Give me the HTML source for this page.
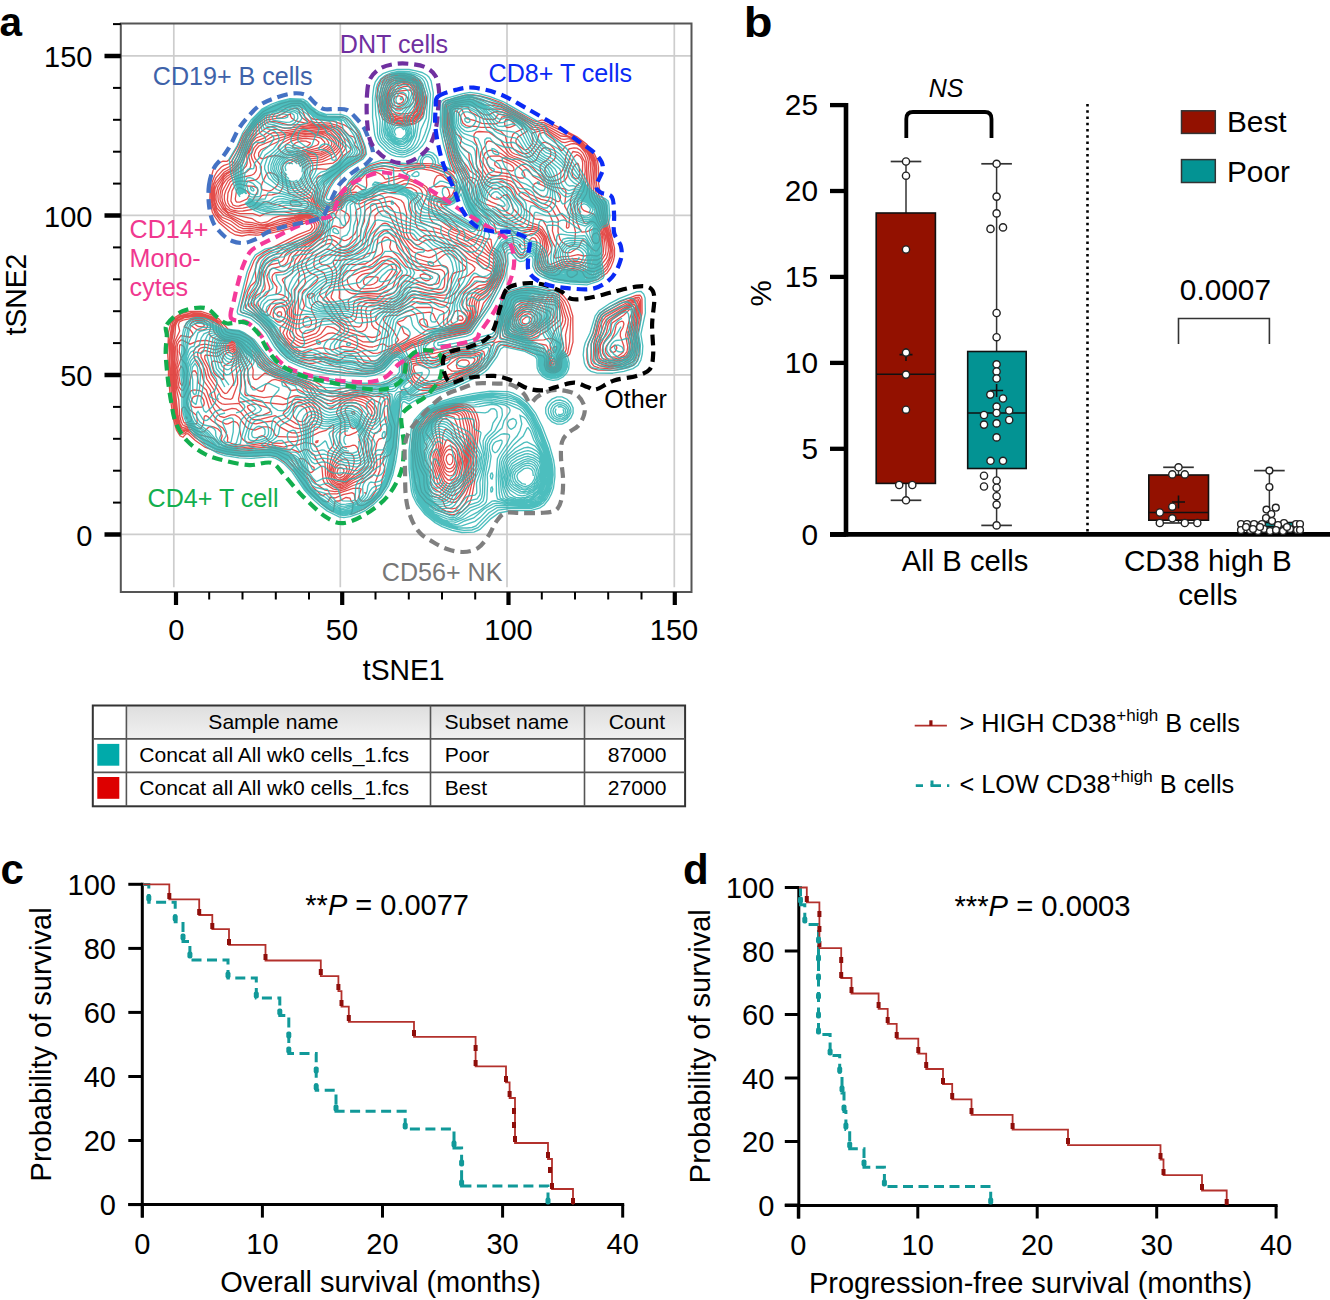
<!DOCTYPE html>
<html><head><meta charset="utf-8"><style>
html,body{margin:0;padding:0;background:#fff;}
body{width:1330px;height:1300px;overflow:hidden;}
svg{display:block;font-family:"Liberation Sans", sans-serif;}
</style></head><body>
<svg width="1330" height="1300" viewBox="0 0 1330 1300">
<rect width="1330" height="1300" fill="#fff"/>
<line x1="173.8" y1="23.5" x2="173.8" y2="587.3" stroke="#cdcdcd" stroke-width="1.7"/>
<line x1="340.3" y1="23.5" x2="340.3" y2="587.3" stroke="#cdcdcd" stroke-width="1.7"/>
<line x1="507" y1="23.5" x2="507" y2="587.3" stroke="#cdcdcd" stroke-width="1.7"/>
<line x1="674.3" y1="23.5" x2="674.3" y2="587.3" stroke="#cdcdcd" stroke-width="1.7"/>
<line x1="120.8" y1="55.8" x2="691.5" y2="55.8" stroke="#cdcdcd" stroke-width="1.7"/>
<line x1="120.8" y1="215.3" x2="691.5" y2="215.3" stroke="#cdcdcd" stroke-width="1.7"/>
<line x1="120.8" y1="374.8" x2="691.5" y2="374.8" stroke="#cdcdcd" stroke-width="1.7"/>
<line x1="120.8" y1="534.4" x2="691.5" y2="534.4" stroke="#cdcdcd" stroke-width="1.7"/>
<defs><clipPath id="clipA"><rect x="121.5" y="24.5" width="569" height="566.5"/></clipPath></defs>
<g clip-path="url(#clipA)">
<path d="M405.0,126.0 398.0,125.7 393.0,124.7 388.0,122.7 383.1,119.0 379.6,112.0 376.7,98.0 377.9,87.0 381.0,79.5 387.0,75.4 392.0,74.1 400.0,73.7 406.0,73.9 413.0,75.6 417.0,77.9 419.0,79.9 421.9,84.0 424.5,90.0 426.4,97.0 426.4,103.0 423.3,116.0 420.0,120.2 415.0,123.7 405.0,126.0 M365.0,374.0 345.5,373.0 322.6,370.0 307.0,366.2 293.0,361.0 287.0,357.2 282.0,352.2 277.0,345.9 269.0,333.0 260.4,323.0 252.0,316.1 246.0,313.5 242.0,312.6 240.3,311.0 240.9,306.0 249.0,273.6 254.0,261.0 257.0,256.5 264.0,251.9 298.0,234.7 309.9,230.0 312.3,227.0 311.0,223.8 309.0,222.6 307.0,222.5 290.0,228.7 272.0,232.9 258.0,235.2 249.0,234.7 242.0,236.0 235.4,235.0 230.1,232.0 219.0,222.6 214.3,216.0 212.3,212.0 209.8,201.0 210.3,181.0 213.0,170.5 216.8,165.0 219.2,163.0 223.0,161.2 227.0,161.3 230.0,159.0 237.2,147.0 243.4,134.0 254.4,120.0 263.0,111.8 272.1,107.0 280.0,103.9 290.0,101.2 300.0,101.0 304.0,102.4 310.0,108.6 318.0,114.6 325.0,116.8 343.0,117.0 345.6,118.0 349.0,120.8 355.6,128.0 359.6,134.0 363.6,144.0 365.3,150.0 365.2,154.0 361.0,158.8 347.6,167.0 340.4,173.0 333.6,180.0 328.5,188.0 323.7,199.0 323.9,202.0 327.0,204.2 329.0,203.8 332.0,201.4 344.0,187.7 348.0,184.5 362.0,170.3 370.0,165.7 381.0,162.6 391.0,162.4 399.0,164.4 406.0,165.1 417.0,163.3 433.0,163.8 446.0,167.6 455.0,173.0 455.1,174.0 450.5,163.0 448.4,156.0 444.2,137.0 442.9,128.0 443.0,104.0 443.9,102.0 446.0,100.5 465.0,95.2 473.0,95.0 481.0,96.2 490.0,98.5 501.0,102.5 534.0,121.0 537.0,121.5 542.0,120.0 549.0,122.4 577.0,136.8 586.5,144.0 594.5,154.0 597.5,161.0 598.5,167.0 598.5,183.0 599.5,189.0 601.4,196.0 605.7,202.0 607.9,220.0 614.5,248.0 614.5,256.0 613.4,261.0 610.6,268.0 607.0,273.0 598.0,279.3 589.0,282.0 580.0,282.1 576.0,281.2 568.0,281.0 549.0,277.8 540.0,273.3 537.0,270.5 535.5,268.0 534.9,264.0 536.9,243.0 536.7,241.0 535.0,238.4 533.0,237.6 532.0,237.8 529.6,240.0 528.9,248.0 528.0,251.0 525.2,256.0 522.0,258.0 520.0,257.8 517.6,256.0 508.0,243.3 506.0,242.4 505.0,242.7 503.3,244.0 502.4,246.0 504.7,253.0 506.0,261.0 503.9,274.0 502.6,278.0 488.2,306.0 470.3,332.0 467.0,333.7 436.0,340.2 411.4,348.0 397.8,355.0 392.6,359.0 385.0,367.3 382.0,369.6 375.0,372.6 365.0,374.0 M481.6,230.0 483.3,228.0 483.3,226.0 477.0,218.9 469.0,206.8 461.5,188.0 460.0,186.0 460.0,184.5 460.0,186.1 460.9,187.0 459.4,192.0 454.0,200.4 449.0,204.0 446.0,204.5 441.0,203.8 440.9,205.0 443.0,207.6 448.0,211.4 463.0,221.5 478.0,230.4 480.0,230.7 481.6,230.0 M500.5,238.0 500.1,236.0 498.8,236.0 498.1,237.0 498.4,238.0 499.0,238.5 500.5,238.0 M573.1,277.0 577.0,274.3 577.4,272.0 577.0,271.0 572.0,269.9 567.0,271.0 567.1,274.0 568.2,276.0 571.0,277.5 573.1,277.0 M352.0,514.0 350.9,514.0 352.2,511.0 353.3,503.0 351.2,501.0 349.9,498.0 346.0,497.5 338.8,501.0 335.0,501.2 333.4,511.0 333.0,511.7 331.0,510.7 321.0,503.4 307.7,490.0 294.0,471.6 286.0,463.3 276.0,456.5 269.0,455.1 251.0,456.3 241.0,456.0 226.0,453.8 216.0,451.5 205.0,447.2 195.0,440.3 188.0,433.7 186.0,433.9 183.0,437.3 180.0,435.7 176.4,430.0 173.2,418.0 170.3,398.0 168.5,376.0 168.4,363.0 167.6,353.0 168.6,332.0 170.5,324.0 174.0,318.0 181.0,313.6 190.0,311.3 201.0,311.5 213.0,315.4 219.0,319.1 228.0,329.2 232.0,330.4 239.0,331.1 249.0,336.5 252.0,339.2 266.0,357.4 270.0,361.4 281.0,368.0 294.6,373.0 319.0,378.8 347.0,383.8 358.0,384.9 381.0,384.9 387.0,383.5 395.5,378.0 399.0,377.6 401.6,376.0 402.8,373.0 403.2,361.0 405.0,358.4 408.0,356.6 429.0,351.2 465.0,344.6 493.0,337.1 495.4,334.0 497.5,321.0 503.0,299.1 505.0,295.3 509.0,292.4 520.0,288.8 526.0,287.8 533.0,287.8 548.0,290.6 554.0,290.2 559.0,292.4 563.6,296.0 566.9,300.0 569.5,305.0 572.8,316.0 573.0,342.0 569.8,354.0 568.0,356.0 564.0,357.0 562.0,359.0 561.4,367.0 560.0,370.0 558.0,371.7 555.0,372.8 551.0,372.8 548.0,371.7 546.0,370.0 544.3,365.0 545.0,358.6 543.0,355.8 534.5,354.0 524.0,349.7 501.0,344.5 497.7,347.0 493.9,356.0 485.1,368.0 477.0,373.6 469.0,377.6 453.0,384.4 423.0,394.0 417.2,395.0 411.0,395.1 409.0,394.2 405.0,389.5 403.0,389.5 401.2,391.0 400.1,393.0 400.0,407.0 399.2,410.0 395.9,448.0 392.0,469.0 388.0,480.9 385.8,486.0 380.9,494.0 373.0,502.4 364.0,508.9 352.0,514.0 M614.0,370.3 598.0,370.2 592.0,368.5 589.9,367.0 588.0,363.5 586.9,359.0 587.0,349.0 588.5,343.0 593.0,333.3 596.2,321.0 598.2,316.0 600.2,313.0 610.0,306.5 620.0,301.7 636.0,295.4 640.0,295.1 641.5,297.0 642.0,299.0 642.1,313.0 637.7,334.0 639.5,346.0 639.1,354.0 637.9,359.0 636.0,362.9 633.0,365.3 624.0,368.4 614.0,370.3 M456.0,514.1 452.0,514.8 446.0,513.7 436.0,509.5 425.6,502.0 419.8,495.0 417.0,489.0 415.1,482.0 413.0,467.3 412.9,458.0 411.9,450.0 412.0,442.0 413.2,431.0 415.5,425.0 418.6,420.0 425.0,413.7 434.0,408.2 446.0,404.5 455.0,403.3 466.0,404.2 470.0,405.6 473.0,407.8 476.9,414.0 478.8,421.0 479.1,425.0 476.3,452.0 476.2,466.0 475.2,478.0 472.0,496.0 470.0,502.3 467.8,506.0 462.0,511.6 456.0,514.1 M407.0,124.1 400.0,124.5 390.3,122.0 385.0,118.5 382.0,113.0 379.8,105.0 379.1,96.0 382.6,82.0 385.0,79.0 388.4,77.0 394.0,75.5 401.0,75.3 405.0,75.4 412.0,77.1 415.0,78.5 417.8,81.0 420.6,85.0 422.3,89.0 424.4,97.0 424.7,102.0 422.4,114.0 419.7,118.0 416.0,121.1 412.0,123.1 407.0,124.1 M592.0,278.0 588.0,278.1 586.0,277.4 584.5,276.0 582.3,272.0 578.0,269.7 573.0,268.3 561.7,270.0 559.0,274.1 555.0,275.7 549.0,274.9 542.0,272.0 538.5,269.0 537.1,266.0 538.6,254.0 540.1,249.0 540.5,245.0 540.0,240.0 537.0,235.7 534.0,233.9 531.0,233.7 525.0,237.0 524.0,240.0 525.1,249.0 523.1,254.0 521.0,254.9 518.5,253.0 514.2,246.0 512.5,237.0 510.7,233.0 507.0,231.2 504.0,230.6 496.0,232.4 494.6,225.0 493.0,221.9 482.5,216.0 474.0,208.2 469.4,201.0 462.5,182.0 452.7,163.0 449.7,154.0 444.7,128.0 444.6,107.0 446.0,103.0 452.0,100.6 466.0,97.2 471.0,97.0 500.0,104.6 514.0,111.6 534.0,123.1 537.0,123.7 541.0,122.3 544.0,122.7 570.0,134.7 581.0,141.2 589.3,149.0 593.3,155.0 595.8,161.0 596.7,168.0 596.4,183.0 597.4,190.0 599.4,197.0 603.9,204.0 606.0,220.0 610.3,236.0 612.9,250.0 612.8,255.0 611.6,260.0 607.3,269.0 605.0,271.5 601.0,274.3 596.0,277.0 592.0,278.0 M367.0,371.1 362.0,371.0 356.0,369.3 348.0,369.1 342.0,367.2 335.0,366.5 324.0,361.6 320.0,361.7 313.0,363.4 308.0,363.3 301.0,361.4 295.9,359.0 293.0,357.0 277.0,341.1 270.1,331.0 262.0,321.5 254.0,314.0 245.3,308.0 245.2,302.0 247.7,292.0 250.7,286.0 255.0,282.0 256.0,280.1 255.2,269.0 256.7,264.0 259.6,259.0 264.6,255.0 281.3,246.0 296.0,238.7 311.5,232.0 314.7,228.0 314.7,225.0 313.6,223.0 311.0,220.9 307.0,220.3 289.0,226.7 271.0,231.2 257.0,233.1 250.0,232.4 241.0,233.2 235.0,231.5 220.4,221.0 215.2,214.0 212.6,207.0 211.3,201.0 211.3,191.0 212.2,182.0 214.5,176.0 217.0,171.6 221.4,167.0 224.0,165.4 229.0,163.8 231.9,161.0 236.0,153.8 243.7,137.0 247.8,131.0 255.8,121.0 264.0,113.9 276.0,110.2 283.0,106.3 291.0,103.5 299.0,103.1 302.0,104.0 304.6,107.0 310.0,117.0 312.9,119.0 333.0,121.2 344.0,124.8 352.0,129.6 356.0,133.3 358.2,137.0 361.1,145.0 363.0,152.0 361.0,156.0 346.6,164.0 324.1,182.0 323.6,183.0 324.2,187.0 323.9,191.0 321.3,200.0 322.0,202.8 324.0,205.1 327.0,206.4 331.0,204.8 345.0,189.6 349.0,186.8 353.0,182.4 357.6,179.0 364.0,172.0 372.0,167.8 383.0,165.9 391.0,166.7 398.0,168.3 404.0,168.1 416.0,165.3 420.0,165.2 432.0,166.0 443.0,169.0 449.6,172.0 453.6,176.0 456.3,182.0 457.3,189.0 453.4,197.0 449.0,201.6 445.0,202.5 437.4,201.0 436.9,204.0 438.0,207.0 441.0,210.5 450.3,218.0 456.8,226.0 475.0,234.5 482.0,236.7 486.0,239.0 490.0,239.0 491.0,239.6 492.0,247.0 500.0,252.3 503.2,260.0 503.5,263.0 502.1,273.0 500.2,279.0 496.0,287.2 492.0,293.1 483.5,303.0 479.1,316.0 469.0,330.8 465.0,332.4 434.0,338.6 412.0,345.9 402.0,350.6 393.0,356.3 381.0,367.9 374.0,370.7 367.0,371.1 M429.0,390.1 423.0,390.6 417.0,389.2 407.7,380.0 406.3,377.0 404.9,364.0 405.5,361.0 407.0,359.4 421.0,355.5 434.0,353.4 458.0,348.0 471.0,346.1 482.0,345.3 494.0,341.1 497.4,336.0 499.4,321.0 505.9,299.0 508.0,295.9 513.0,293.0 519.0,291.2 527.0,290.1 533.0,290.5 548.0,293.3 554.0,292.9 560.0,295.8 564.6,301.0 567.4,307.0 570.8,318.0 569.6,342.0 567.6,353.0 566.8,354.0 563.0,355.5 561.0,357.7 560.3,360.0 560.0,367.0 559.0,369.0 557.0,370.7 554.0,371.6 551.0,371.4 547.2,369.0 546.0,365.0 546.9,357.0 545.0,353.7 543.0,352.2 503.0,341.5 499.0,341.3 495.0,342.6 491.6,346.0 490.0,349.0 488.8,356.0 487.0,361.0 483.0,366.8 478.0,370.6 470.0,374.9 453.0,382.0 439.0,387.3 429.0,390.1 M615.0,368.1 610.0,368.8 599.0,367.9 593.8,366.0 591.4,363.0 590.8,359.0 591.2,344.0 595.0,333.4 597.8,322.0 601.0,315.4 605.0,312.2 621.9,303.0 636.0,297.3 639.0,297.2 640.5,300.0 640.6,313.0 636.0,334.0 637.6,345.0 636.6,355.0 634.5,360.0 632.0,362.4 623.0,366.4 615.0,368.1 M364.0,505.0 361.0,505.7 358.0,504.9 356.4,501.0 355.1,500.0 354.2,494.0 352.0,492.7 343.0,494.6 334.8,498.0 330.0,497.3 328.5,501.0 327.0,502.1 323.0,501.0 310.5,489.0 305.3,481.0 287.9,460.0 277.0,453.5 270.0,452.1 241.0,453.3 227.0,451.7 216.2,449.0 202.0,442.1 195.0,437.6 189.0,432.0 187.0,431.6 183.0,434.2 181.0,434.0 177.6,429.0 174.7,418.0 171.9,398.0 169.9,376.0 169.3,342.0 171.6,326.0 173.0,322.0 175.1,319.0 181.0,315.3 191.0,313.0 201.0,313.1 213.0,317.0 219.8,322.0 226.0,331.6 231.0,333.5 240.0,335.2 246.0,337.9 250.0,340.7 266.0,361.0 273.5,367.0 287.0,372.8 315.0,381.4 320.0,384.4 326.2,390.0 330.0,391.1 333.0,391.1 342.0,388.7 352.0,387.2 363.0,388.1 372.0,389.7 384.0,389.0 387.0,390.2 389.7,396.0 389.9,409.0 395.0,426.0 392.8,447.0 390.4,454.0 388.0,456.0 384.0,456.9 383.0,459.9 382.8,463.0 384.7,467.0 384.8,471.0 382.3,478.0 381.4,485.0 379.3,491.0 376.9,495.0 372.0,500.4 364.0,505.0 M453.0,512.2 446.0,511.1 442.0,509.1 435.0,503.4 427.0,498.5 421.6,492.0 420.1,486.0 419.2,478.0 415.9,466.0 414.0,452.0 413.8,442.0 415.0,432.0 416.4,428.0 419.8,422.0 426.7,415.0 435.0,409.7 443.0,406.9 454.0,405.0 462.0,405.2 468.0,407.0 471.7,410.0 474.5,415.0 476.7,423.0 476.8,428.0 473.8,455.0 473.3,477.0 469.4,494.0 465.4,503.0 460.0,509.5 453.0,512.2 M405.0,123.1 401.0,123.3 395.0,122.2 389.0,119.8 385.1,116.0 382.3,109.0 381.1,104.0 380.7,97.0 384.1,84.0 387.0,79.9 393.0,77.3 404.0,76.7 413.0,78.9 416.0,81.0 418.5,84.0 421.6,91.0 423.0,97.0 423.3,102.0 420.9,114.0 418.0,117.9 414.0,120.7 405.0,123.1 M596.0,274.0 592.0,274.9 589.0,274.2 586.3,272.0 578.8,268.0 574.0,266.4 568.0,266.8 559.0,268.9 555.0,272.1 553.0,272.8 549.0,272.6 543.0,270.4 540.0,268.0 538.8,265.0 540.5,255.0 542.5,249.0 542.8,245.0 541.9,239.0 538.4,234.0 535.0,231.8 530.0,231.2 522.0,233.3 518.0,236.5 510.9,229.0 507.0,226.9 500.0,225.3 492.2,218.0 480.0,208.7 474.2,203.0 471.7,199.0 465.6,182.0 454.1,162.0 451.4,154.0 446.2,127.0 446.1,108.0 446.8,105.0 447.8,104.0 454.0,102.0 470.0,99.1 473.0,99.6 484.0,104.9 493.0,105.4 501.0,107.1 513.0,112.9 534.0,125.2 537.0,125.7 542.0,124.3 545.0,124.9 561.0,133.3 575.0,138.5 581.0,142.5 587.0,148.0 591.9,155.0 594.4,161.0 595.3,168.0 594.7,183.0 595.6,191.0 597.7,198.0 602.0,204.5 604.5,220.0 608.9,236.0 611.5,250.0 610.8,257.0 607.0,266.1 603.0,270.5 596.0,274.0 M376.0,368.1 372.0,368.9 364.0,368.3 360.0,366.6 356.2,363.0 352.0,361.9 344.0,361.8 337.0,363.1 323.5,359.0 319.0,358.9 309.0,360.5 301.0,358.5 295.0,355.0 279.0,339.5 266.4,323.0 248.6,306.0 248.3,302.0 249.3,297.0 251.1,293.0 256.0,287.3 258.0,283.9 259.0,280.0 259.4,270.0 264.1,261.0 268.0,257.6 276.0,254.0 283.0,248.1 312.0,234.1 315.5,231.0 317.1,227.0 316.7,224.0 314.5,221.0 311.1,219.0 308.0,218.6 305.0,219.1 294.0,223.3 270.0,229.7 257.0,231.2 250.0,230.5 242.0,231.1 238.0,229.9 231.5,225.0 222.2,220.0 218.4,216.0 215.3,211.0 212.6,202.0 212.4,193.0 213.4,184.0 216.0,177.9 223.0,170.1 230.0,166.2 233.3,163.0 236.8,157.0 243.4,141.0 246.7,135.0 257.0,122.1 265.0,115.8 278.0,113.1 286.2,108.0 292.0,105.7 299.0,105.5 301.8,108.0 305.0,117.0 309.0,120.8 315.0,122.3 329.0,123.1 338.0,125.6 342.2,128.0 349.0,135.4 353.8,137.0 355.0,138.2 355.6,141.0 354.3,145.0 358.0,148.3 360.0,151.0 360.0,153.0 359.0,154.4 356.0,156.1 348.0,157.2 345.0,159.7 340.0,165.8 336.0,168.8 322.0,175.6 319.0,176.0 317.0,178.0 316.6,181.0 317.7,186.0 320.3,191.0 319.4,199.0 319.7,202.0 321.0,204.5 324.0,207.3 328.0,208.1 332.0,206.2 339.7,197.0 346.0,191.0 351.0,188.1 353.4,185.0 360.0,180.2 366.5,173.0 372.0,170.0 382.0,168.2 395.0,170.8 404.0,170.5 416.0,167.0 419.0,166.8 431.0,167.9 436.0,169.3 445.0,172.2 449.8,175.0 453.0,179.4 454.8,187.0 454.4,190.0 452.2,195.0 448.0,200.0 444.0,200.6 435.0,198.2 433.8,201.0 434.0,205.0 438.0,213.0 445.8,220.0 451.0,226.0 455.3,229.0 463.0,231.8 472.4,237.0 487.5,242.0 491.0,249.0 498.0,255.0 500.6,260.0 501.3,263.0 501.1,268.0 500.4,274.0 499.1,278.0 494.8,286.0 492.0,289.6 487.0,294.8 481.1,299.0 479.4,301.0 477.3,315.0 474.3,321.0 468.0,329.7 464.0,331.3 434.0,336.5 411.0,344.8 402.0,349.0 391.9,355.0 385.2,361.0 382.0,365.0 376.0,368.1 M520.0,247.4 519.1,245.0 520.0,244.4 520.5,247.0 520.0,247.4 M556.0,370.1 551.0,370.4 547.9,368.0 547.1,364.0 548.5,359.0 548.4,356.0 546.0,350.6 544.0,348.5 520.0,343.6 503.0,339.0 501.0,338.1 500.3,337.0 500.2,327.0 501.8,318.0 508.6,299.0 512.0,295.6 519.0,293.2 526.0,292.6 547.0,295.5 554.0,295.3 559.0,297.7 562.7,302.0 568.3,319.0 567.8,325.0 565.5,335.0 566.3,349.0 565.2,352.0 562.0,354.1 559.8,357.0 559.2,359.0 559.3,366.0 558.0,368.7 556.0,370.1 M612.0,367.2 607.0,367.2 599.7,366.0 595.9,364.0 593.9,361.0 593.6,344.0 599.3,323.0 602.2,317.0 606.0,313.9 629.0,301.5 636.0,298.9 638.0,298.9 639.3,302.0 639.3,312.0 634.5,334.0 636.1,345.0 635.0,354.0 632.5,359.0 629.0,361.8 622.0,365.0 612.0,367.2 M279.9,317.0 281.1,316.0 281.7,314.0 281.0,312.1 279.0,311.7 277.3,313.0 276.9,315.0 278.0,316.7 279.9,317.0 M365.0,501.1 361.9,501.0 358.3,498.0 361.2,489.0 359.0,488.1 353.0,488.4 337.0,493.9 326.0,493.9 323.0,495.6 321.0,494.7 312.8,487.0 308.0,479.0 296.3,467.0 289.0,456.0 278.0,451.4 271.0,449.9 263.0,449.6 242.0,451.1 227.0,449.5 218.0,447.0 209.0,441.7 198.0,437.0 189.0,430.3 186.0,430.5 183.0,432.3 181.0,432.1 178.4,428.0 175.5,417.0 170.9,375.0 171.2,362.0 170.5,343.0 172.9,326.0 176.0,319.8 179.0,317.6 183.0,316.0 195.0,314.1 202.0,314.5 213.0,318.3 218.7,323.0 220.5,326.0 222.0,331.2 224.0,333.8 230.1,336.0 239.0,337.7 247.1,342.0 251.0,345.4 265.1,363.0 271.3,368.0 286.0,374.5 310.0,382.0 315.0,385.0 318.7,389.0 327.0,392.5 332.0,393.5 338.0,393.2 350.0,390.2 353.0,390.0 361.0,390.8 374.0,393.8 381.0,393.4 387.0,396.2 388.2,400.0 387.5,409.0 388.3,419.0 391.5,427.0 390.8,437.0 389.0,440.6 386.0,442.1 383.0,451.8 380.5,456.0 380.0,470.0 375.0,483.0 375.0,484.5 376.3,487.0 375.6,491.0 371.0,498.2 369.0,499.7 365.0,501.1 M429.0,388.0 423.0,387.3 415.0,383.4 412.4,381.0 409.5,376.0 407.6,370.0 406.8,364.0 408.2,361.0 411.0,359.8 421.0,357.9 435.0,357.1 448.0,352.5 464.0,349.2 473.0,348.9 482.0,350.8 483.9,352.0 484.7,356.0 483.8,361.0 481.0,365.8 475.9,370.0 469.0,373.6 441.0,385.0 429.0,388.0 M456.0,508.1 452.0,508.9 446.5,508.0 444.6,506.0 443.1,501.0 436.6,497.0 430.0,496.0 425.9,492.0 424.9,490.0 424.0,485.0 423.9,476.0 419.6,468.0 418.0,462.3 415.9,452.0 415.5,444.0 416.6,433.0 417.5,430.0 421.0,423.6 426.0,417.9 432.4,413.0 438.0,409.9 447.0,407.0 455.0,406.1 463.0,406.9 468.8,410.0 471.7,415.0 474.2,423.0 474.6,427.0 473.5,447.0 472.0,456.0 471.6,476.0 470.3,483.0 466.3,494.0 459.7,505.0 456.0,508.1 M402.0,122.0 393.0,120.2 388.0,117.4 385.0,112.8 382.4,104.0 382.3,97.0 386.3,84.0 389.0,80.8 395.0,78.5 405.0,78.2 411.0,79.3 414.0,80.8 417.0,83.8 418.9,87.0 422.0,97.9 422.1,103.0 421.2,109.0 420.1,113.0 418.1,116.0 412.0,120.3 402.0,122.0 M595.0,271.3 592.0,271.5 587.0,270.2 579.0,265.8 574.0,264.6 563.1,266.0 552.0,270.6 549.0,270.5 544.0,268.9 541.6,267.0 540.7,264.0 542.4,255.0 544.5,249.0 544.6,244.0 543.4,238.0 540.0,233.0 537.0,230.6 533.0,229.3 528.0,229.3 521.0,230.8 519.0,230.0 513.0,225.9 504.0,221.6 493.0,211.4 485.0,209.2 477.0,201.3 474.9,198.0 471.0,185.1 465.1,177.0 456.0,162.0 453.1,154.0 447.6,127.0 447.5,111.0 448.0,107.0 449.0,105.4 455.0,103.5 469.0,101.4 472.0,102.1 477.4,106.0 484.0,109.0 488.0,109.4 497.0,108.8 502.0,109.7 513.0,114.7 524.0,120.9 533.0,127.1 537.0,127.7 542.0,126.3 544.0,126.5 561.0,136.0 567.0,136.7 575.0,139.6 580.0,142.9 585.8,148.0 591.3,156.0 593.2,161.0 594.0,168.0 593.0,184.0 593.8,193.0 595.8,199.0 600.0,205.0 603.3,221.0 607.8,236.0 610.2,250.0 609.0,258.2 606.0,263.7 602.0,268.1 595.0,271.3 M376.0,366.0 372.0,366.6 364.0,365.0 358.2,361.0 355.0,356.5 351.0,354.9 346.0,355.6 340.6,360.0 338.0,360.5 325.0,357.0 308.0,357.8 301.0,355.7 296.0,352.9 289.3,347.0 279.8,337.0 274.0,327.2 269.5,322.0 260.0,314.4 251.5,305.0 251.2,302.0 252.7,297.0 260.7,285.0 261.2,273.0 266.0,264.2 270.0,261.1 279.0,257.4 285.0,250.7 313.9,235.0 317.8,231.0 319.2,227.0 318.7,223.0 317.0,220.7 313.0,217.9 309.0,217.2 305.0,217.6 295.0,221.4 270.0,228.1 257.0,229.3 250.0,228.5 243.0,228.7 239.0,227.0 230.9,221.0 222.0,217.3 219.0,214.3 216.4,210.0 213.5,200.0 213.8,190.0 215.3,183.0 224.0,172.3 231.0,168.3 235.2,164.0 238.8,158.0 245.0,141.0 247.0,137.2 258.0,123.5 266.0,117.7 279.0,115.6 291.0,109.0 296.0,108.2 298.0,108.9 298.8,110.0 299.9,114.0 302.4,118.0 307.9,122.0 315.0,124.1 329.0,125.1 338.0,127.7 341.0,129.5 346.2,136.0 349.0,142.0 351.0,148.0 351.0,150.0 344.0,155.2 338.2,163.0 335.0,165.6 327.0,169.3 318.0,168.6 314.0,169.0 311.0,170.8 309.8,173.0 310.0,176.9 311.6,182.0 315.4,187.0 317.1,191.0 318.3,203.0 320.0,206.1 323.0,208.9 327.0,210.1 332.0,208.3 341.6,197.0 348.0,191.5 353.0,189.6 356.0,185.9 357.2,186.0 362.0,189.8 365.0,189.5 366.2,188.0 366.8,185.0 366.3,177.0 368.9,174.0 373.0,171.8 375.0,171.7 380.0,173.8 382.9,176.0 385.1,179.0 386.0,179.2 400.0,175.7 406.0,175.5 407.6,172.0 417.0,168.8 422.0,168.9 432.0,170.6 446.0,175.7 449.0,178.3 450.7,181.0 450.0,181.9 449.0,181.6 443.0,176.4 440.0,175.0 437.0,176.0 435.0,178.9 433.9,183.0 434.1,186.0 436.0,187.0 442.0,185.8 446.0,186.7 448.5,190.0 449.9,195.0 448.0,197.4 445.0,198.8 440.1,198.0 434.0,194.9 433.0,195.5 431.2,200.0 431.0,204.0 432.3,211.0 435.0,216.0 437.0,218.2 453.0,229.7 462.0,233.5 472.0,239.2 483.1,243.0 486.0,245.6 488.9,250.0 495.6,256.0 498.6,261.0 499.4,266.0 499.3,272.0 497.7,278.0 492.0,287.0 486.0,292.7 480.0,296.8 477.6,300.0 476.2,304.0 475.3,315.0 473.4,320.0 468.0,328.0 465.0,329.8 454.0,331.9 434.0,334.1 411.0,343.2 405.0,345.8 390.3,354.0 385.0,358.5 380.2,364.0 376.0,366.0 M556.0,369.2 554.0,369.8 551.0,369.4 548.4,367.0 548.1,364.0 550.1,356.0 547.5,347.0 546.0,345.2 535.0,342.8 528.0,342.8 523.0,342.0 505.0,337.0 503.0,335.5 501.8,328.0 503.0,318.9 505.0,313.9 509.8,306.0 511.5,300.0 514.7,297.0 521.0,295.4 546.0,297.7 553.0,297.5 557.1,299.0 561.0,303.0 565.7,319.0 565.0,323.5 562.0,330.0 560.8,335.0 563.9,348.0 563.3,350.0 558.5,356.0 558.0,359.0 558.4,366.0 556.0,369.2 M617.0,365.0 610.0,366.0 604.0,365.1 599.0,363.3 596.0,360.0 595.3,355.0 595.4,345.0 600.0,327.0 603.1,320.0 606.0,316.6 629.2,303.0 634.0,301.0 637.0,300.8 638.1,304.0 637.9,313.0 633.0,334.0 634.5,345.0 633.8,352.0 631.5,357.0 629.7,359.0 622.8,363.0 617.0,365.0 M280.5,322.0 284.1,319.0 285.3,316.0 285.6,313.0 284.0,308.5 282.0,307.0 280.0,306.7 277.0,307.8 275.0,309.6 273.5,312.0 273.0,315.0 273.8,318.0 276.0,320.8 278.0,322.0 280.5,322.0 M339.0,491.2 335.0,491.6 325.0,490.1 316.3,484.0 310.6,477.0 299.7,467.0 292.8,455.0 289.0,452.1 273.0,448.2 264.0,447.4 242.0,449.1 228.0,447.6 219.2,444.0 215.7,440.0 213.0,438.1 198.0,434.4 191.0,429.3 188.0,428.8 183.0,430.8 181.0,430.3 178.7,426.0 176.5,417.0 171.8,375.0 172.2,361.0 171.6,343.0 174.2,326.0 175.7,322.0 177.4,320.0 184.0,316.9 197.0,315.1 203.0,315.8 212.0,318.9 216.0,321.8 217.8,324.0 218.7,326.0 219.0,331.2 221.5,335.0 225.2,337.0 237.0,339.3 242.4,342.0 255.0,353.8 263.0,363.6 268.2,368.0 274.0,371.4 285.1,376.0 300.0,380.2 309.0,383.8 312.5,386.0 320.0,392.9 327.0,396.2 333.0,396.9 341.0,394.4 353.0,392.2 361.0,393.2 374.0,396.3 382.0,396.7 383.9,398.0 385.1,402.0 383.9,410.0 384.9,419.0 387.1,427.0 386.6,434.0 385.0,437.5 379.2,439.0 377.1,442.0 375.4,451.0 377.0,464.0 375.9,471.0 372.0,476.4 363.0,482.1 353.0,485.5 345.0,489.4 339.0,491.2 M435.0,385.2 430.0,386.0 426.0,385.6 415.0,381.0 413.4,379.0 410.1,371.0 409.0,366.0 409.4,363.0 412.0,361.6 420.0,360.3 435.0,360.6 454.0,353.4 463.0,351.4 473.0,351.3 480.0,352.7 481.4,354.0 482.0,358.0 480.4,363.0 474.4,369.0 468.0,372.4 451.0,378.4 441.5,383.0 435.0,385.2 M455.0,502.4 452.0,502.4 447.5,501.0 438.0,495.1 432.0,492.8 428.6,489.0 426.9,483.0 426.7,475.0 422.0,466.4 420.2,461.0 417.9,451.0 417.5,444.0 419.0,431.0 422.2,425.0 427.3,419.0 435.0,413.0 439.0,410.8 447.0,408.2 455.0,407.3 462.0,408.2 467.0,411.3 468.6,414.0 472.2,427.0 472.0,446.0 470.4,456.0 470.0,475.0 468.7,482.0 466.6,488.0 464.0,492.6 458.4,500.0 455.0,502.4 M366.0,494.2 365.0,493.0 366.1,493.0 366.0,494.2 M406.0,120.1 401.0,120.6 395.0,119.5 391.1,118.0 387.7,115.0 385.1,109.0 383.7,103.0 384.1,96.0 388.0,84.9 390.0,82.6 394.0,80.5 404.0,79.5 412.0,80.9 416.0,84.1 419.1,90.0 420.9,101.0 420.0,108.6 418.7,113.0 416.4,116.0 413.7,118.0 410.0,119.5 406.0,120.1 M595.0,268.1 591.0,268.6 579.0,263.7 574.0,262.9 563.0,264.1 551.0,268.7 545.0,267.3 543.3,266.0 542.7,264.0 544.2,255.0 546.4,249.0 546.4,245.0 544.6,237.0 540.3,231.0 537.5,229.0 534.0,227.9 524.0,227.3 515.0,223.2 505.0,217.0 496.0,207.6 484.0,203.5 480.0,201.0 477.9,198.0 476.8,195.0 475.0,184.6 466.7,176.0 463.0,169.1 457.3,161.0 455.1,155.0 449.0,127.0 448.7,114.0 450.1,107.0 455.0,105.1 468.0,103.9 472.0,105.5 475.6,108.0 480.0,112.6 484.0,114.7 489.0,115.0 493.0,112.4 497.0,111.6 502.0,112.0 511.0,115.3 522.0,121.5 532.0,129.3 536.0,129.8 542.0,128.3 545.0,128.7 561.0,138.9 564.0,139.4 569.0,138.7 575.0,140.7 585.0,148.5 590.1,156.0 591.9,161.0 592.3,169.0 591.0,186.0 592.0,196.0 593.7,200.0 598.0,206.0 601.2,220.0 606.0,233.2 608.0,243.0 608.4,251.0 606.6,258.0 601.0,265.2 595.0,268.1 M374.0,364.0 364.0,361.9 358.5,354.0 356.0,352.2 353.0,351.1 345.0,351.4 339.0,354.6 336.0,355.3 323.0,353.1 313.0,355.2 308.0,355.3 304.0,354.6 299.0,352.5 293.0,348.2 285.8,341.0 281.7,336.0 280.3,333.0 280.0,327.8 285.0,322.9 287.0,319.3 287.9,316.0 287.5,310.0 285.0,305.1 281.0,303.1 276.0,304.5 271.9,309.0 269.8,315.0 267.0,315.7 261.5,313.0 254.0,304.0 254.0,301.0 256.0,295.8 263.0,291.5 264.9,289.0 265.1,286.0 263.4,275.0 264.3,272.0 268.0,266.7 271.0,264.5 278.0,263.1 282.3,261.0 284.0,259.0 285.0,255.0 287.0,253.0 299.0,245.2 313.0,237.4 317.0,234.3 320.0,230.7 321.4,226.0 321.0,222.9 319.0,219.9 314.0,216.6 310.0,215.8 305.0,216.3 295.0,219.8 265.0,227.4 257.0,227.6 251.0,226.5 244.0,226.4 240.0,224.7 231.9,219.0 224.0,215.5 217.0,208.3 214.8,202.0 214.5,197.0 215.0,189.1 217.1,184.0 224.5,174.0 232.0,169.9 237.0,164.9 240.6,159.0 246.5,142.0 248.7,138.0 259.4,125.0 267.0,119.8 282.0,117.7 290.4,114.0 290.6,116.0 291.6,118.0 295.8,121.0 315.0,125.4 327.0,126.3 333.0,127.7 338.4,130.0 342.0,134.3 344.7,140.0 346.0,147.0 345.2,149.0 337.0,160.4 333.0,163.1 311.0,165.8 307.0,168.4 304.5,172.0 304.5,175.0 307.3,183.0 310.0,187.0 314.4,191.0 317.4,205.0 320.0,208.6 323.0,211.0 328.0,212.0 333.0,209.7 342.0,198.5 350.0,192.4 356.0,192.1 361.0,194.3 364.0,194.3 369.0,192.1 375.0,186.7 381.0,183.7 401.0,177.9 404.0,177.7 409.0,178.6 423.0,184.5 426.5,187.0 428.7,190.0 430.5,195.0 428.8,202.0 428.8,214.0 430.4,219.0 433.0,222.6 441.0,226.0 454.0,233.0 461.0,235.1 476.1,243.0 484.0,248.4 488.0,252.4 493.0,255.8 496.9,262.0 498.0,271.0 496.9,277.0 491.0,286.0 485.0,291.0 478.0,295.6 475.9,298.0 474.5,302.0 474.1,312.0 473.1,317.0 470.2,323.0 467.0,327.3 464.0,328.8 450.0,331.2 437.0,331.0 431.0,332.3 405.0,344.1 390.0,352.2 384.7,356.0 379.0,362.2 374.0,364.0 M536.0,340.2 529.0,340.7 524.0,340.2 507.0,335.3 505.0,333.7 503.6,327.0 504.9,319.0 506.7,315.0 512.0,307.0 514.0,301.6 517.0,299.0 521.0,298.0 531.0,298.1 543.0,299.5 553.0,299.6 557.0,301.3 560.0,305.0 562.7,317.0 562.7,321.0 561.0,325.3 558.0,327.1 554.6,331.0 552.0,338.6 549.0,338.4 544.0,339.8 536.0,340.2 M612.0,364.1 608.0,364.1 602.0,362.5 599.0,360.7 597.3,358.0 596.8,351.0 597.2,345.0 603.3,325.0 606.0,320.0 608.0,318.0 630.0,304.1 634.0,302.5 636.0,302.8 636.8,306.0 636.5,313.0 631.3,334.0 632.9,346.0 632.0,352.0 630.0,356.1 627.0,358.8 619.0,362.7 612.0,364.1 M340.0,489.2 336.0,489.6 333.0,488.9 325.0,484.0 323.1,480.0 321.9,467.0 318.0,463.0 314.0,454.7 308.0,449.9 305.0,449.4 299.0,452.2 292.0,449.3 285.0,449.2 264.0,445.4 245.0,447.3 234.0,446.5 227.4,445.0 222.8,442.0 221.0,440.0 222.2,436.0 220.8,432.0 218.0,429.0 214.0,427.1 211.0,426.5 209.0,426.8 204.0,431.7 201.0,432.1 198.0,431.4 191.0,427.4 188.0,427.4 183.0,429.3 181.0,428.4 179.4,425.0 177.2,416.0 172.6,375.0 173.3,361.0 172.8,344.0 174.8,336.0 175.7,325.0 177.9,321.0 184.0,317.9 197.0,316.0 204.0,316.9 212.0,320.0 216.0,324.0 216.3,331.0 219.6,336.0 225.0,338.8 237.0,341.2 241.0,343.6 247.3,351.0 253.0,355.1 261.0,364.4 265.0,368.0 272.0,372.1 279.0,375.2 288.0,378.7 300.0,381.9 308.0,385.4 313.7,390.0 316.6,395.0 325.0,399.4 328.0,400.3 332.0,400.2 343.0,395.7 353.0,394.0 369.6,397.0 375.0,400.6 380.0,402.9 380.5,405.0 379.7,419.0 381.2,429.0 380.0,431.1 375.0,433.0 371.8,441.0 371.8,452.0 374.4,463.0 373.3,469.0 370.0,473.7 365.0,477.5 353.0,482.9 345.0,487.7 340.0,489.2 M553.0,369.0 550.0,367.8 548.8,365.0 551.8,356.0 550.0,345.0 553.0,339.0 560.0,343.3 560.9,347.0 556.6,356.0 557.6,366.0 556.0,368.2 553.0,369.0 M436.0,383.1 430.0,384.0 426.0,383.3 422.0,381.7 415.0,376.9 411.5,369.0 411.1,366.0 411.9,364.0 419.0,362.5 427.0,363.5 433.0,363.3 461.0,353.7 472.0,353.1 477.0,353.8 479.3,355.0 479.8,358.0 478.8,362.0 476.5,365.0 472.0,368.7 466.0,371.7 449.0,376.9 441.4,381.0 436.0,383.1 M456.0,499.1 453.0,499.7 449.0,498.3 431.9,487.0 430.6,483.0 430.5,474.0 429.0,471.0 426.0,468.4 424.0,465.0 420.7,452.0 420.1,444.0 420.3,434.0 421.0,431.0 424.0,425.5 428.5,420.0 436.0,414.1 440.0,411.8 448.0,409.1 455.0,408.6 462.0,410.2 464.6,412.0 466.1,414.0 469.5,426.0 470.5,445.0 468.9,457.0 468.3,475.0 467.0,482.0 464.0,488.6 459.0,496.0 456.0,499.1 M312.0,472.3 310.0,472.5 309.0,471.8 303.1,466.0 301.0,463.0 299.3,459.0 301.0,458.4 304.0,459.2 310.0,465.0 314.0,467.5 314.2,470.0 312.0,472.3 M404.0,119.1 396.0,118.4 390.6,116.0 387.6,112.0 385.3,105.0 385.3,97.0 389.0,87.0 391.5,84.0 396.0,81.8 404.0,81.0 412.0,82.5 416.4,87.0 419.0,95.0 419.5,103.0 417.2,113.0 415.0,115.4 412.0,117.4 404.0,119.1 M553.0,266.4 548.0,266.5 546.0,265.7 544.8,264.0 545.6,257.0 548.1,250.0 548.3,247.0 546.0,237.0 541.6,230.0 538.0,227.4 528.0,225.0 517.6,220.0 512.0,215.3 506.3,212.0 501.2,206.0 491.0,201.8 484.0,197.7 481.8,195.0 477.4,181.0 475.0,178.9 470.0,177.0 467.6,174.0 464.5,168.0 458.8,160.0 455.0,148.0 450.1,124.0 450.3,113.0 451.0,109.1 452.0,107.8 455.0,106.7 460.0,106.2 468.0,107.0 470.0,111.0 472.0,112.9 484.0,119.0 494.0,119.5 495.9,118.0 497.4,115.0 500.0,114.1 507.0,115.4 512.0,117.4 522.7,124.0 527.4,131.0 518.0,137.0 516.0,140.0 515.9,142.0 516.8,144.0 524.0,149.6 526.0,149.8 528.0,149.0 532.3,144.0 533.1,140.0 531.6,134.0 532.0,133.1 543.0,130.1 547.0,131.6 562.0,142.2 565.0,142.6 571.0,140.8 575.0,141.8 583.0,147.6 587.0,152.5 589.2,157.0 590.4,163.0 590.5,169.0 589.1,186.0 589.6,197.0 591.1,201.0 595.1,206.0 599.4,221.0 602.7,228.0 605.3,236.0 606.3,243.0 605.6,254.0 601.0,261.3 597.0,264.8 574.0,261.0 563.0,262.0 553.0,266.4 M300.5,178.0 302.6,183.0 305.9,188.0 312.7,194.0 315.9,205.0 317.4,208.0 322.0,212.8 326.0,214.7 329.0,214.3 334.0,211.5 342.5,200.0 351.0,194.1 355.0,194.3 360.0,197.4 364.0,197.2 370.6,194.0 379.0,187.4 396.0,183.9 405.0,179.8 407.4,180.0 413.3,182.0 420.0,185.1 424.3,188.0 427.0,192.0 427.0,195.0 421.7,208.0 419.9,219.0 421.0,222.3 431.3,227.0 439.0,229.0 467.5,242.0 473.0,245.5 478.0,250.0 483.0,252.1 492.7,259.0 495.9,265.0 496.6,274.0 493.0,281.6 487.0,287.5 477.0,293.1 473.7,297.0 471.9,303.0 472.6,312.0 472.0,316.0 470.0,321.0 467.0,325.7 464.0,327.7 449.0,330.0 444.0,329.9 436.0,328.4 428.0,329.3 419.8,335.0 404.0,342.6 386.8,352.0 382.6,355.0 377.7,360.0 375.0,361.1 371.0,360.6 366.9,356.0 360.8,351.0 354.0,347.8 343.0,346.1 332.0,350.1 325.0,348.1 320.0,347.9 314.0,349.1 306.0,352.4 303.0,352.0 298.3,350.0 292.0,345.1 285.4,338.0 282.9,333.0 288.7,321.0 289.9,316.0 289.2,308.0 286.1,302.0 284.0,300.3 281.0,299.4 278.0,299.6 274.3,301.0 270.8,304.0 267.0,311.5 266.0,312.1 264.0,311.8 261.7,310.0 258.1,305.0 257.9,302.0 260.0,298.2 266.1,295.0 269.0,291.0 269.6,287.0 267.2,279.0 266.9,276.0 270.0,270.0 272.0,268.5 279.0,267.0 285.0,264.5 287.3,262.0 289.3,256.0 291.6,253.0 299.5,247.0 314.0,238.3 319.0,234.3 321.7,231.0 323.0,228.0 323.5,224.0 322.8,221.0 321.0,218.9 316.0,215.7 310.0,214.5 305.0,215.1 295.0,218.4 281.6,221.0 269.7,225.0 264.0,226.1 257.0,225.9 252.0,224.7 243.0,223.9 226.0,214.2 222.0,210.9 218.8,207.0 216.8,203.0 216.0,200.0 216.0,195.0 217.8,187.0 224.0,176.7 226.9,174.0 234.4,170.0 240.5,163.0 242.5,159.0 247.9,143.0 250.2,139.0 262.0,126.0 266.0,123.1 270.0,121.5 277.0,121.9 288.0,124.8 302.0,124.6 328.0,127.8 334.0,129.7 339.4,135.0 342.4,141.0 343.1,146.0 341.7,149.0 336.0,155.5 333.0,157.5 322.0,161.9 309.0,163.4 302.0,168.4 M530.0,339.0 523.0,338.3 510.0,334.5 507.3,333.0 506.1,331.0 505.3,326.0 506.3,320.0 508.1,316.0 512.3,310.0 515.6,303.0 520.0,300.6 530.0,299.5 542.0,301.1 553.0,301.7 556.0,303.0 558.0,305.0 559.1,308.0 560.3,316.0 559.8,320.0 547.0,330.9 537.0,336.3 530.0,339.0 M615.0,362.0 610.0,362.6 607.0,362.2 602.0,360.4 599.2,358.0 598.2,350.0 600.0,341.1 606.4,324.0 608.9,320.0 630.0,305.6 634.0,304.3 635.4,306.0 635.3,312.0 629.5,335.0 631.2,346.0 630.6,351.0 628.8,355.0 626.9,357.0 621.0,360.2 615.0,362.0 M342.0,487.2 338.0,487.9 334.0,487.2 330.3,485.0 327.5,482.0 325.5,475.0 325.0,462.8 321.0,456.8 315.0,445.0 314.0,444.2 305.0,442.4 297.0,445.0 289.0,445.6 284.0,447.1 263.0,443.1 249.0,445.4 243.0,445.4 234.0,444.4 228.1,442.0 227.4,441.0 227.8,438.0 227.1,435.0 222.7,428.0 212.4,421.0 208.0,416.7 206.0,415.6 205.0,415.8 204.2,417.0 203.4,424.0 201.0,428.4 198.0,428.2 191.0,425.5 188.0,425.8 183.0,427.5 181.8,427.0 180.0,423.5 178.0,415.2 173.5,374.0 174.7,360.0 174.1,345.0 175.0,341.2 179.7,331.0 178.3,325.0 179.4,322.0 183.0,320.1 198.0,317.2 204.6,318.0 209.7,320.0 212.9,323.0 213.1,329.0 214.6,333.0 219.0,337.7 223.7,340.0 235.0,342.1 238.0,343.4 241.2,346.0 246.0,352.9 252.0,357.5 262.9,369.0 272.0,373.8 285.0,379.2 299.0,383.3 305.5,386.0 310.0,389.0 312.2,394.0 314.7,397.0 324.0,402.7 328.0,403.7 332.0,403.4 344.0,397.3 348.0,396.0 353.0,395.6 362.7,397.0 366.0,398.2 370.0,400.8 375.5,406.0 377.2,410.0 377.0,415.0 374.6,424.0 369.6,432.0 367.6,440.0 369.1,453.0 371.6,462.0 371.0,467.0 368.5,471.0 365.0,474.3 353.0,480.5 346.0,485.5 342.0,487.2 M427.9,327.0 427.1,322.0 426.0,319.9 423.0,318.7 420.1,320.0 419.5,322.0 421.0,324.7 426.0,327.1 427.9,327.0 M555.0,352.4 554.0,352.7 553.1,351.0 552.9,348.0 554.0,346.8 556.0,346.5 556.7,347.0 556.6,349.0 555.0,352.4 M435.0,381.1 430.0,381.8 425.0,380.2 422.9,378.0 415.0,372.6 413.3,368.0 413.7,366.0 416.0,364.8 420.0,364.7 423.0,365.5 427.0,367.9 431.0,367.9 436.0,366.6 444.9,361.0 460.0,355.6 473.0,354.8 475.0,355.1 477.6,357.0 477.5,360.0 476.0,362.9 473.0,366.0 469.0,368.8 458.0,372.8 449.0,374.4 435.0,381.1 M554.0,368.2 551.0,367.5 549.8,365.0 551.0,361.3 554.0,358.1 556.0,360.7 557.0,364.0 556.2,367.0 554.0,368.2 M202.3,407.0 203.9,405.0 204.3,403.0 203.6,400.0 202.0,397.3 200.0,395.9 198.0,395.6 195.0,396.1 193.0,397.3 190.9,402.0 190.9,404.0 192.0,406.1 195.0,407.5 202.3,407.0 M454.0,495.4 451.0,495.5 446.0,493.3 436.9,486.0 434.6,483.0 432.7,472.0 425.0,459.9 424.0,451.0 426.3,448.0 426.9,446.0 426.0,444.0 424.8,443.0 422.5,434.0 423.1,431.0 425.0,427.3 430.8,420.0 439.0,413.8 444.0,411.6 449.0,410.3 455.0,410.2 458.9,411.0 462.0,412.5 464.1,415.0 467.2,426.0 469.1,445.0 467.6,458.0 466.7,475.0 465.2,482.0 460.0,491.2 454.0,495.4 M316.1,443.0 317.7,442.0 318.0,440.7 316.2,441.0 315.7,442.0 316.1,443.0 M408.0,117.0 402.0,117.8 394.0,116.3 390.0,113.5 387.8,109.0 386.2,102.0 386.9,96.0 391.0,87.0 396.0,83.7 403.0,82.5 410.0,83.3 414.0,86.1 416.7,91.0 418.4,100.0 416.6,111.0 413.3,115.0 408.0,117.0 M551.0,264.3 548.0,264.0 547.2,261.0 548.0,255.7 551.2,251.0 551.5,248.0 546.9,235.0 542.0,227.3 539.0,225.3 532.0,223.2 520.8,217.0 513.0,208.3 510.0,199.0 507.0,194.8 504.0,195.1 500.5,198.0 498.0,199.1 495.0,199.1 492.0,197.6 483.4,187.0 479.0,177.9 477.0,175.8 470.0,171.1 466.8,166.0 460.6,159.0 457.0,148.8 455.4,140.0 451.8,127.0 451.5,115.0 452.2,111.0 453.4,109.0 457.0,108.2 461.8,109.0 465.0,116.2 467.0,118.7 475.0,120.6 482.0,123.3 494.0,124.0 497.0,123.5 499.1,122.0 501.9,117.0 504.0,116.7 509.0,117.5 515.0,120.9 521.1,125.0 522.3,127.0 522.4,129.0 515.0,132.5 513.0,134.4 510.9,140.0 511.0,144.2 512.0,147.0 514.0,149.4 523.0,153.5 527.0,153.7 531.0,151.1 536.3,144.0 539.1,134.0 543.0,132.4 546.0,133.4 553.2,139.0 561.0,150.7 563.0,149.8 565.4,146.0 571.0,143.8 574.0,143.5 577.0,144.3 580.8,147.0 584.9,152.0 587.6,158.0 588.6,163.0 587.3,190.0 586.4,194.0 581.6,202.0 581.1,206.0 582.0,208.7 584.0,210.7 594.0,214.4 595.9,217.0 597.5,222.0 601.0,228.0 603.6,235.0 604.5,240.0 603.1,254.0 601.0,258.1 597.0,260.0 585.0,260.1 576.0,258.7 565.0,259.3 561.0,260.1 551.0,264.3 M297.1,181.0 300.9,188.0 311.8,197.0 318.0,213.1 306.0,213.8 294.0,217.3 280.0,219.4 267.3,224.0 263.0,224.8 259.0,224.5 252.0,222.6 245.7,222.0 229.0,214.5 222.8,209.0 218.3,201.0 217.9,196.0 218.8,190.0 224.0,179.1 227.0,176.2 235.0,171.6 241.3,166.0 243.6,162.0 245.5,154.0 251.0,140.9 255.0,136.3 267.0,127.5 275.0,125.8 285.0,128.3 302.0,126.5 326.0,128.7 332.0,130.8 336.7,135.0 339.8,140.0 340.8,145.0 339.7,148.0 336.0,152.2 323.0,159.1 319.0,160.2 308.0,161.0 300.0,166.0 M378.0,353.1 373.0,353.4 357.0,345.6 345.0,341.3 335.0,338.8 328.0,339.4 305.0,347.5 301.0,347.1 296.0,344.6 288.2,338.0 286.5,334.0 291.7,317.0 291.5,310.0 290.0,303.6 288.0,298.9 286.0,296.7 283.0,295.2 276.0,293.6 277.0,287.0 272.6,281.0 272.0,277.0 273.0,274.6 275.0,272.9 284.0,271.6 287.0,270.0 290.0,265.4 292.2,258.0 294.0,255.4 304.0,246.1 315.0,239.1 321.3,234.0 324.3,230.0 328.6,222.0 335.7,217.0 335.8,214.0 339.9,206.0 343.0,201.7 346.0,199.0 350.0,196.6 352.0,196.3 358.0,200.3 362.0,200.4 371.8,196.0 380.0,190.0 394.0,188.2 404.0,184.0 409.0,183.7 413.0,184.9 419.1,188.0 421.1,190.0 422.4,193.0 422.4,196.0 421.7,198.0 415.5,204.0 414.7,206.0 416.0,213.0 415.1,222.0 417.4,228.0 421.0,230.0 436.0,232.1 448.0,235.9 456.0,240.2 466.0,244.3 471.0,247.9 476.3,253.0 486.0,258.0 493.0,263.3 495.0,267.0 495.5,274.0 493.0,279.6 489.0,284.3 485.0,286.8 477.0,290.1 474.0,292.2 471.6,295.0 469.3,304.0 471.0,310.8 470.7,316.0 468.3,322.0 465.0,326.0 452.0,328.5 448.0,328.7 443.0,327.8 440.0,326.0 435.5,319.0 433.3,314.0 430.0,312.2 418.0,313.4 409.0,315.8 406.6,317.0 403.0,320.4 397.9,322.0 397.4,323.0 401.8,327.0 404.1,333.0 408.9,336.0 407.5,338.0 391.0,348.2 378.0,353.1 M529.0,337.1 524.0,337.0 516.3,335.0 510.0,332.8 507.6,330.0 506.9,325.0 508.3,319.0 517.0,305.2 521.0,302.7 530.0,301.1 555.0,305.0 556.5,307.0 557.1,310.0 557.1,316.0 555.4,320.0 546.0,327.6 537.0,333.5 529.0,337.1 M617.0,360.1 609.0,360.9 601.9,358.0 600.0,352.0 600.5,345.0 606.5,332.0 608.0,325.0 610.0,321.3 630.0,307.2 633.0,306.3 634.1,308.0 633.9,312.0 627.7,335.0 629.5,346.0 629.0,351.0 626.0,355.8 617.0,360.1 M341.0,486.0 336.0,486.1 332.0,483.9 329.1,480.0 327.4,474.0 327.9,453.0 328.7,451.0 332.9,446.0 334.0,443.0 332.8,434.0 333.9,426.0 333.0,424.8 326.0,430.5 319.0,432.4 309.0,437.4 295.0,441.4 288.0,441.9 281.0,443.3 272.3,443.0 269.0,441.3 265.0,436.9 262.0,435.6 259.0,436.7 256.0,440.1 253.0,442.0 250.0,442.5 247.0,442.1 243.4,440.0 241.1,437.0 239.1,426.0 237.3,423.0 235.0,421.7 233.0,421.5 228.0,423.8 226.0,424.0 217.5,420.0 214.5,417.0 210.0,410.6 206.2,398.0 204.0,393.4 200.0,390.6 194.0,389.9 191.0,390.9 189.4,393.0 187.0,399.0 186.7,403.0 187.5,406.0 190.0,410.0 196.2,415.0 197.2,419.0 197.0,423.1 196.0,423.8 190.0,423.7 184.0,425.4 182.8,425.0 181.3,422.0 179.7,416.0 178.8,400.0 176.0,387.0 174.7,376.0 174.8,370.0 176.3,360.0 175.5,347.0 176.5,342.0 181.0,335.5 190.0,337.2 192.7,335.0 192.6,333.0 190.4,330.0 188.0,328.2 184.2,327.0 187.4,322.0 191.0,319.9 197.0,318.6 201.0,318.7 205.9,320.0 209.1,322.0 210.3,324.0 210.4,329.0 208.9,333.0 209.7,335.0 211.8,337.0 217.6,340.0 233.5,343.0 237.3,345.0 240.7,349.0 245.0,356.5 251.5,364.0 253.2,370.0 252.8,377.0 254.0,379.2 256.0,379.5 258.0,378.8 265.0,373.1 290.0,382.8 299.0,385.0 306.3,389.0 311.3,397.0 324.0,407.2 327.0,408.6 332.0,408.0 342.6,400.0 347.0,398.3 352.0,397.4 357.0,398.0 365.0,400.5 368.0,402.5 372.4,407.0 374.7,411.0 374.4,415.0 365.7,433.0 363.8,439.0 368.5,462.0 368.1,466.0 363.0,472.2 353.0,478.2 345.0,484.5 341.0,486.0 M458.0,371.2 451.7,371.0 447.8,368.0 447.4,366.0 456.4,359.0 460.0,357.5 470.5,357.0 473.0,357.6 474.7,359.0 475.0,360.0 473.3,363.0 469.1,367.0 465.0,369.2 458.0,371.2 M554.0,367.1 552.0,366.8 550.9,365.0 552.0,361.9 554.0,360.9 555.6,363.0 555.9,365.0 554.0,367.1 M452.0,492.2 449.0,491.9 445.0,489.8 439.5,485.0 437.4,482.0 435.0,472.0 430.1,460.0 430.2,455.0 433.2,447.0 433.1,444.0 431.0,439.6 426.0,433.5 425.7,432.0 429.4,424.0 433.0,420.0 440.0,414.8 449.0,411.8 457.0,412.3 460.4,414.0 462.1,416.0 464.0,426.7 466.0,433.0 467.8,446.0 465.1,475.0 463.5,482.0 460.0,487.7 452.0,492.2 M404.0,116.2 397.0,115.6 392.0,113.4 389.0,108.6 387.3,101.0 388.5,95.0 390.0,91.5 392.0,89.0 396.0,85.9 404.0,84.1 410.0,84.9 413.0,87.3 415.9,93.0 417.1,100.0 415.7,109.0 414.0,112.5 410.0,115.1 404.0,116.2 M556.0,258.1 554.8,258.0 554.2,257.0 556.0,252.0 555.6,248.0 551.2,240.0 546.2,226.0 543.0,220.6 541.0,219.6 535.0,219.0 530.0,212.8 524.0,208.9 519.5,202.0 515.0,197.6 511.0,190.0 509.0,187.9 506.0,186.7 503.0,186.5 497.0,188.8 495.0,189.0 491.0,187.7 487.0,185.4 484.7,183.0 480.0,174.7 473.4,168.0 469.4,160.0 468.8,153.0 460.5,146.0 460.2,144.0 461.4,140.0 461.1,138.0 459.4,136.0 456.0,134.0 454.0,128.8 453.0,124.6 452.7,118.0 453.3,114.0 455.0,111.1 456.7,111.0 458.0,112.2 460.0,115.4 462.9,123.0 466.0,125.5 469.0,126.4 474.0,126.2 481.0,127.4 490.0,127.4 501.0,131.5 505.4,136.0 507.2,144.0 509.8,150.0 512.0,152.6 514.8,154.0 525.0,157.1 529.0,157.2 532.0,155.5 542.0,143.0 545.0,142.2 550.0,144.4 554.3,149.0 555.8,155.0 555.6,157.0 554.0,159.7 547.0,165.4 545.1,168.0 544.8,171.0 545.6,174.0 546.8,176.0 548.5,177.0 551.0,177.3 554.0,176.3 559.0,173.8 562.0,171.0 564.5,166.0 565.8,156.0 569.0,148.9 574.0,147.8 577.0,148.1 580.0,149.9 583.0,153.1 585.4,158.0 586.7,163.0 586.4,180.0 583.4,191.0 577.6,201.0 577.4,207.0 584.0,222.6 586.0,223.7 591.0,221.3 593.0,221.6 595.0,222.7 600.0,229.6 602.2,235.0 602.8,239.0 601.6,252.0 600.0,254.6 597.0,256.0 590.0,255.2 584.0,256.0 578.0,254.7 571.0,256.2 561.0,256.8 556.0,258.1 M510.0,127.3 507.0,127.5 504.9,126.0 504.6,122.0 506.0,119.3 510.0,119.9 514.9,124.0 515.1,125.0 510.0,127.3 M293.3,182.0 295.5,187.0 298.0,190.2 311.0,199.2 313.9,208.0 314.0,210.0 313.2,211.0 294.0,215.9 280.0,215.9 273.0,218.1 267.0,222.0 261.0,223.1 257.1,222.0 252.0,218.5 237.0,215.4 228.0,212.2 223.9,208.0 220.1,200.0 220.0,195.0 220.9,190.0 223.0,184.1 225.9,180.0 229.0,177.2 242.5,170.0 246.3,166.0 247.2,163.0 246.7,155.0 252.3,142.0 256.0,138.0 264.0,135.0 270.0,130.4 275.0,129.2 285.0,130.8 303.0,128.2 324.0,129.9 330.5,132.0 336.4,138.0 338.4,142.0 338.6,145.0 337.0,148.2 333.0,151.8 321.0,157.7 307.0,159.1 298.0,164.0 M373.0,347.0 369.0,346.9 363.0,345.3 348.0,338.5 333.0,332.9 328.0,333.5 320.0,338.5 306.0,343.7 301.0,343.5 295.0,340.3 291.0,336.7 289.6,333.0 293.0,320.2 293.5,316.0 293.2,308.0 291.3,297.0 290.0,293.9 286.6,290.0 285.0,285.0 282.3,280.0 283.0,278.7 290.0,275.0 292.4,273.0 295.3,260.0 305.0,248.4 333.0,226.4 335.0,226.0 341.0,228.0 343.0,227.6 345.0,225.8 348.7,221.0 349.5,217.0 347.8,214.0 341.4,210.0 341.1,209.0 341.8,206.0 346.0,201.0 350.0,199.7 356.0,203.6 360.0,203.9 381.0,193.9 388.0,192.7 395.0,192.5 403.0,188.2 407.0,187.6 411.0,187.9 416.0,190.6 417.7,194.0 416.7,197.0 411.0,201.0 409.3,205.0 411.5,213.0 410.5,220.0 410.0,232.0 410.7,235.0 412.8,238.0 415.0,239.8 417.0,240.3 419.0,239.6 424.0,235.9 427.0,235.4 434.0,235.8 447.0,239.2 461.0,244.9 467.4,249.0 475.0,255.6 492.2,266.0 494.1,269.0 494.4,274.0 492.1,279.0 489.0,282.6 486.0,284.3 479.0,285.6 470.7,291.0 467.8,294.0 466.8,297.0 466.3,304.0 466.9,307.0 469.4,312.0 469.7,315.0 467.6,321.0 464.5,325.0 454.0,327.1 446.9,327.0 444.0,325.0 443.4,320.0 444.1,313.0 443.0,311.5 432.0,307.3 417.0,307.5 399.0,315.2 390.0,315.3 384.3,317.0 383.4,319.0 384.4,322.0 392.9,330.0 398.6,340.0 395.1,344.0 389.0,346.6 388.0,346.8 383.0,343.7 373.0,347.0 M529.0,335.1 525.0,335.2 518.0,333.6 511.4,331.0 509.0,328.7 508.5,324.0 509.7,319.0 513.0,313.4 518.0,307.7 523.0,304.4 530.0,302.9 549.0,307.4 552.5,309.0 553.8,311.0 554.2,315.0 553.3,318.0 551.8,320.0 535.0,332.5 529.0,335.1 M614.0,359.1 608.0,358.8 606.1,358.0 604.0,355.5 602.7,353.0 602.3,350.0 603.3,344.0 605.0,340.6 610.5,333.0 611.3,325.0 612.2,323.0 623.9,315.0 630.0,309.1 632.0,308.9 632.3,312.0 629.8,318.0 625.6,335.0 627.7,347.0 627.0,351.6 624.0,355.3 618.3,358.0 614.0,359.1 M203.0,330.1 199.0,330.2 196.0,329.2 190.4,325.0 190.4,324.0 192.0,322.0 196.0,320.4 200.0,320.1 204.0,321.1 207.0,323.6 207.5,327.0 206.0,328.8 203.0,330.1 M296.0,437.2 278.0,436.7 275.3,435.0 272.3,429.0 268.0,426.9 263.0,426.9 255.0,430.0 249.0,429.0 246.0,426.7 239.0,417.4 235.0,414.9 231.0,414.8 224.0,417.5 220.0,416.5 214.8,410.0 211.0,403.3 206.3,390.0 198.4,383.0 197.0,373.9 195.0,370.8 193.0,371.0 191.7,373.0 189.2,385.0 184.0,396.7 183.0,397.4 181.0,396.2 177.3,387.0 175.8,375.0 176.2,369.0 178.1,360.0 177.1,347.0 177.7,344.0 179.0,341.7 181.0,339.9 182.0,340.0 190.0,344.2 198.0,341.0 206.0,340.3 216.0,342.9 230.0,343.9 234.0,344.9 236.9,347.0 239.3,350.0 243.9,361.0 247.0,366.0 248.0,370.0 248.0,380.4 249.0,383.4 251.0,386.1 259.1,391.0 262.0,391.5 264.0,390.1 265.2,386.0 266.5,384.0 272.0,380.0 275.0,379.4 281.0,381.0 284.5,383.0 290.0,390.2 292.0,390.5 298.0,389.5 303.0,392.1 308.8,398.0 316.4,404.0 319.0,407.0 320.8,412.0 322.0,421.0 320.0,426.0 317.0,429.0 307.0,433.8 296.0,437.2 M463.0,368.2 458.0,368.7 457.1,368.0 456.3,365.0 457.3,363.0 459.5,361.0 462.0,360.0 466.0,360.0 468.3,361.0 469.4,363.0 469.2,364.0 466.0,367.0 463.0,368.2 M554.0,365.1 552.8,365.0 553.0,363.5 554.0,363.6 554.0,365.1 M342.0,484.3 337.0,484.7 333.0,482.5 330.1,478.0 328.8,472.0 329.8,464.0 332.6,454.0 338.5,445.0 339.3,442.0 341.0,422.0 340.0,419.0 336.8,414.0 336.5,412.0 339.1,406.0 343.0,402.2 348.4,400.0 354.0,399.9 361.0,401.7 365.0,403.5 369.9,408.0 372.2,412.0 371.6,415.0 368.0,420.3 365.6,427.0 359.2,437.0 359.3,440.0 362.5,449.0 365.0,463.9 364.0,466.3 361.8,469.0 346.0,482.1 342.0,484.3 M186.0,423.0 184.7,423.0 183.6,422.0 181.8,416.0 181.7,409.0 183.0,407.4 184.0,407.2 185.0,407.4 191.6,418.0 191.1,421.0 186.0,423.0 M451.0,489.1 449.0,489.1 446.0,487.9 440.8,483.0 433.6,463.0 432.9,456.0 436.1,448.0 436.3,445.0 432.4,434.0 431.4,427.0 431.5,425.0 432.4,423.0 437.5,418.0 443.0,414.8 449.0,413.4 455.5,414.0 458.8,416.0 461.3,429.0 466.5,447.0 463.6,475.0 462.1,481.0 458.0,485.8 451.0,489.1 M403.0,114.0 396.0,113.0 392.0,110.6 388.8,104.0 388.7,98.0 390.0,94.4 394.0,90.1 404.0,86.4 408.0,86.1 411.4,88.0 414.0,92.0 415.6,98.0 415.5,102.0 414.0,109.0 412.2,112.0 409.0,113.4 403.0,114.0 M289.3,180.0 291.5,187.0 294.0,191.0 299.0,194.8 307.2,199.0 310.3,202.0 311.6,207.0 310.0,210.0 295.0,213.9 284.0,211.8 274.0,211.5 265.0,213.7 260.0,216.1 253.0,213.7 240.0,213.6 231.0,211.5 226.0,208.4 222.7,202.0 221.8,197.0 222.5,191.0 228.0,180.8 231.0,178.4 246.5,172.0 249.9,169.0 250.9,165.0 248.8,157.0 249.0,153.0 253.0,144.4 257.0,140.8 265.0,137.7 270.0,134.0 273.0,132.7 284.0,132.8 304.0,129.8 326.0,131.8 331.0,134.7 335.3,140.0 336.5,143.0 336.0,146.0 334.0,148.5 330.6,151.0 320.0,155.9 310.0,156.6 306.0,157.6 295.0,162.7 M571.0,252.3 567.0,252.9 563.3,252.0 555.0,239.6 552.4,231.0 552.8,222.0 549.6,214.0 547.2,211.0 539.0,207.5 533.0,202.9 524.0,199.3 517.0,193.9 513.2,187.0 510.0,184.1 501.0,181.7 492.0,183.4 489.0,182.4 486.0,179.6 477.2,167.0 476.2,164.0 476.9,145.0 474.5,140.0 473.8,136.0 474.3,134.0 476.0,132.0 479.0,131.5 489.0,132.2 501.0,140.8 507.2,151.0 510.0,154.3 513.0,156.0 530.0,162.0 533.0,162.0 536.0,160.2 539.8,152.0 543.0,148.4 545.0,147.5 548.0,148.2 550.0,150.0 550.9,152.0 550.5,156.0 547.0,160.0 541.3,164.0 540.1,166.0 539.9,168.0 541.0,172.0 543.6,177.0 546.0,179.2 550.0,180.9 553.7,181.0 557.5,180.0 561.0,178.2 563.0,176.2 566.6,168.0 570.2,156.0 573.0,151.5 578.0,152.3 581.0,154.6 584.8,162.0 585.2,171.0 583.6,182.0 574.2,201.0 574.1,206.0 575.9,214.0 576.5,221.0 580.0,229.8 582.0,232.1 587.0,231.6 594.0,228.6 597.0,228.8 600.4,234.0 601.2,237.0 601.2,241.0 600.0,246.6 597.0,250.9 595.0,250.9 593.0,249.6 583.0,239.7 582.0,240.3 578.9,247.0 571.0,252.3 M373.0,342.0 363.0,341.9 354.0,337.0 342.0,333.2 334.0,328.1 328.0,326.4 326.0,327.0 320.8,334.0 317.0,336.5 305.0,340.6 301.0,340.4 297.8,339.0 294.0,335.7 292.6,332.0 295.4,314.0 294.2,290.0 298.1,285.0 298.9,283.0 298.5,279.0 299.4,274.0 297.6,267.0 298.0,263.0 300.7,258.0 306.9,250.0 313.0,245.6 318.0,241.0 328.0,235.6 333.0,235.7 344.0,240.6 346.0,240.4 349.0,239.0 354.7,234.0 356.7,230.0 357.7,222.0 355.7,213.0 356.4,210.0 372.7,201.0 388.0,196.8 391.0,196.8 401.0,200.2 403.6,203.0 406.7,214.0 406.1,221.0 406.6,234.0 409.0,238.6 414.0,243.5 417.0,244.8 419.0,244.7 425.7,240.0 430.0,239.6 435.0,240.3 444.0,243.4 458.0,246.4 462.3,249.0 471.7,257.0 478.0,260.1 485.0,265.2 492.0,268.8 493.2,271.0 493.3,274.0 491.5,278.0 489.0,280.7 487.0,281.8 480.0,281.4 477.0,282.1 466.9,290.0 464.0,293.2 462.2,299.0 461.9,305.0 463.4,308.0 467.6,313.0 468.2,316.0 466.5,321.0 464.0,324.0 453.0,326.0 448.5,325.0 447.4,323.0 447.2,320.0 449.7,311.0 448.4,308.0 445.0,305.5 434.0,302.4 426.0,302.9 417.0,301.7 410.0,306.2 399.0,311.5 395.0,312.1 383.0,311.9 380.0,312.6 377.7,314.0 375.7,318.0 375.9,322.0 377.5,324.0 386.2,330.0 388.2,333.0 388.4,336.0 387.0,337.3 382.0,338.5 373.0,342.0 M529.0,333.2 525.0,333.4 519.0,332.1 514.0,330.1 511.6,328.0 510.1,325.0 510.4,321.0 512.0,317.0 514.0,314.7 521.0,307.8 525.0,305.7 529.0,304.8 532.0,305.1 542.0,308.1 550.0,311.6 551.1,315.0 549.1,319.0 535.0,330.4 529.0,333.2 M615.0,357.2 611.0,357.2 608.6,356.0 606.0,353.0 605.4,349.0 606.4,346.0 611.0,340.0 614.5,333.0 616.2,325.0 619.0,322.2 622.0,321.2 623.4,322.0 623.9,324.0 623.0,327.5 620.5,332.0 620.3,336.0 623.8,346.0 624.0,350.0 623.1,352.0 621.0,354.0 618.2,356.0 615.0,357.2 M202.0,327.0 198.0,326.5 194.6,324.0 198.0,322.1 202.0,322.7 203.7,324.0 204.3,326.0 202.0,327.0 M182.0,357.1 181.0,357.8 179.2,352.0 179.6,346.0 180.0,344.9 181.0,344.7 184.0,346.8 185.3,350.0 184.5,353.0 182.0,357.1 M297.0,433.0 292.0,432.8 288.0,431.4 280.0,426.9 275.0,421.9 273.0,421.0 264.0,422.1 256.0,423.9 251.0,423.2 247.0,420.4 241.0,412.5 236.0,408.8 232.0,408.3 224.0,410.7 220.0,408.8 213.0,401.0 210.3,390.0 203.3,380.0 201.0,369.5 195.7,361.0 194.2,357.0 193.5,352.0 195.4,348.0 199.0,345.1 205.0,344.2 215.0,346.2 230.0,345.4 233.0,346.2 235.7,348.0 239.7,354.0 241.1,362.0 244.3,369.0 244.4,380.0 245.3,387.0 244.9,394.0 246.0,395.5 252.0,395.5 264.0,397.7 277.0,395.9 280.0,396.5 286.0,399.2 294.0,396.0 298.0,395.6 303.0,397.3 311.6,403.0 316.0,407.9 318.0,413.0 318.3,418.0 316.0,424.0 314.0,426.6 308.0,429.7 297.0,433.0 M183.0,390.7 181.0,389.8 179.0,387.0 177.1,375.0 178.0,367.2 181.0,358.5 185.6,364.0 187.4,371.0 186.1,384.0 183.0,390.7 M349.0,435.3 346.0,435.4 345.0,434.0 344.9,421.0 341.2,413.0 340.8,410.0 341.9,407.0 344.8,404.0 348.0,402.5 352.0,402.2 358.8,404.0 363.3,406.0 367.0,409.4 368.5,413.0 364.7,419.0 362.8,425.0 360.9,428.0 356.0,432.4 349.0,435.3 M452.0,486.1 449.0,486.5 447.0,486.0 442.7,482.0 435.6,463.0 434.8,459.0 435.3,455.0 438.0,449.1 438.6,446.0 435.8,433.0 435.0,427.0 435.3,424.0 436.9,421.0 441.0,417.4 444.0,416.0 448.0,415.2 453.9,417.0 457.2,425.0 460.0,437.0 464.4,445.0 465.1,448.0 464.0,459.4 460.7,478.0 457.4,483.0 452.0,486.1 M187.0,419.0 186.0,418.1 186.0,417.0 187.0,417.3 187.0,419.0 M341.0,483.2 338.0,483.3 336.0,482.7 333.8,481.0 331.8,478.0 330.2,471.0 332.0,463.1 336.5,454.0 341.0,448.4 343.0,447.2 349.0,446.5 353.0,445.2 355.0,445.3 357.0,447.2 358.0,449.7 360.8,461.0 360.5,464.0 347.0,479.4 344.0,481.8 341.0,483.2 M401.0,109.0 396.0,109.0 392.0,107.2 389.9,103.0 390.3,97.0 393.0,93.3 396.0,91.5 410.0,89.9 412.0,92.5 413.3,96.0 413.9,100.0 413.0,102.7 409.0,106.7 401.0,109.0 M285.1,173.0 285.3,178.0 288.4,193.0 304.0,200.0 307.0,202.0 308.3,204.0 308.4,206.0 306.0,208.8 301.0,210.3 292.0,210.1 278.0,204.7 272.0,203.8 266.0,201.4 264.0,202.1 257.0,207.6 254.0,209.1 243.0,211.0 238.0,211.1 234.0,210.5 230.0,209.0 226.1,205.0 224.4,200.0 224.4,195.0 225.6,191.0 230.1,182.0 232.9,180.0 239.0,177.9 251.0,175.5 253.8,174.0 255.5,172.0 256.3,170.0 256.3,167.0 252.0,158.8 251.1,155.0 254.0,147.8 258.0,143.3 266.6,140.0 273.0,136.2 305.0,131.4 325.0,133.2 329.0,135.4 333.6,141.0 334.4,144.0 333.6,146.0 331.0,148.6 327.0,151.0 320.0,154.0 310.0,154.9 302.8,157.0 292.0,161.7 288.7,164.0 M572.0,246.1 569.0,246.4 565.0,244.2 562.0,242.0 560.0,239.1 558.0,232.0 558.3,220.0 552.3,209.0 550.0,206.4 540.0,202.5 526.0,195.8 519.2,191.0 515.0,184.1 511.0,181.1 502.0,178.7 492.0,179.3 489.0,178.1 487.0,176.2 480.7,166.0 479.8,161.0 481.0,152.0 485.1,146.0 487.0,141.8 489.0,140.9 493.3,142.0 509.0,156.3 520.5,161.0 533.0,167.7 542.1,179.0 547.0,182.5 551.3,184.0 559.0,183.7 565.0,180.2 567.0,177.0 569.0,168.8 574.0,156.9 577.0,154.6 580.0,156.4 582.1,160.0 582.7,163.0 582.1,178.0 580.4,182.0 575.5,187.0 571.3,197.0 570.4,201.0 570.5,206.0 572.9,214.0 573.2,222.0 575.5,232.0 574.7,243.0 574.0,244.5 572.0,246.1 M375.0,337.2 372.0,337.5 367.0,336.4 362.0,336.5 344.0,330.7 329.0,319.6 326.0,318.3 324.0,318.5 322.0,320.1 318.9,330.0 316.0,333.4 304.0,337.6 301.0,337.2 297.6,335.0 296.2,333.0 295.7,330.0 298.3,308.0 298.4,292.0 299.2,290.0 304.2,285.0 305.4,282.0 304.4,274.0 301.8,268.0 301.4,265.0 303.0,260.3 308.0,252.9 320.0,243.3 325.0,240.8 329.0,239.5 333.0,239.9 336.0,241.6 340.0,245.6 343.0,247.0 346.0,246.8 349.0,245.2 360.1,235.0 361.4,228.0 364.5,221.0 364.5,213.0 366.0,209.6 369.3,207.0 375.0,204.0 390.0,201.1 395.0,203.4 399.0,207.9 400.7,214.0 401.5,222.0 404.3,236.0 407.0,240.3 414.0,247.6 418.0,249.2 424.0,249.8 428.0,251.0 441.0,247.7 451.0,247.5 456.0,248.5 459.8,251.0 468.1,259.0 476.0,262.2 483.0,268.2 490.1,271.0 491.2,272.0 491.5,274.0 490.0,277.0 488.0,278.4 478.0,276.5 474.0,277.4 469.2,284.0 463.0,289.4 452.0,303.2 450.0,303.3 434.0,299.3 426.0,299.1 417.0,297.8 414.0,298.5 408.0,303.8 397.0,309.1 393.0,309.5 380.0,308.3 374.3,309.0 372.0,309.9 370.7,312.0 370.5,314.0 371.9,325.0 374.0,327.7 379.3,331.0 380.4,333.0 379.1,335.0 375.0,337.2 M597.0,243.5 594.0,243.0 592.5,241.0 591.8,238.0 592.2,236.0 593.6,234.0 597.0,232.7 599.0,235.0 599.7,238.0 599.0,241.8 597.0,243.5 M530.0,331.1 524.0,331.5 517.0,329.5 513.7,327.0 512.1,323.0 513.3,318.0 520.0,311.1 524.0,308.2 529.0,306.8 532.0,307.2 542.1,311.0 545.9,313.0 547.2,315.0 546.1,318.0 542.4,322.0 534.1,329.0 530.0,331.1 M457.0,324.1 453.0,324.0 451.2,322.0 450.9,320.0 454.5,312.0 457.0,310.4 461.0,311.2 464.0,312.8 466.0,315.0 466.4,317.0 465.7,320.0 463.3,323.0 457.0,324.1 M614.0,352.3 611.1,352.0 610.0,350.0 611.0,347.9 615.0,345.1 616.3,346.0 616.9,348.0 615.5,351.0 614.0,352.3 M303.0,428.2 298.0,428.7 294.0,427.6 283.0,421.9 278.0,417.1 275.0,415.7 261.0,419.2 256.0,419.8 253.0,419.5 250.0,417.3 239.0,403.4 225.0,404.4 222.0,403.8 219.0,402.1 216.0,398.8 214.0,390.0 206.9,379.0 204.5,369.0 198.3,358.0 197.5,353.0 199.0,349.5 200.7,348.0 203.0,347.4 206.0,347.4 215.0,349.8 223.0,347.4 229.0,346.8 233.0,347.9 236.0,350.4 238.3,355.0 238.8,364.0 241.1,372.0 241.3,386.0 238.5,399.0 239.0,401.6 240.0,402.4 253.0,400.0 264.0,402.4 283.0,404.5 288.0,403.3 295.0,399.5 298.0,399.1 302.0,400.0 308.0,403.2 311.1,406.0 313.8,410.0 315.2,414.0 315.1,417.0 311.7,424.0 309.0,425.8 303.0,428.2 M182.0,386.0 180.1,383.0 178.7,375.0 179.0,371.1 181.0,366.2 183.0,368.1 184.3,373.0 183.5,382.0 182.0,386.0 M355.0,428.3 353.0,428.6 350.8,427.0 348.5,419.0 345.2,412.0 345.1,410.0 345.9,408.0 349.0,405.8 352.0,405.5 356.7,407.0 361.0,409.9 362.3,412.0 359.0,424.0 357.0,426.8 355.0,428.3 M452.0,483.3 448.0,483.6 444.6,481.0 440.5,472.0 436.7,460.0 437.0,456.0 439.9,449.0 440.5,445.0 438.6,425.0 442.0,419.7 446.0,418.0 450.0,421.5 453.6,427.0 456.8,438.0 462.0,446.1 463.5,450.0 462.2,460.0 458.5,477.0 456.0,480.8 452.0,483.3 M342.0,481.2 338.0,481.7 335.0,480.0 332.2,475.0 331.7,470.0 333.2,465.0 336.0,460.2 342.0,453.3 345.0,452.2 351.0,453.6 352.7,455.0 354.0,458.0 354.2,462.0 352.9,468.0 350.4,473.0 346.0,478.4 342.0,481.2 M401.0,106.0 398.0,106.5 395.0,106.0 393.0,104.8 391.8,103.0 391.3,100.0 392.0,97.4 393.9,95.0 396.0,93.7 399.0,93.2 403.0,94.0 406.0,95.7 407.7,98.0 407.9,100.0 406.1,103.0 401.0,106.0 M243.0,208.2 235.0,208.6 229.8,206.0 228.1,203.0 227.4,200.0 228.0,193.0 231.4,185.0 234.0,182.3 240.0,180.8 247.0,181.3 254.7,180.0 257.0,179.1 259.0,177.0 261.1,172.0 261.3,167.0 259.8,164.0 255.0,158.5 254.0,155.0 256.0,149.6 258.9,146.0 275.0,139.3 290.0,135.0 303.0,133.1 322.0,134.2 326.0,135.6 329.0,138.2 331.5,142.0 331.9,144.0 331.0,146.0 327.2,149.0 321.0,151.8 310.0,153.4 299.0,156.7 287.9,161.0 283.8,164.0 282.2,167.0 281.5,173.0 283.0,187.0 280.0,192.2 278.0,193.5 272.0,194.9 264.0,195.1 262.0,195.7 254.5,205.0 251.0,206.5 243.0,208.2 M568.0,228.1 567.0,228.1 566.4,227.0 566.9,222.0 565.7,219.0 560.0,212.8 556.2,206.0 553.0,202.8 549.0,201.0 541.0,199.4 530.0,194.3 524.9,190.0 519.1,183.0 512.0,178.0 505.0,176.1 492.0,175.5 489.2,174.0 483.2,163.0 483.0,158.0 485.0,153.2 488.0,150.9 491.0,150.2 501.0,153.5 508.0,158.1 516.8,162.0 523.3,166.0 528.6,170.0 533.0,176.2 546.0,184.5 552.0,186.7 565.0,189.0 566.1,192.0 564.6,206.0 569.0,213.9 569.5,216.0 569.0,226.8 568.0,228.1 M576.0,179.0 573.0,176.9 571.8,172.0 574.0,166.0 577.0,163.1 578.0,163.6 578.9,166.0 579.8,173.0 579.0,177.0 578.0,178.4 576.0,179.0 M299.0,206.1 292.4,206.0 290.3,204.0 290.2,202.0 291.0,200.9 293.0,199.9 297.0,200.8 301.9,204.0 301.8,205.0 299.0,206.1 M307.0,333.1 304.0,333.5 302.0,332.9 300.0,330.7 299.0,327.0 299.0,323.0 300.4,315.0 304.5,306.0 302.2,298.0 302.3,293.0 304.0,290.3 310.4,287.0 316.0,282.2 317.6,280.0 318.0,278.0 316.0,275.2 310.0,272.9 307.0,269.1 305.7,265.0 307.0,261.3 313.0,253.1 322.0,246.3 327.0,244.0 330.0,243.4 332.0,243.8 337.0,248.6 343.0,250.6 348.0,249.9 354.4,246.0 363.0,239.3 364.9,237.0 366.4,230.0 368.7,224.0 369.9,214.0 372.5,211.0 378.0,207.3 387.0,206.0 390.0,206.9 392.0,209.0 395.2,214.0 396.8,221.0 402.7,238.0 410.1,249.0 413.0,251.8 422.0,255.9 429.0,257.7 432.0,256.9 441.0,251.5 447.0,250.3 452.0,250.6 455.4,252.0 465.0,261.0 472.4,265.0 475.0,267.8 474.5,270.0 468.0,275.7 459.0,279.0 458.3,281.0 459.5,285.0 458.0,289.5 455.0,293.0 448.0,298.1 443.0,298.2 421.0,294.9 414.0,294.6 411.0,295.9 405.4,302.0 396.0,306.8 391.0,307.1 378.0,305.2 372.0,305.2 368.7,306.0 366.4,308.0 365.6,311.0 367.4,321.0 367.0,326.8 365.1,330.0 362.0,331.9 355.0,330.9 345.0,327.8 342.0,326.2 335.3,321.0 325.7,311.0 323.4,305.0 322.0,303.1 319.0,301.4 316.0,301.7 312.2,305.0 311.3,308.0 311.9,311.0 316.4,320.0 315.7,327.0 314.9,329.0 313.0,330.8 307.0,333.1 M530.0,329.3 525.0,329.9 519.0,328.5 515.6,326.0 514.1,322.0 514.8,319.0 517.3,316.0 523.0,310.9 528.0,309.0 531.0,309.3 535.3,311.0 540.2,314.0 541.7,316.0 541.2,319.0 539.4,322.0 534.0,327.0 530.0,329.3 M462.0,320.5 458.0,320.0 457.3,319.0 458.0,316.7 460.0,315.7 462.0,316.3 463.2,319.0 462.0,320.5 M231.0,399.3 225.0,398.7 221.0,396.4 217.2,389.0 209.9,378.0 208.5,375.0 206.9,368.0 201.1,357.0 200.8,353.0 202.4,351.0 206.0,350.6 213.0,352.9 216.0,353.0 224.0,349.2 229.0,348.4 233.0,349.6 236.0,353.0 237.0,357.0 235.9,366.0 237.6,379.0 237.6,384.0 232.5,398.0 231.0,399.3 M302.0,425.1 299.0,424.9 296.0,423.6 286.0,417.3 283.1,414.0 284.0,412.0 290.1,406.0 296.0,402.4 301.0,402.5 306.0,404.9 309.1,408.0 311.5,413.0 311.4,417.0 308.7,422.0 306.0,423.9 302.0,425.1 M263.0,415.1 258.0,415.6 254.0,414.3 248.5,409.0 247.4,407.0 247.7,406.0 252.0,404.1 256.0,404.1 268.0,407.8 270.0,409.0 270.6,411.0 269.8,412.0 263.0,415.1 M355.0,414.1 353.0,414.4 351.8,413.0 351.9,412.0 353.0,411.4 354.5,412.0 355.0,414.1 M452.0,480.0 448.0,480.0 445.0,477.0 441.8,471.0 438.4,460.0 438.8,456.0 442.2,446.0 443.0,434.7 445.0,429.6 446.0,428.9 449.0,430.1 450.9,432.0 453.5,439.0 459.6,447.0 461.5,452.0 460.2,462.0 456.6,475.0 454.8,478.0 452.0,480.0 M340.0,480.1 337.0,479.5 334.6,477.0 333.2,473.0 333.5,469.0 337.0,462.8 340.0,460.6 345.0,458.6 347.0,459.6 348.4,462.0 349.4,466.0 349.4,470.0 348.3,473.0 346.0,476.3 343.0,478.9 340.0,480.1 M401.0,103.1 398.0,103.7 395.0,102.8 393.6,100.0 395.0,97.0 399.0,95.7 402.4,97.0 403.7,100.0 402.7,102.0 401.0,103.1 M265.0,158.1 262.0,158.7 260.0,157.7 258.6,156.0 258.7,153.0 261.0,149.7 281.5,140.0 291.0,136.5 305.0,134.6 319.0,135.4 323.0,136.4 325.6,138.0 328.9,143.0 327.9,146.0 323.0,149.1 311.0,151.6 290.0,157.6 286.0,157.8 276.0,155.5 268.0,156.5 265.0,158.1 M523.0,178.2 520.0,178.0 509.0,173.8 496.3,172.0 492.0,170.7 490.0,168.6 487.0,163.0 486.7,160.0 487.5,158.0 489.0,156.7 491.0,156.2 499.0,156.0 513.5,163.0 521.0,169.0 523.7,172.0 525.0,176.0 524.8,177.0 523.0,178.2 M269.0,191.2 263.0,190.0 261.5,189.0 261.1,187.0 262.2,183.0 266.6,174.0 268.0,172.8 270.0,172.6 274.0,173.7 277.0,175.6 278.2,178.0 278.6,182.0 278.0,184.2 276.0,186.7 272.0,190.0 269.0,191.2 M559.0,201.7 557.0,201.4 551.0,197.8 542.0,196.2 537.8,194.0 534.2,191.0 533.1,189.0 532.9,187.0 534.0,184.2 536.0,183.0 538.0,183.2 558.2,193.0 560.0,195.0 560.5,197.0 560.2,200.0 559.0,201.7 M239.0,206.0 236.0,206.2 233.0,205.0 230.9,201.0 232.0,191.0 235.0,185.4 237.0,184.3 240.0,184.0 247.0,186.0 254.0,186.4 257.0,188.0 257.8,190.0 257.3,192.0 252.3,201.0 248.0,203.5 239.0,206.0 M359.0,327.2 346.0,325.1 340.0,321.7 332.4,313.0 327.0,303.0 319.7,295.0 319.5,294.0 321.7,288.0 326.2,283.0 326.6,280.0 324.0,273.0 314.8,268.0 313.8,265.0 314.2,260.0 315.1,257.0 317.0,254.6 326.0,249.3 329.0,249.1 336.3,252.0 345.0,253.4 352.0,251.4 358.4,248.0 365.9,242.0 368.3,239.0 370.8,232.0 375.2,224.0 374.9,216.0 379.0,211.9 382.0,210.8 385.0,210.9 387.0,211.7 389.0,213.7 400.7,239.0 407.2,251.0 409.0,253.6 412.0,256.0 418.0,259.0 432.0,263.1 435.0,262.0 443.8,255.0 447.0,253.9 450.0,253.9 453.0,255.5 465.9,267.0 465.5,269.0 464.0,270.3 455.0,272.7 453.0,274.0 451.7,278.0 450.7,290.0 448.7,293.0 446.0,294.8 440.0,295.3 420.0,291.7 412.0,291.2 408.0,293.0 405.2,298.0 403.2,300.0 395.0,304.6 391.0,304.8 381.0,303.1 371.0,302.4 368.0,302.7 365.0,303.9 362.5,306.0 361.4,308.0 361.2,313.0 362.6,322.0 361.0,325.8 359.0,327.2 M311.0,298.1 309.0,298.2 308.0,297.5 307.5,296.0 308.0,294.6 311.0,293.4 313.9,294.0 314.3,295.0 313.7,296.0 311.0,298.1 M528.0,328.0 523.0,327.9 519.0,326.5 516.8,324.0 516.2,321.0 517.8,318.0 523.0,313.3 526.0,311.7 529.0,311.3 532.0,312.1 535.1,314.0 537.0,316.0 537.9,319.0 536.6,322.0 534.0,324.8 531.0,327.0 528.0,328.0 M309.0,327.1 305.0,326.9 303.0,324.4 303.3,320.0 304.2,318.0 306.0,316.5 309.0,317.2 311.6,321.0 311.2,325.0 309.0,327.1 M227.0,393.1 225.0,393.5 223.0,392.0 211.5,375.0 209.0,366.9 204.9,359.0 204.7,356.0 205.8,355.0 217.0,356.4 219.0,355.7 224.0,351.5 228.0,350.2 232.0,351.0 234.1,353.0 235.0,355.0 235.2,358.0 232.2,366.0 231.5,370.0 233.9,382.0 232.9,385.0 227.0,393.1 M304.0,421.0 302.0,421.7 299.0,421.4 296.0,419.5 293.7,417.0 293.1,415.0 293.3,410.0 294.1,408.0 296.0,406.3 299.0,405.5 301.8,406.0 305.0,408.0 306.5,410.0 307.6,415.0 306.0,418.8 304.0,421.0 M450.0,476.0 447.0,474.9 444.0,471.6 440.0,460.0 440.8,455.0 446.0,440.7 447.0,439.8 449.0,440.4 455.0,445.1 458.1,449.0 459.5,453.0 458.7,462.0 456.0,470.1 453.0,475.0 450.0,476.0 M340.0,478.1 338.0,477.7 336.0,476.0 334.8,473.0 335.0,470.0 336.0,467.5 338.0,465.3 340.0,464.3 343.0,464.3 346.0,466.3 347.0,468.9 347.0,471.0 344.0,475.9 340.0,478.1 M291.0,155.1 288.0,155.0 284.0,153.5 280.3,151.0 278.0,148.0 278.7,146.0 280.7,144.0 289.6,139.0 304.0,136.3 316.0,136.8 321.0,138.2 324.7,142.0 324.6,145.0 322.0,147.0 291.0,155.1 M512.0,171.1 498.4,168.0 494.8,165.0 494.9,162.0 497.0,160.7 501.0,160.4 510.0,164.0 512.5,166.0 513.8,168.0 514.0,170.0 512.0,171.1 M240.0,202.1 236.7,202.0 235.7,201.0 235.3,199.0 236.6,190.0 238.0,188.1 240.0,187.7 246.9,191.0 249.3,194.0 249.0,196.0 247.0,199.1 240.0,202.1 M351.0,322.0 346.0,321.9 341.3,319.0 332.5,305.0 326.2,297.0 325.7,295.0 326.2,293.0 331.5,284.0 332.6,273.0 331.3,269.0 329.0,266.4 326.0,265.0 322.0,264.6 320.0,263.3 319.4,261.0 319.8,259.0 322.0,256.5 326.0,255.1 330.0,254.7 345.0,256.4 358.0,253.4 370.8,244.0 372.5,241.0 373.5,236.0 375.0,232.7 381.0,225.1 383.0,223.6 385.0,223.1 387.0,223.5 389.0,225.0 395.0,233.4 398.0,238.7 404.3,253.0 410.0,259.0 418.0,263.2 433.0,266.4 442.0,265.1 446.0,266.6 447.5,268.0 448.6,272.0 447.3,287.0 446.4,290.0 444.4,292.0 439.0,292.6 415.0,287.7 408.0,287.2 405.0,288.9 401.6,297.0 395.0,301.7 391.0,302.2 370.0,300.0 365.0,300.7 360.0,302.9 358.0,304.9 356.0,318.5 354.0,320.8 351.0,322.0 M528.0,326.1 522.0,325.7 519.5,324.0 518.7,322.0 519.0,320.0 521.5,317.0 525.0,314.5 528.0,313.7 532.0,315.0 534.1,317.0 534.9,319.0 534.5,321.0 533.1,323.0 528.0,326.1 M223.0,379.9 216.0,375.0 214.0,372.6 211.8,365.0 211.7,362.0 214.0,360.9 221.0,362.9 222.0,362.6 222.9,358.0 224.2,355.0 227.0,352.7 230.0,352.4 232.0,353.6 232.9,355.0 233.0,358.0 230.0,362.5 224.0,365.7 223.6,378.0 223.0,379.9 M450.0,472.1 447.0,471.4 445.0,469.5 441.6,460.0 442.0,456.0 444.0,451.1 446.0,447.7 449.0,445.7 452.0,446.4 455.0,448.9 456.9,452.0 457.6,456.0 457.1,462.0 455.4,467.0 453.0,470.7 450.0,472.1 M341.0,475.1 338.6,475.0 337.0,472.6 338.0,469.0 340.0,467.7 342.2,468.0 344.0,470.0 343.5,473.0 341.0,475.1 M292.0,152.1 289.0,152.0 287.0,151.1 285.1,148.0 285.5,146.0 286.9,144.0 292.0,140.8 298.4,139.0 306.0,138.3 316.0,139.5 318.9,142.0 318.4,144.0 317.4,145.0 307.0,149.2 302.0,150.7 292.0,152.1 M350.0,317.4 347.0,317.8 344.1,316.0 338.7,306.0 331.3,298.0 331.2,296.0 333.7,289.0 336.8,275.0 336.2,270.0 333.3,263.0 333.3,261.0 335.0,260.1 340.0,260.3 349.0,259.2 361.0,259.2 363.0,258.2 366.0,254.1 374.0,252.2 375.6,251.0 376.5,249.0 378.2,237.0 380.2,234.0 384.0,230.9 387.0,230.7 394.0,237.7 395.7,241.0 396.9,247.0 398.2,250.0 404.0,258.2 408.0,262.2 417.0,266.6 425.0,267.1 434.0,269.3 440.0,269.4 442.0,270.1 444.2,272.0 444.9,275.0 444.5,284.0 443.9,287.0 442.0,289.2 439.0,289.5 427.0,287.7 408.0,281.1 405.0,281.0 401.9,284.0 399.1,294.0 397.0,296.4 394.0,298.2 390.0,298.9 379.0,298.9 368.0,297.7 358.0,299.8 355.0,301.0 353.6,304.0 353.5,313.0 352.0,316.0 350.0,317.4 M526.0,324.1 522.7,323.0 522.1,322.0 522.4,320.0 526.0,317.0 528.0,316.7 530.0,317.3 531.5,319.0 531.2,321.0 529.0,323.2 526.0,324.1 M451.0,468.6 448.0,468.5 446.1,467.0 443.4,460.0 443.6,457.0 445.0,453.2 447.0,450.5 449.0,449.5 451.0,449.6 453.0,450.9 454.6,453.0 455.6,456.0 454.6,464.0 453.0,467.0 451.0,468.6 M301.0,148.1 294.6,148.0 292.6,147.0 292.5,146.0 295.3,143.0 301.0,141.0 306.0,141.1 310.3,143.0 310.1,144.0 307.5,146.0 301.0,148.1 M348.0,310.4 345.7,309.0 343.4,302.0 339.1,298.0 339.5,293.0 338.4,284.0 341.4,268.0 343.0,265.6 346.0,264.1 354.0,264.6 365.0,264.0 381.0,254.0 382.4,252.0 382.7,250.0 381.6,244.0 381.8,241.0 383.0,238.6 385.0,236.9 388.0,237.5 390.4,240.0 390.8,242.0 389.7,247.0 390.8,250.0 397.0,255.7 406.0,266.7 417.0,270.3 425.0,270.1 428.0,270.6 437.5,274.0 439.5,276.0 439.5,280.0 438.6,283.0 437.0,283.8 429.0,285.1 421.0,282.8 408.0,275.4 404.0,275.1 402.0,276.1 399.7,279.0 396.6,290.0 394.0,293.0 389.0,295.1 381.0,296.6 368.0,295.6 352.0,297.3 349.4,299.0 348.1,301.0 349.3,308.0 349.0,309.5 348.0,310.4 M451.0,464.5 450.0,464.9 448.0,464.1 446.1,460.0 446.7,456.0 449.0,453.9 451.8,455.0 453.0,457.8 452.6,462.0 451.0,464.5 M379.0,294.0 369.0,293.5 357.0,294.0 352.0,293.5 349.0,292.4 345.0,289.2 342.6,285.0 342.3,280.0 344.0,273.5 347.0,270.8 354.0,270.3 368.0,266.4 372.0,264.2 378.0,259.4 385.0,256.5 389.0,256.4 392.0,257.6 398.9,264.0 400.6,268.0 400.3,271.0 396.8,276.0 393.4,286.0 392.0,288.3 387.0,291.8 379.0,294.0 M429.0,280.3 426.0,280.8 423.0,279.5 420.3,277.0 420.3,275.0 424.0,273.8 428.4,275.0 430.2,277.0 430.1,279.0 429.0,280.3 M378.0,291.0 361.0,291.6 355.0,290.5 351.2,288.0 348.6,285.0 347.3,281.0 347.5,278.0 349.7,276.0 355.0,274.4 361.0,271.5 372.0,268.5 382.0,260.9 386.0,260.1 391.0,261.3 394.0,263.3 396.0,266.0 396.6,269.0 395.9,271.0 386.3,287.0 383.0,289.3 378.0,291.0 M375.0,288.1 364.0,288.8 360.0,288.2 358.5,287.0 356.9,284.0 356.5,280.0 358.8,277.0 362.0,274.7 365.0,273.7 372.0,272.9 375.0,271.7 383.1,264.0 386.0,263.4 390.6,265.0 392.7,268.0 392.0,271.1 382.0,285.0 379.0,287.0 375.0,288.1 M370.0,285.1 366.0,285.2 363.9,284.0 363.4,281.0 365.0,278.0 370.0,276.7 376.0,276.8 378.0,277.5 377.9,280.0 376.6,282.0 373.7,284.0 370.0,285.1" fill="none" stroke="#e03a36" stroke-width="1.3" stroke-opacity="0.9"/>
<path d="M404.0,157.2 396.0,156.3 391.0,154.6 386.0,151.3 378.7,144.0 376.4,140.0 374.8,135.0 372.6,118.0 372.6,97.0 373.8,87.0 375.2,82.0 378.7,77.0 383.0,73.7 389.0,71.3 397.0,69.5 409.0,69.5 416.0,70.8 422.0,72.5 427.0,75.2 428.8,77.0 431.1,81.0 433.3,93.0 431.5,121.0 430.1,128.0 425.5,141.0 422.2,146.0 418.0,150.2 411.0,154.6 404.0,157.2 M240.0,196.9 236.7,192.0 234.3,186.0 230.8,173.0 229.2,159.0 237.0,146.0 242.6,133.0 251.2,120.0 262.0,109.0 271.0,104.4 279.0,101.4 290.0,98.8 303.0,99.2 307.0,101.6 312.0,107.0 319.0,112.0 326.0,114.3 341.0,114.4 347.0,116.3 350.1,119.0 359.4,131.0 365.4,147.0 366.5,154.0 363.0,158.9 348.7,168.0 341.4,174.0 335.0,180.5 330.0,188.2 326.3,197.0 326.6,199.0 329.0,200.1 333.6,198.0 342.0,191.5 345.0,190.5 346.2,186.0 349.0,181.0 358.0,172.0 359.0,171.9 362.0,169.0 363.0,168.9 370.0,164.2 381.0,160.4 386.0,160.1 398.0,163.0 412.0,163.9 413.0,163.1 417.0,162.7 419.2,157.0 423.0,153.2 426.0,151.9 429.0,151.7 433.0,153.2 436.1,156.0 437.8,159.0 438.2,163.0 439.0,164.0 443.0,165.9 445.0,166.1 451.0,170.0 443.6,145.0 440.2,129.0 440.6,103.0 442.0,100.7 446.0,98.3 463.0,93.6 470.0,92.4 479.0,93.7 490.0,96.6 503.0,101.5 545.7,126.0 547.1,128.0 548.0,132.0 549.0,133.4 555.0,139.4 566.0,148.1 570.9,154.0 583.6,175.0 590.7,189.0 598.2,196.0 605.0,198.6 608.0,201.0 608.9,204.0 609.8,217.0 608.5,224.0 607.0,225.7 601.7,228.0 599.9,230.0 599.4,232.0 601.5,248.0 601.7,261.0 604.1,276.0 603.0,278.2 598.0,281.5 587.0,284.8 570.0,283.9 554.0,281.5 543.0,277.5 538.0,274.6 535.4,272.0 532.7,266.0 533.1,259.0 532.0,256.2 530.0,256.0 524.0,260.9 520.0,261.6 517.0,259.8 511.0,252.7 508.6,253.0 507.6,255.0 508.1,264.0 504.5,279.0 499.5,290.0 490.3,307.0 472.6,333.0 471.0,334.4 466.0,336.3 448.0,339.8 441.0,342.3 439.0,342.3 437.8,343.0 437.9,345.0 439.0,345.5 442.0,344.6 449.0,344.4 465.0,341.3 492.0,334.0 494.0,332.1 494.9,330.0 496.4,320.0 501.4,299.0 502.6,296.0 505.0,293.3 510.0,290.3 524.0,286.4 534.0,286.3 546.0,288.4 556.0,291.7 558.0,293.0 559.3,295.0 559.8,318.0 561.6,336.0 563.5,345.0 562.9,350.0 567.8,357.0 569.2,363.0 568.6,369.0 566.7,373.0 563.0,377.0 558.0,379.6 553.0,380.3 547.0,379.2 542.0,376.1 538.7,372.0 537.2,368.0 536.8,359.0 535.0,356.3 523.8,351.0 504.0,346.7 500.7,349.0 496.8,357.0 488.1,369.0 485.0,371.8 478.0,376.5 455.0,387.4 429.0,396.5 417.8,399.0 410.0,403.6 408.0,403.7 404.0,401.5 403.0,401.9 401.8,404.0 397.8,449.0 395.7,462.0 392.8,475.0 388.6,486.0 381.3,497.0 373.0,504.9 365.0,510.7 359.0,513.6 350.0,516.6 344.0,517.6 339.0,516.8 327.0,510.8 320.0,505.6 311.7,498.0 304.4,490.0 292.0,471.8 284.4,464.0 280.3,461.0 275.0,458.1 270.0,456.9 251.0,458.4 239.0,457.8 225.0,455.6 218.0,453.3 207.0,447.2 195.5,437.0 189.4,429.0 184.4,418.0 181.9,407.0 181.8,383.0 180.9,376.0 181.0,356.0 181.9,350.0 182.2,337.0 183.4,330.0 186.3,323.0 191.0,318.9 196.0,317.4 204.0,317.8 211.0,320.7 223.6,328.0 227.0,329.1 239.0,330.5 244.0,332.5 254.0,339.4 269.0,358.3 272.1,361.0 282.1,367.0 303.2,374.0 348.0,382.1 358.0,383.2 376.0,383.2 381.0,383.0 387.5,381.0 397.3,375.0 399.4,372.0 399.3,362.0 398.2,360.0 397.0,359.5 393.7,361.0 384.0,371.4 375.0,375.2 366.0,376.6 345.0,375.7 327.0,373.5 309.0,369.4 300.0,366.4 289.0,361.5 280.3,354.0 274.5,347.0 266.0,333.0 259.0,324.7 250.4,318.0 238.0,313.9 237.2,312.0 237.5,310.0 247.1,272.0 251.6,261.0 255.3,255.0 265.0,249.2 290.0,243.3 302.8,239.0 314.0,232.5 318.0,228.4 320.4,224.0 319.9,221.0 317.7,218.0 310.0,213.7 301.0,213.4 287.0,214.7 267.0,214.2 261.0,213.1 255.0,210.7 250.0,207.7 245.0,203.0 M474.9,223.0 469.5,215.0 464.4,204.0 461.0,193.9 458.1,199.0 454.0,203.1 450.0,205.0 444.6,206.0 456.3,214.0 470.0,222.0 474.0,223.9 474.9,223.0 M613.0,373.2 597.0,373.1 591.0,371.4 587.8,369.0 585.6,366.0 584.4,363.0 583.2,355.0 583.9,348.0 585.2,343.0 590.0,333.0 595.1,316.0 599.0,310.7 610.0,303.3 619.0,298.6 637.0,291.7 641.0,291.4 643.7,294.0 645.1,298.0 645.4,313.0 640.9,334.0 642.8,346.0 642.3,354.0 640.9,360.0 638.0,365.2 633.0,368.6 624.0,371.3 613.0,373.2 M474.0,532.1 462.0,532.5 452.0,530.3 442.0,526.6 435.0,522.6 425.0,514.6 416.7,504.0 412.8,496.0 411.4,491.0 409.1,470.0 409.1,450.0 411.5,427.0 414.4,420.0 423.0,410.4 429.0,406.2 438.0,402.5 455.0,397.2 474.0,393.3 490.0,391.3 508.0,391.6 513.0,393.2 520.0,396.7 528.0,403.3 535.5,413.0 542.5,427.0 549.4,445.0 553.6,460.0 554.8,468.0 554.9,477.0 553.5,488.0 551.4,494.0 548.3,500.0 544.2,505.0 540.0,507.8 531.0,510.6 511.0,510.6 499.0,513.0 491.0,518.6 480.0,529.4 474.0,532.1 M562.0,424.1 557.0,424.1 552.0,421.9 548.1,418.0 545.8,413.0 545.7,408.0 548.0,403.0 552.0,399.1 557.0,396.9 562.0,396.9 567.0,399.2 570.8,403.0 573.1,408.0 573.1,413.0 570.8,418.0 567.0,421.8 562.0,424.1 M406.0,154.1 402.0,154.9 397.0,153.9 392.0,152.1 388.0,149.5 380.5,142.0 378.5,138.0 377.5,134.0 377.1,122.0 375.8,115.0 375.0,99.0 376.3,88.0 377.5,84.0 380.7,79.0 385.0,75.5 391.0,73.0 398.0,71.5 409.0,71.7 416.0,73.2 422.5,76.0 425.0,78.0 427.4,82.0 430.5,94.0 428.9,119.0 427.2,127.0 424.8,134.0 422.2,140.0 417.6,147.0 412.6,151.0 406.0,154.1 M240.4,195.0 238.4,192.0 236.2,186.0 233.4,173.0 232.2,160.0 239.1,148.0 244.2,135.0 249.1,126.0 253.1,120.0 257.6,115.0 262.0,110.6 266.0,108.3 281.0,102.2 291.0,100.1 301.0,100.3 305.0,102.0 316.3,112.0 320.2,114.0 327.0,116.0 342.0,116.4 347.0,118.6 354.9,128.0 357.9,133.0 363.7,150.0 363.6,154.0 361.6,157.0 348.1,166.0 340.5,172.0 334.0,178.1 330.2,183.0 327.0,188.0 323.4,197.0 324.0,199.9 326.0,202.0 329.0,202.9 332.0,202.0 337.4,199.0 343.0,194.2 345.0,193.5 348.0,193.6 347.8,190.0 348.6,187.0 353.7,179.0 359.0,173.7 370.0,167.2 375.0,165.3 384.0,163.2 391.0,164.2 398.0,166.2 420.0,165.7 420.8,165.0 420.2,161.0 422.0,157.3 425.0,155.0 429.0,154.4 432.0,155.8 434.6,159.0 435.5,162.0 435.0,165.6 444.0,169.1 456.0,179.5 459.4,185.0 460.0,189.0 458.5,195.0 456.2,199.0 453.0,201.8 449.0,203.4 445.0,203.5 439.0,202.3 425.6,198.0 431.2,203.0 445.0,209.7 472.0,225.2 475.0,225.5 476.2,224.0 476.1,222.0 470.7,214.0 466.2,204.0 459.6,183.0 451.2,161.0 443.2,134.0 441.8,127.0 441.8,118.0 442.5,105.0 443.2,103.0 445.5,101.0 455.0,97.6 468.0,94.6 478.0,95.9 487.0,98.5 505.0,105.3 542.0,127.2 543.6,129.0 545.0,134.0 547.0,136.5 561.0,147.4 568.0,155.0 581.4,176.0 586.0,185.0 589.4,190.0 597.0,197.0 600.0,198.8 604.0,200.1 606.4,202.0 607.3,205.0 608.0,217.0 607.0,222.0 606.0,224.0 601.8,226.0 599.4,228.0 597.8,232.0 600.0,248.0 600.1,261.0 602.0,275.0 601.0,277.1 597.0,279.7 587.0,282.8 570.0,282.1 554.0,279.6 545.0,276.3 540.0,273.3 537.6,271.0 534.9,265.0 534.8,257.0 532.0,253.5 529.0,253.8 524.0,257.8 521.0,258.7 518.1,257.0 512.0,249.7 510.0,249.1 507.0,250.5 504.9,254.0 505.5,262.0 502.7,275.0 497.4,288.0 488.0,306.0 470.7,331.0 469.0,332.4 466.0,333.4 438.0,339.3 434.6,342.0 433.7,344.0 434.1,346.0 436.0,348.5 439.0,349.6 469.0,343.5 493.0,336.5 495.6,334.0 496.9,331.0 499.8,313.0 503.4,299.0 505.9,295.0 512.0,291.6 525.0,288.3 533.0,288.2 541.0,289.5 553.0,292.7 556.0,294.4 557.1,296.0 557.5,320.0 558.3,330.0 561.5,345.0 560.8,350.0 565.3,356.0 567.4,362.0 567.3,367.0 565.3,372.0 562.0,375.6 557.0,378.1 551.0,378.4 547.0,377.4 543.0,374.8 539.6,370.0 538.6,366.0 538.4,358.0 536.0,354.5 524.0,348.8 506.0,344.2 503.0,344.1 501.0,344.9 498.7,347.0 494.5,356.0 486.0,367.8 477.0,374.2 454.0,385.4 433.0,393.1 426.0,395.3 416.3,397.0 409.0,401.1 405.0,399.1 402.0,399.7 400.2,402.0 399.7,404.0 396.1,448.0 394.2,461.0 391.4,474.0 386.7,486.0 379.7,496.0 372.0,503.3 364.0,509.0 354.0,513.6 349.0,514.9 344.0,515.6 339.0,514.9 327.0,508.6 312.0,496.1 305.5,489.0 293.0,469.8 284.1,461.0 277.0,456.8 270.0,455.2 251.0,456.4 240.0,456.1 226.0,454.0 218.0,451.5 208.0,445.7 196.2,435.0 190.1,427.0 185.7,417.0 183.5,407.0 183.3,382.0 182.4,376.0 182.6,356.0 183.4,351.0 183.8,338.0 185.0,331.2 187.8,324.0 190.0,321.7 194.0,319.8 198.0,319.3 203.0,319.9 209.0,322.1 223.0,329.4 239.0,332.0 243.0,333.6 253.4,341.0 267.0,359.8 270.6,363.0 280.8,369.0 303.0,376.4 347.0,384.0 358.0,385.2 375.0,385.3 381.0,384.9 388.0,383.0 399.0,376.5 401.5,373.0 401.4,361.0 399.3,358.0 397.0,357.0 393.0,358.9 385.0,367.8 382.0,370.0 374.0,373.1 365.0,374.4 346.0,373.3 328.0,371.0 309.0,366.7 300.0,363.9 291.0,360.1 287.0,357.5 282.2,353.0 275.8,345.0 268.0,331.8 260.0,322.5 252.0,316.2 241.0,312.0 240.6,309.0 245.4,293.0 251.7,280.0 255.7,269.0 256.3,263.0 259.0,258.0 264.0,253.4 267.0,251.7 299.1,243.0 310.6,238.0 315.0,235.1 319.1,231.0 322.0,226.7 322.7,224.0 322.0,220.1 319.8,217.0 317.0,214.6 311.0,211.8 300.0,211.0 268.0,212.0 261.0,210.7 255.0,208.6 251.0,206.5 245.8,202.0 M617.0,370.0 611.0,370.4 599.0,369.1 593.4,368.0 591.0,366.8 588.9,364.0 587.9,360.0 587.2,350.0 587.8,345.0 592.9,333.0 595.8,321.0 597.7,316.0 600.0,313.1 605.0,309.3 620.0,300.9 628.0,298.2 632.0,298.3 634.0,299.8 641.1,316.0 641.0,320.0 638.6,334.0 640.4,345.0 639.9,354.0 637.6,361.0 634.3,365.0 628.0,367.9 617.0,370.0 M472.0,530.0 464.0,530.4 458.0,529.5 450.0,527.7 442.0,524.6 435.0,520.7 425.5,513.0 417.5,502.0 414.7,496.0 413.0,490.0 410.8,469.0 410.8,451.0 413.3,428.0 416.0,420.8 423.6,412.0 430.0,407.4 437.0,404.5 456.0,398.6 481.0,394.2 492.0,393.3 509.0,394.2 519.0,398.5 526.9,405.0 534.3,415.0 540.2,427.0 548.2,448.0 551.6,460.0 552.9,468.0 553.2,475.0 551.8,487.0 549.3,494.0 546.6,499.0 543.0,503.2 539.0,505.9 531.0,508.5 511.0,508.5 498.0,510.1 490.0,515.8 478.0,527.7 472.0,530.0 M563.0,421.3 558.0,421.9 554.0,420.3 550.3,417.0 548.5,413.0 548.3,409.0 550.0,405.2 552.0,402.8 556.0,400.5 560.0,400.0 565.0,401.5 568.2,404.0 570.6,408.0 571.0,412.0 569.4,416.0 567.0,418.9 563.0,421.3 M406.0,152.2 402.0,152.9 398.0,152.0 389.7,148.0 382.0,140.4 380.4,137.0 379.6,133.0 380.1,121.0 378.4,112.0 377.0,99.0 378.9,87.0 381.8,81.0 386.0,77.2 392.0,74.3 399.0,72.7 409.0,73.1 415.0,74.6 420.1,77.0 422.4,79.0 424.4,82.0 428.0,94.0 426.2,118.0 421.1,129.0 418.9,139.0 416.6,144.0 414.4,147.0 411.0,149.7 406.0,152.2 M241.0,194.2 238.6,190.0 237.1,185.0 235.2,173.0 234.8,161.0 241.0,149.0 246.0,135.0 253.6,121.0 262.9,111.0 272.0,106.3 280.0,103.4 290.0,101.2 301.0,101.3 305.0,103.3 310.0,108.1 319.0,114.6 326.0,116.9 341.0,117.7 345.8,120.0 355.9,134.0 361.7,151.0 361.4,154.0 359.0,157.0 339.7,171.0 331.9,178.0 327.0,184.0 324.1,189.0 321.3,197.0 322.0,200.3 325.0,203.6 329.0,204.8 332.9,204.0 338.0,201.6 344.0,196.3 351.5,195.0 351.7,194.0 350.2,191.0 350.4,189.0 354.7,181.0 358.0,176.7 366.0,171.4 373.0,168.2 379.0,166.5 384.0,165.8 393.5,168.0 394.0,183.2 394.7,184.0 405.0,186.7 407.5,184.0 409.9,176.0 404.0,172.6 400.6,169.0 413.0,169.0 424.2,168.0 425.2,167.0 422.5,164.0 422.2,161.0 424.0,157.9 426.0,156.7 428.0,156.5 431.0,157.9 433.0,161.0 432.8,164.0 430.3,167.0 438.0,169.5 443.0,171.9 444.4,173.0 445.7,176.0 447.6,178.0 452.0,179.5 456.0,183.1 458.3,188.0 457.5,194.0 455.2,198.0 453.2,200.0 450.0,201.6 447.0,202.1 433.0,198.8 421.0,193.5 415.8,193.0 420.5,197.0 424.3,203.0 426.7,205.0 450.0,215.0 472.0,227.0 475.0,227.2 477.2,225.0 477.4,222.0 471.9,214.0 466.6,202.0 461.0,180.7 445.0,134.0 443.4,125.0 443.9,108.0 444.3,105.0 445.6,103.0 448.9,101.0 456.0,98.5 468.0,96.1 472.0,96.3 482.0,99.1 495.0,104.7 505.0,107.6 526.0,119.7 533.7,125.0 539.2,130.0 541.2,137.0 544.0,140.8 558.5,149.0 565.3,156.0 588.9,191.0 596.8,198.0 604.0,201.3 605.7,203.0 606.8,217.0 606.0,221.0 605.0,223.0 598.9,227.0 596.8,231.0 596.9,236.0 599.2,249.0 599.2,261.0 600.3,274.0 599.0,276.4 596.0,278.4 586.0,281.7 571.0,281.2 555.0,278.7 547.0,275.8 540.0,270.6 537.0,265.0 536.0,256.0 533.0,252.2 531.0,251.4 529.0,251.6 523.0,255.7 521.0,256.0 519.0,254.5 513.0,247.2 509.0,246.6 506.0,248.2 504.0,250.4 502.8,253.0 503.2,262.0 500.3,275.0 491.1,296.0 478.7,316.0 469.7,329.0 468.0,330.5 466.0,331.2 457.0,332.4 436.0,337.5 426.0,345.7 425.3,348.0 426.0,351.2 431.0,357.7 433.0,358.6 436.0,358.5 437.4,358.0 439.2,355.0 441.0,353.6 448.0,350.5 458.0,348.2 469.0,346.9 486.0,340.8 494.0,338.9 496.3,337.0 498.3,333.0 500.0,317.0 504.4,300.0 506.0,296.8 511.0,293.3 519.0,290.7 526.0,289.6 534.0,289.7 550.0,293.4 553.7,295.0 555.4,297.0 555.7,306.0 554.8,320.0 555.5,328.0 560.0,344.0 559.9,351.0 564.0,356.0 566.1,361.0 566.0,367.0 564.3,371.0 561.0,374.7 557.0,376.8 551.0,377.3 547.0,376.2 543.0,373.4 540.3,369.0 539.6,366.0 539.3,357.0 537.0,353.6 524.0,347.3 507.0,342.2 502.0,341.9 499.0,343.1 496.4,346.0 492.3,356.0 485.0,366.3 476.0,372.5 459.0,381.4 448.0,386.1 433.0,391.0 417.0,394.5 409.0,399.1 405.0,397.4 402.0,397.9 399.8,400.0 398.5,403.0 395.2,447.0 392.4,465.0 390.3,474.0 386.0,485.0 379.0,494.8 371.4,502.0 364.0,507.5 352.0,512.8 345.0,514.2 340.0,513.9 328.0,507.8 313.0,495.7 306.7,489.0 293.0,467.2 285.2,460.0 277.6,456.0 271.0,454.4 251.0,455.1 240.0,454.8 227.0,453.2 219.0,450.8 209.2,445.0 197.1,434.0 191.4,427.0 186.8,417.0 184.4,406.0 184.2,382.0 183.4,375.0 183.9,356.0 185.8,339.0 187.8,329.0 190.2,324.0 195.0,321.6 202.0,321.5 214.0,325.9 223.0,330.4 238.0,332.6 243.0,334.6 252.9,342.0 258.6,350.0 264.6,360.0 268.4,364.0 278.0,369.8 303.0,378.4 325.0,383.3 340.0,385.3 357.0,386.7 375.0,386.9 382.0,386.2 389.4,384.0 399.6,378.0 402.9,374.0 403.4,369.0 403.0,361.0 401.4,358.0 398.0,355.6 396.0,355.6 393.0,357.1 384.0,366.8 381.0,368.8 374.0,371.5 364.0,372.8 360.0,372.8 347.0,371.2 341.0,369.7 323.0,367.7 302.0,362.6 294.0,359.9 288.0,356.4 282.4,351.0 275.7,342.0 269.0,330.1 262.0,322.1 254.0,315.3 243.2,310.0 243.5,307.0 248.0,296.0 256.0,283.0 260.7,263.0 262.0,260.6 266.0,256.2 271.0,253.0 302.0,244.1 312.0,240.3 316.8,237.0 321.0,232.2 324.0,227.0 324.5,224.0 323.8,220.0 321.0,216.0 318.0,213.5 311.0,210.3 288.0,208.1 268.0,210.2 262.0,209.3 254.0,206.7 247.0,201.9 M418.1,176.0 418.9,175.0 418.9,173.0 417.0,171.4 414.9,172.0 411.8,175.0 412.3,176.0 415.0,176.6 418.1,176.0 M618.0,368.1 610.0,367.8 600.0,365.6 594.0,363.1 592.6,361.0 591.9,358.0 591.1,344.0 592.4,340.0 596.2,333.0 597.8,322.0 600.9,315.0 604.0,312.5 619.0,304.1 623.0,302.4 627.0,301.8 630.0,303.1 633.6,307.0 637.7,319.0 636.9,334.0 638.9,344.0 638.4,352.0 635.8,360.0 633.0,363.6 627.0,366.5 618.0,368.1 M467.0,528.0 459.0,528.0 452.0,527.0 444.0,524.3 437.0,520.7 425.9,512.0 418.3,501.0 414.5,490.0 412.0,468.0 411.8,451.0 412.9,439.0 414.9,428.0 418.0,421.0 425.0,412.3 431.0,408.1 439.0,404.9 456.0,399.8 481.0,395.5 492.0,394.7 506.0,395.6 511.0,396.7 518.0,399.6 526.0,406.0 533.0,415.5 539.6,429.0 546.9,448.0 550.7,461.0 551.9,469.0 551.9,478.0 549.8,489.0 547.8,494.0 544.8,499.0 541.0,502.9 537.0,505.4 529.0,507.4 497.0,507.7 489.0,512.8 476.0,525.9 472.0,527.5 467.0,528.0 M561.0,420.1 558.0,420.0 553.9,418.0 552.0,415.9 550.7,412.0 551.0,409.0 553.0,405.5 556.0,403.4 559.0,402.6 563.0,403.2 566.0,404.8 568.0,407.0 569.3,410.0 569.1,413.0 567.0,416.7 565.0,418.4 561.0,420.1 M403.0,151.1 398.0,150.0 392.1,147.0 385.2,141.0 383.0,138.0 381.6,132.0 382.7,120.0 380.4,110.0 378.9,98.0 381.4,86.0 385.0,80.4 392.0,75.8 398.0,74.1 404.0,73.7 408.0,74.1 414.0,75.9 420.0,79.5 422.9,84.0 425.6,95.0 425.3,104.0 423.5,116.0 422.7,118.0 418.8,122.0 416.5,136.0 415.1,140.0 413.0,144.7 411.0,147.2 407.0,149.9 403.0,151.1 M241.8,194.0 239.5,190.0 237.9,184.0 236.8,173.0 237.0,162.0 243.3,148.0 248.7,133.0 254.7,121.0 263.0,111.8 273.0,106.7 281.0,103.9 290.0,102.0 300.0,102.2 304.0,103.8 318.0,115.1 325.0,117.6 339.8,119.0 344.0,120.8 354.0,135.4 359.6,151.0 359.6,153.0 357.7,156.0 337.8,171.0 331.0,177.0 324.1,185.0 321.9,189.0 319.5,197.0 320.5,201.0 324.0,204.9 329.0,206.6 337.0,204.9 340.0,203.2 345.0,198.0 352.0,196.5 358.0,192.5 365.5,189.0 366.0,187.8 356.4,183.0 358.9,178.0 364.0,174.2 371.0,171.1 382.0,170.4 386.0,172.0 388.0,174.4 389.1,179.0 388.6,184.0 405.0,188.2 412.0,191.8 418.4,198.0 422.0,205.0 424.0,206.9 450.0,217.1 472.0,228.9 475.0,229.0 478.0,226.0 478.8,224.0 478.5,222.0 472.9,214.0 467.6,202.0 465.3,194.0 462.5,178.0 452.0,147.6 446.6,134.0 444.8,125.0 445.2,109.0 445.6,106.0 446.7,104.0 449.0,102.4 456.0,99.6 467.0,97.4 471.0,97.4 483.0,101.4 494.0,107.1 504.0,109.6 514.0,114.5 527.4,123.0 531.7,127.0 534.8,131.0 538.0,138.9 541.5,143.0 547.0,147.9 555.0,150.7 560.0,154.3 568.0,163.8 573.7,174.0 579.0,179.4 587.8,191.0 597.0,199.0 604.5,203.0 605.6,207.0 605.8,217.0 605.2,220.0 604.0,222.4 600.0,224.7 597.6,227.0 595.9,231.0 596.0,236.4 598.4,249.0 598.7,274.0 597.4,276.0 595.0,277.5 585.0,280.8 571.0,280.3 555.0,277.6 547.9,275.0 541.7,270.0 538.8,265.0 537.0,255.0 533.0,250.4 529.0,249.7 523.0,252.7 521.0,252.7 516.0,245.9 512.0,244.0 508.0,244.6 504.2,247.0 500.9,252.0 501.1,262.0 498.6,274.0 488.0,295.1 483.0,299.5 481.0,299.5 478.0,300.7 474.0,297.6 472.0,297.0 469.0,298.3 467.1,301.0 466.7,303.0 467.3,305.0 469.0,305.9 474.0,306.0 476.5,312.0 474.7,318.0 468.7,327.0 466.0,329.1 457.0,330.1 435.0,335.6 425.0,342.7 423.4,347.0 423.8,353.0 426.0,358.0 430.0,361.4 434.0,362.4 437.0,361.3 444.0,355.8 449.0,353.3 459.0,350.6 469.0,350.0 486.0,343.2 490.0,342.2 493.0,342.4 494.1,343.0 494.0,345.0 491.8,353.0 489.1,358.0 483.7,365.0 481.4,367.0 452.1,383.0 435.0,388.1 423.0,389.0 419.0,390.7 410.0,396.8 408.0,396.9 404.0,395.8 400.0,397.6 398.0,400.3 397.3,403.0 395.7,421.0 395.2,438.0 392.3,460.0 389.4,474.0 385.0,484.8 378.0,493.9 370.6,501.0 362.7,507.0 352.0,511.6 345.0,513.1 340.0,512.8 328.0,506.5 313.0,494.5 307.0,488.0 293.2,465.0 287.0,459.7 277.5,455.0 271.0,453.6 258.0,454.1 240.0,453.8 227.0,452.3 219.0,449.9 209.8,444.0 195.0,430.2 191.2,425.0 187.7,417.0 185.3,405.0 185.0,382.0 184.2,375.0 184.8,358.0 189.0,331.0 191.0,326.0 195.0,323.6 200.0,323.2 204.0,324.0 214.0,327.1 223.0,331.2 238.0,333.4 241.0,334.4 245.4,337.0 251.6,342.0 257.7,351.0 263.4,362.0 272.0,368.8 277.0,371.3 288.0,374.6 318.0,386.1 325.0,387.4 340.0,388.1 352.0,387.6 374.0,388.4 380.0,387.8 389.0,385.7 394.0,383.5 401.0,378.7 404.6,374.0 405.1,368.0 404.3,360.0 401.5,356.0 398.0,354.0 395.0,354.3 392.3,356.0 383.0,365.8 380.0,367.7 373.0,370.1 361.0,371.1 341.0,367.1 324.0,365.2 313.0,361.0 304.0,360.7 296.3,359.0 289.0,355.5 284.1,351.0 277.4,342.0 270.0,328.8 263.0,321.1 256.0,314.8 246.9,309.0 246.2,308.0 246.5,306.0 249.6,299.0 254.0,292.5 257.3,285.0 262.4,266.0 265.0,261.4 269.0,257.5 273.1,255.0 282.0,253.0 296.0,247.5 309.0,246.3 312.0,245.2 319.0,239.8 323.0,233.9 325.9,227.0 325.9,221.0 323.9,217.0 320.0,213.0 311.0,208.8 300.0,206.7 286.0,205.2 271.0,208.4 264.0,208.0 253.0,205.1 247.1,201.0 M450.0,200.2 446.0,200.6 430.6,196.0 428.0,194.0 428.2,189.0 434.0,185.9 440.0,181.1 443.0,181.3 450.0,183.8 454.0,184.1 455.9,186.0 456.8,188.0 456.8,192.0 454.0,197.6 450.0,200.2 M373.5,185.0 379.6,183.0 375.0,182.0 372.9,184.0 372.6,185.0 373.5,185.0 M555.0,376.2 551.0,376.4 548.0,375.6 542.9,372.0 540.5,367.0 540.1,356.0 537.0,352.0 527.0,346.9 507.0,340.0 500.7,339.0 499.6,338.0 500.3,332.0 500.3,322.0 501.7,314.0 506.0,299.0 507.3,297.0 511.0,294.5 520.0,291.6 532.0,290.7 545.0,293.4 553.2,297.0 554.0,299.1 554.1,306.0 551.9,321.0 552.2,327.0 558.8,344.0 558.9,351.0 563.5,357.0 565.3,363.0 564.6,368.0 562.3,372.0 559.0,374.7 555.0,376.2 M623.0,366.0 617.0,366.5 611.0,365.8 602.0,363.6 598.0,361.8 595.4,359.0 593.9,345.0 595.5,340.0 599.7,335.0 601.1,332.0 601.7,328.0 601.0,323.0 602.7,317.0 605.1,315.0 620.0,307.3 626.0,305.7 631.0,307.3 632.8,310.0 633.4,317.0 634.8,323.0 635.4,334.0 637.5,346.0 636.5,353.0 633.2,361.0 629.2,364.0 623.0,366.0 M461.0,526.1 455.0,526.2 451.0,525.6 444.0,523.3 437.0,519.6 426.3,511.0 421.8,505.0 418.6,499.0 416.3,493.0 414.3,482.0 412.9,468.0 412.6,455.0 413.9,439.0 415.7,430.0 417.6,425.0 424.4,415.0 430.0,410.0 438.0,406.3 456.0,400.8 482.0,396.6 491.0,396.0 509.0,397.8 516.0,400.2 524.3,406.0 531.8,416.0 538.0,428.5 546.0,449.0 549.7,461.0 551.0,470.0 550.6,480.0 549.5,486.0 547.5,492.0 543.0,499.2 540.0,502.1 536.0,504.5 530.0,506.2 524.0,506.5 496.0,505.5 487.0,510.2 480.0,517.6 475.0,521.4 461.0,526.1 M562.0,418.1 559.0,418.4 557.0,417.7 554.7,416.0 553.5,414.0 553.0,411.0 553.5,409.0 555.0,406.8 558.0,404.9 561.0,404.7 564.0,405.8 566.0,407.4 567.6,410.0 567.6,412.0 566.4,415.0 564.3,417.0 562.0,418.1 M406.0,148.0 402.0,148.9 395.0,146.3 389.3,142.0 384.9,137.0 383.5,131.0 384.9,120.0 382.1,109.0 380.8,100.0 382.5,89.0 385.2,83.0 392.0,77.6 401.0,74.9 408.0,75.3 414.0,77.5 418.0,80.1 421.4,85.0 423.5,94.0 422.8,105.0 420.5,114.0 416.0,122.0 415.4,131.0 414.3,136.0 410.0,144.3 406.0,148.0 M242.6,194.0 240.3,190.0 238.9,184.0 238.4,172.0 239.0,162.0 245.5,147.0 252.4,128.0 255.8,121.0 263.0,112.6 273.0,107.3 281.0,104.5 290.0,102.8 300.0,103.0 304.0,104.8 315.0,114.2 318.0,116.0 325.0,118.6 336.0,119.7 341.3,121.0 343.1,129.0 345.0,132.0 352.0,139.0 357.3,151.0 357.2,153.0 355.1,156.0 330.1,176.0 324.2,182.0 321.3,186.0 318.4,193.0 317.7,197.0 319.3,202.0 323.0,206.1 326.0,207.8 329.0,208.4 339.0,207.0 341.0,205.9 346.0,199.7 352.0,198.1 360.0,193.0 375.0,186.1 380.0,184.7 385.0,184.7 397.0,187.2 408.0,190.9 413.5,195.0 417.3,200.0 420.0,205.5 423.0,208.4 456.0,221.8 466.9,228.0 471.0,231.5 474.0,231.6 478.0,228.1 479.6,225.0 479.8,223.0 473.2,213.0 468.5,202.0 465.7,190.0 465.1,178.0 448.1,133.0 446.0,123.0 446.4,110.0 448.0,104.8 450.4,103.0 456.0,100.6 469.0,98.4 481.0,102.3 495.0,110.0 512.0,115.3 525.8,124.0 533.9,134.0 536.7,140.0 543.0,146.7 547.0,150.0 556.0,154.5 562.0,160.0 567.3,167.0 572.0,177.0 581.0,184.2 586.7,191.0 594.6,198.0 604.0,203.8 604.8,207.0 605.0,217.0 603.8,221.0 598.0,225.4 595.2,230.0 595.1,236.0 597.8,250.0 597.7,273.0 595.4,276.0 587.0,279.5 582.0,280.0 571.0,279.5 556.0,277.0 549.0,274.4 545.8,272.0 541.8,266.0 537.3,253.0 535.0,250.1 532.0,248.2 528.0,247.8 522.0,249.4 517.0,243.0 513.0,241.6 506.8,243.0 502.0,246.8 499.0,252.5 499.3,262.0 496.8,274.0 487.0,290.4 484.5,293.0 481.0,295.2 476.0,292.8 473.0,292.7 470.0,293.7 466.6,296.0 464.0,300.0 462.5,305.0 463.4,308.0 467.0,310.9 471.0,310.8 472.0,315.0 471.5,318.0 467.5,325.0 465.0,327.0 456.0,328.0 434.0,334.2 426.0,339.1 422.0,343.3 420.9,346.0 421.6,354.0 423.4,359.0 427.6,363.0 433.0,365.1 438.0,364.0 441.1,362.0 444.0,358.9 454.0,354.3 460.0,352.8 470.0,352.4 486.0,345.3 489.0,344.7 490.4,345.0 491.2,347.0 490.3,352.0 488.3,356.0 480.8,365.0 474.0,368.8 459.6,375.0 451.3,381.0 444.0,383.1 432.0,383.4 425.0,385.0 419.0,387.7 410.0,394.7 403.0,394.3 399.0,396.3 397.1,399.0 396.2,402.0 393.5,448.0 388.8,473.0 384.4,484.0 380.0,489.8 370.9,499.0 362.2,506.0 352.0,510.5 343.0,512.1 339.0,511.5 332.0,507.8 322.0,501.0 313.0,493.4 308.0,488.1 302.1,479.0 294.8,464.0 290.2,460.0 279.0,454.7 272.0,452.9 240.0,452.9 227.0,451.5 220.0,449.4 211.6,444.0 203.9,436.0 195.0,428.8 191.6,424.0 188.5,417.0 186.1,405.0 185.7,381.0 185.0,374.0 186.0,356.0 188.0,344.2 191.3,337.0 196.7,330.0 203.0,327.1 212.0,327.7 223.0,332.0 238.0,334.0 242.0,335.7 251.3,343.0 256.3,351.0 260.7,362.0 264.5,366.0 275.0,372.6 288.0,376.2 304.0,383.1 312.1,388.0 316.0,389.1 324.0,390.5 343.0,391.8 352.0,389.7 364.0,389.1 373.0,390.0 377.0,389.7 394.0,386.0 403.0,378.8 406.4,374.0 407.1,367.0 405.6,359.0 402.0,354.2 398.0,351.9 396.0,352.0 393.0,353.5 382.0,364.8 380.0,366.1 374.0,368.2 362.0,369.2 343.0,365.3 325.0,362.7 317.6,359.0 313.0,357.7 303.0,357.7 296.0,357.0 290.0,354.5 285.8,351.0 278.5,341.0 271.4,328.0 250.1,307.0 249.9,304.0 256.6,293.0 260.2,285.0 263.8,267.0 266.0,263.3 272.0,258.7 275.0,257.2 284.0,256.9 290.0,252.8 296.0,250.4 300.0,250.2 305.0,251.0 308.0,250.5 312.0,249.1 317.0,246.0 321.1,243.0 324.0,238.9 327.7,227.0 327.7,220.0 325.0,215.5 320.0,211.1 312.0,207.5 304.0,205.4 283.0,202.9 271.0,206.5 268.0,206.8 254.0,204.4 248.0,200.8 M449.0,199.2 446.0,199.0 444.2,198.0 442.3,193.0 442.6,189.0 444.0,187.7 446.0,187.2 455.0,188.1 455.6,191.0 454.4,195.0 452.0,197.9 449.0,199.2 M556.0,375.1 552.0,375.6 549.0,375.1 546.0,373.8 543.1,371.0 541.1,366.0 541.0,355.8 539.0,352.1 537.0,350.4 529.0,346.3 505.0,337.3 503.0,336.0 501.4,327.0 501.8,318.0 506.6,300.0 508.0,297.7 511.0,295.6 520.0,292.6 532.0,291.8 544.7,295.0 549.2,297.0 551.5,299.0 552.2,306.0 549.6,321.0 550.0,329.0 556.5,341.0 557.8,345.0 557.9,351.0 563.1,358.0 564.4,363.0 564.0,367.0 562.0,371.0 559.0,373.7 556.0,375.1 M624.0,364.2 618.0,364.8 611.0,363.9 599.0,360.0 597.9,359.0 597.0,356.0 596.7,345.0 598.0,341.2 603.2,334.0 605.4,328.0 606.4,321.0 607.4,319.0 611.0,316.3 624.0,309.4 629.0,308.9 630.9,310.0 631.4,312.0 631.8,323.0 635.7,341.0 636.1,346.0 634.8,353.0 632.6,359.0 629.5,362.0 624.0,364.2 M458.0,524.3 453.0,524.8 446.0,523.0 438.0,519.1 433.0,515.8 426.6,510.0 422.2,504.0 418.7,497.0 417.3,493.0 415.3,482.0 413.7,467.0 413.3,454.0 414.7,439.0 418.0,427.0 424.2,417.0 431.0,410.7 439.0,406.9 456.0,401.7 482.0,397.7 491.0,397.2 508.0,399.6 517.0,402.4 524.0,407.6 531.0,417.2 536.8,429.0 547.6,457.0 550.0,468.0 550.1,475.0 548.6,486.0 546.4,492.0 543.5,497.0 539.6,501.0 536.0,503.2 530.0,505.1 519.0,505.6 506.0,504.7 497.0,503.2 493.0,503.9 484.2,509.0 473.8,518.0 464.6,521.0 458.0,524.3 M557.8,407.0 561.0,406.5 565.1,409.0 565.9,412.0 564.0,415.3 560.0,416.7 557.0,415.5 555.1,412.0 556.0,408.6 M404.0,146.4 400.0,146.4 394.0,143.7 388.6,139.0 386.0,135.1 385.1,131.0 386.3,119.0 383.5,108.0 382.5,99.0 384.4,89.0 387.0,83.8 394.0,78.5 399.0,76.5 404.0,76.0 408.0,76.6 413.0,78.8 418.0,82.4 420.5,87.0 421.7,95.0 420.8,104.0 418.0,112.9 414.0,116.6 412.3,120.0 413.8,130.0 413.3,135.0 410.0,140.8 406.3,145.0 404.0,146.4 M243.0,193.4 240.7,189.0 239.7,184.0 240.7,163.0 248.7,143.0 253.2,134.0 254.0,127.7 256.8,121.0 264.0,112.6 274.0,107.5 282.0,104.9 290.0,103.4 300.0,103.8 303.0,105.1 315.0,115.1 318.0,116.9 325.0,119.5 335.8,121.0 336.8,123.0 336.8,127.0 340.0,128.9 348.7,139.0 354.0,147.8 355.2,151.0 354.3,154.0 349.5,159.0 328.3,176.0 323.0,181.0 319.2,186.0 316.4,193.0 315.9,197.0 317.6,202.0 322.0,208.1 324.0,209.3 330.0,210.3 338.0,210.1 341.0,209.3 343.0,207.5 345.4,203.0 347.0,201.4 353.0,199.2 361.0,194.0 378.0,186.7 384.0,186.0 396.0,188.5 405.0,190.9 411.0,194.6 415.7,201.0 419.1,209.0 422.0,211.6 425.0,212.6 430.0,212.9 442.0,217.4 457.3,225.0 462.5,229.0 463.9,231.0 465.4,236.0 463.9,238.0 464.6,240.0 466.0,240.9 468.0,240.9 470.0,238.8 474.8,237.0 477.0,234.8 478.9,231.0 480.7,223.0 479.9,221.0 474.1,213.0 469.1,201.0 467.2,192.0 467.6,178.0 456.7,151.0 449.9,132.0 448.5,126.0 447.9,112.0 448.5,107.0 451.4,104.0 458.0,101.1 469.0,99.6 482.0,104.4 499.0,114.2 512.0,117.0 524.0,124.6 531.0,133.0 534.2,141.0 543.0,150.3 546.0,152.7 553.2,155.0 561.8,163.0 566.2,169.0 569.2,178.0 570.8,180.0 574.0,182.9 582.0,187.2 595.0,199.1 603.2,204.0 604.1,207.0 604.2,217.0 603.0,220.5 596.4,226.0 594.3,230.0 594.4,237.0 597.2,250.0 597.3,266.0 596.6,272.0 595.4,274.0 593.0,275.9 586.0,278.8 571.0,278.7 557.0,276.3 550.6,274.0 547.2,271.0 543.5,265.0 538.6,252.0 536.0,248.7 533.0,246.7 529.0,245.9 523.0,245.7 517.6,241.0 513.0,239.6 507.0,241.0 502.0,244.4 499.0,248.4 497.5,252.0 497.6,262.0 495.5,273.0 486.0,287.5 484.0,289.6 478.0,288.4 472.0,289.8 465.0,293.9 462.0,298.3 459.9,303.0 459.4,306.0 462.0,312.3 467.1,317.0 466.7,321.0 465.0,323.9 463.0,325.0 455.0,326.0 434.0,332.7 424.0,338.4 420.0,339.7 418.6,341.0 417.8,343.0 420.8,360.0 425.0,364.1 433.0,367.7 436.0,367.5 447.0,363.5 448.9,362.0 451.5,358.0 455.9,356.0 461.0,354.6 470.0,354.5 487.0,347.1 488.0,347.2 489.0,349.0 487.0,354.3 480.0,362.7 478.0,364.3 465.0,370.1 455.0,372.6 449.0,378.2 445.0,379.3 432.0,380.6 419.0,385.6 410.0,392.8 408.0,393.3 402.0,392.9 397.7,395.0 395.8,398.0 395.0,401.0 394.2,428.0 392.9,447.0 388.0,473.0 384.0,482.7 380.0,488.0 374.0,491.6 368.4,499.0 360.1,506.0 351.0,509.6 342.0,511.1 338.0,510.0 331.0,506.0 318.0,496.7 310.6,490.0 302.4,478.0 297.0,464.0 295.0,461.4 292.0,459.2 279.0,453.9 272.0,452.2 241.0,452.1 227.0,450.8 221.0,449.0 215.7,446.0 205.0,434.7 196.0,428.4 192.5,424.0 189.3,417.0 186.7,404.0 186.4,381.0 185.6,374.0 186.8,356.0 189.0,349.2 191.0,347.2 194.0,346.2 198.0,332.8 201.0,331.0 207.0,329.6 213.0,329.2 222.0,332.4 238.0,334.6 242.0,336.5 247.0,340.0 251.0,344.0 254.4,350.0 258.7,363.0 261.0,366.0 274.0,374.4 287.0,377.5 299.0,383.0 307.0,388.1 315.0,390.8 345.0,394.5 348.0,394.1 353.0,392.0 361.0,390.9 366.0,390.8 374.0,391.9 386.0,389.6 392.0,389.3 395.0,388.0 404.8,379.0 407.3,376.0 408.6,373.0 409.1,366.0 407.6,359.0 400.5,349.0 399.7,347.0 398.0,345.5 395.0,347.0 388.3,356.0 380.0,364.2 374.0,366.5 363.0,367.3 352.0,364.7 329.0,361.5 313.0,355.6 296.0,355.1 291.0,353.3 286.9,350.0 280.0,339.9 273.3,328.0 259.6,314.0 253.5,306.0 252.8,303.0 254.0,300.3 260.0,295.0 263.7,285.0 264.5,277.0 266.8,268.0 268.8,265.0 273.0,261.0 278.3,260.0 280.0,265.2 282.0,266.5 284.0,266.5 292.7,261.0 294.0,258.0 292.3,257.0 294.2,256.0 302.0,254.1 306.0,254.3 311.0,253.1 322.5,247.0 324.9,245.0 326.2,242.0 329.6,226.0 329.8,219.0 327.2,215.0 322.0,209.4 306.0,203.6 282.0,201.3 277.0,202.1 270.0,204.9 266.0,204.9 254.0,203.4 248.0,199.9 M556.0,374.3 552.0,374.8 549.0,374.4 546.0,372.9 544.0,371.0 541.8,366.0 541.7,355.0 540.7,352.0 539.0,349.9 530.0,345.2 507.0,336.0 505.0,334.2 502.5,324.0 502.6,318.0 507.0,301.4 509.0,298.1 512.0,296.1 521.0,293.5 532.0,293.3 544.1,297.0 548.0,299.0 549.7,301.0 550.1,308.0 548.0,321.0 548.4,330.0 555.4,342.0 556.4,345.0 557.1,351.0 562.0,357.5 563.6,362.0 563.5,366.0 562.0,369.6 560.0,372.0 556.0,374.3 M622.0,363.1 616.0,363.1 603.7,360.0 601.0,356.0 598.9,345.0 600.8,341.0 605.6,336.0 608.2,332.0 609.8,328.0 611.3,321.0 612.5,319.0 622.0,313.0 626.0,311.6 627.2,312.0 628.4,314.0 630.3,327.0 634.1,340.0 634.6,346.0 633.3,353.0 631.0,358.7 628.0,361.1 622.0,363.1 M402.2,344.0 405.0,342.6 407.0,340.7 409.4,337.0 410.2,334.0 409.9,332.0 408.0,329.3 403.0,326.3 401.0,326.9 400.3,328.0 395.4,340.0 395.8,343.0 397.0,344.4 402.2,344.0 M454.0,523.1 450.0,523.0 445.0,521.6 433.0,514.8 428.0,510.5 423.7,505.0 418.7,495.0 416.0,481.0 414.4,467.0 414.0,453.0 415.5,439.0 418.4,430.0 425.9,417.0 431.0,411.9 439.0,407.8 456.0,402.6 483.0,399.0 491.0,398.9 507.0,401.6 516.9,405.0 523.0,409.0 530.0,418.5 535.3,429.0 538.3,438.0 544.0,450.0 548.0,460.9 549.4,469.0 549.2,478.0 547.9,485.0 545.0,492.5 542.0,496.8 538.0,500.5 535.0,502.2 529.0,504.1 517.0,504.5 505.0,503.2 495.0,500.8 492.0,501.2 478.0,511.9 464.4,519.0 454.0,523.1 M563.0,409.3 563.9,412.0 562.7,414.0 560.0,414.9 558.1,414.0 M496.8,452.0 499.2,449.0 502.0,443.0 502.1,441.0 501.0,440.1 496.0,441.6 494.0,443.3 492.5,446.0 492.2,449.0 493.0,451.2 495.0,452.8 496.8,452.0 M492.5,478.0 492.9,475.0 492.0,472.9 491.0,473.5 490.3,476.0 491.0,478.5 492.0,479.0 492.5,478.0 M492.1,492.0 492.8,489.0 492.0,486.9 491.0,487.9 490.7,490.0 491.0,491.9 492.1,492.0 M404.0,144.3 400.0,144.6 396.0,143.4 391.4,140.0 387.5,135.0 386.6,130.0 388.4,119.0 385.2,109.0 384.1,100.0 385.9,90.0 388.0,85.5 396.0,79.3 400.0,77.8 404.0,77.3 409.0,78.5 416.5,83.0 419.1,87.0 420.2,94.0 419.0,103.1 416.2,108.0 410.8,115.0 409.1,119.0 409.4,122.0 411.9,130.0 411.3,136.0 409.0,140.1 404.0,144.3 M373.0,365.1 362.0,365.4 353.1,363.0 337.0,361.4 326.0,359.0 319.0,354.8 314.0,352.8 310.0,352.4 304.0,353.6 297.0,353.4 292.0,351.9 289.1,350.0 274.5,327.0 261.4,314.0 256.1,305.0 257.2,302.0 262.3,297.0 266.0,292.1 271.0,289.8 272.9,288.0 272.8,285.0 269.0,277.4 269.0,274.0 270.0,270.3 272.0,268.5 274.0,268.2 281.0,271.1 285.0,270.9 304.0,259.7 318.0,253.5 327.0,248.5 330.3,245.0 332.1,241.0 332.0,239.0 329.8,235.0 330.2,231.0 333.2,220.0 331.0,213.9 334.0,213.3 336.0,217.0 339.2,219.0 342.0,224.8 344.0,225.7 345.0,225.3 345.8,223.0 344.4,217.0 346.4,210.0 346.4,206.0 348.0,203.3 361.0,195.4 376.0,188.8 381.0,187.5 384.0,187.5 396.0,190.0 404.0,192.0 407.0,193.4 410.3,196.0 413.1,200.0 414.8,204.0 415.5,210.0 418.0,213.2 423.0,215.5 432.0,216.4 440.0,218.3 454.0,225.5 457.0,228.0 459.7,232.0 459.8,233.0 457.6,235.0 456.7,237.0 457.1,239.0 459.3,242.0 463.0,245.0 466.0,246.2 470.0,246.3 474.0,245.2 476.0,243.2 477.5,239.0 481.1,234.0 482.1,230.0 482.2,226.0 481.3,222.0 474.9,213.0 469.8,201.0 468.9,195.0 470.1,183.0 469.0,174.0 458.0,150.5 451.6,132.0 450.2,125.0 449.6,108.0 452.0,105.1 457.0,102.6 465.0,101.0 470.0,101.0 479.0,104.4 485.0,107.6 491.3,112.0 497.0,117.9 499.0,119.1 502.0,119.1 505.0,117.8 509.0,117.8 516.0,120.6 524.3,127.0 527.2,131.0 531.9,142.0 542.0,153.0 545.0,155.3 552.0,158.5 563.0,167.6 564.9,172.0 564.1,180.0 567.0,184.5 569.5,186.0 573.0,185.6 581.0,188.4 595.0,199.8 602.9,205.0 603.5,209.0 603.0,218.6 601.3,221.0 595.4,226.0 593.5,230.0 593.6,237.0 596.6,251.0 596.5,266.0 594.9,272.0 593.4,274.0 591.0,275.6 583.0,278.1 571.4,278.0 556.0,274.9 551.8,273.0 548.6,270.0 544.7,263.0 541.5,253.0 536.0,246.4 533.0,245.0 523.4,243.0 520.0,239.7 516.0,237.8 513.0,237.5 507.0,239.3 501.3,243.0 496.7,250.0 495.7,254.0 496.0,262.0 494.7,270.0 493.8,273.0 491.0,277.0 485.0,282.1 483.0,282.4 477.0,280.9 475.0,281.1 469.8,287.0 463.1,292.0 461.0,294.5 456.9,305.0 458.3,319.0 457.4,321.0 448.0,326.5 425.0,334.6 420.0,332.9 414.5,328.0 412.5,325.0 411.0,318.0 409.6,316.0 407.0,315.9 400.0,318.6 397.9,320.0 396.1,323.0 394.8,331.0 391.8,338.0 392.1,346.0 389.0,352.0 386.1,356.0 380.0,362.1 377.0,364.0 373.0,365.1 M243.5,193.0 241.5,189.0 240.7,185.0 241.5,170.0 242.8,162.0 250.7,143.0 256.2,135.0 256.1,125.0 257.2,122.0 264.0,113.3 273.0,108.4 282.0,105.4 291.0,103.9 299.0,104.3 302.0,105.3 316.0,116.7 324.0,120.4 328.5,121.0 330.1,122.0 331.6,124.0 332.4,127.0 336.0,129.0 349.0,142.9 352.2,148.0 352.9,152.0 348.3,158.0 322.8,179.0 318.0,184.8 314.1,195.0 314.2,198.0 316.4,204.0 316.0,204.9 307.0,201.5 292.6,201.0 283.0,198.7 278.0,199.2 271.0,202.7 267.0,203.3 254.0,202.3 248.0,199.0 M553.0,374.1 547.5,373.0 545.0,371.2 543.5,369.0 542.3,365.0 543.0,354.0 542.0,351.0 540.0,348.5 530.9,344.0 510.0,335.8 506.5,333.0 503.7,322.0 504.0,315.5 508.5,301.0 510.0,299.0 512.9,297.0 520.0,294.7 530.0,294.6 543.0,298.7 547.7,302.0 548.4,307.0 546.9,321.0 547.2,331.0 554.0,342.7 555.3,349.0 556.6,352.0 562.1,359.0 563.0,363.0 562.0,367.9 560.0,370.7 557.0,372.9 553.0,374.1 M628.0,324.6 633.2,344.0 632.3,351.0 630.4,357.0 628.0,359.4 622.0,361.5 617.0,361.6 609.2,360.0 607.0,358.0 604.0,353.0 603.1,348.0 603.3,345.0 604.9,342.0 611.0,334.8 615.1,324.0 618.0,320.8 622.0,318.2 M346.0,509.2 341.0,509.6 337.0,508.0 320.0,497.0 312.0,490.4 309.0,487.0 302.8,477.0 298.4,463.0 296.0,460.0 293.1,458.0 285.4,455.0 272.0,451.5 258.0,451.7 233.0,450.7 223.2,449.0 217.3,446.0 206.7,434.0 201.0,429.7 196.0,427.0 194.0,424.8 190.5,418.0 187.6,406.0 187.1,381.0 186.3,374.0 187.0,361.1 189.0,355.0 190.9,352.0 194.0,350.4 196.0,347.4 199.1,346.0 201.2,338.0 204.0,333.8 210.0,331.3 215.0,330.9 223.0,333.3 239.0,335.6 244.7,339.0 250.1,344.0 252.1,348.0 258.0,366.5 270.2,375.0 276.0,377.8 285.0,378.8 296.0,383.5 302.3,388.0 304.0,390.6 306.9,392.0 328.0,395.9 335.0,395.9 342.0,397.0 346.0,396.8 362.0,392.6 366.0,392.5 374.0,393.9 386.0,391.5 394.0,391.4 396.0,390.3 400.0,385.1 407.7,378.0 410.2,374.0 411.5,368.0 411.4,363.0 406.1,352.0 405.9,349.0 409.2,347.0 412.0,344.1 413.0,344.1 415.0,347.3 416.3,351.0 416.4,362.0 419.0,364.6 428.1,369.0 429.4,371.0 428.9,374.0 426.4,378.0 421.0,381.6 410.0,391.0 408.0,391.7 399.0,391.6 396.0,393.2 394.3,397.0 393.6,401.0 393.1,437.0 392.2,447.0 388.1,469.0 385.2,478.0 382.0,483.9 379.0,485.5 374.0,486.9 372.0,488.3 369.9,491.0 367.3,497.0 360.4,504.0 356.0,506.5 346.0,509.2 M464.0,367.0 459.5,366.0 456.7,364.0 456.9,361.0 459.0,358.4 462.0,357.4 471.0,358.0 480.0,355.5 482.0,353.1 482.6,354.0 477.6,361.0 475.2,363.0 469.0,366.0 464.0,367.0 M454.0,521.1 448.0,521.0 444.0,520.0 433.2,514.0 428.5,510.0 424.6,505.0 420.0,496.0 415.2,467.0 414.6,453.0 416.1,440.0 420.2,430.0 432.5,412.0 439.0,408.7 458.0,403.2 474.0,402.6 483.0,400.9 492.0,400.7 506.0,403.4 520.0,409.6 526.0,415.7 529.0,420.0 534.0,429.8 537.1,439.0 542.7,450.0 547.1,461.0 548.6,470.0 548.2,477.0 546.4,486.0 543.8,492.0 540.9,496.0 537.0,499.5 533.0,501.5 527.0,503.2 519.0,503.6 506.0,502.1 497.5,499.0 496.5,495.0 496.2,478.0 497.4,459.0 499.2,455.0 507.2,443.0 509.6,437.0 509.3,435.0 508.0,434.2 504.0,433.8 501.0,434.3 492.4,440.0 489.5,445.0 489.4,449.0 491.1,456.0 489.5,467.0 487.2,475.0 487.6,483.0 486.9,499.0 486.2,502.0 484.6,504.0 481.0,506.5 471.0,510.6 461.9,518.0 454.0,521.1 M512.0,429.0 515.0,426.7 516.6,423.0 515.7,420.0 513.0,418.5 509.3,420.0 507.5,423.0 507.6,425.0 509.0,427.8 511.0,429.2 512.0,429.0 M261.3,437.0 263.4,436.0 265.0,434.1 265.0,430.0 264.0,428.3 262.0,426.9 259.0,426.3 257.0,426.8 254.0,428.9 252.4,431.0 251.7,433.0 252.0,435.8 253.0,437.1 255.0,437.8 261.3,437.0 M403.0,143.2 399.0,143.3 395.7,142.0 391.8,139.0 388.8,135.0 387.8,130.0 390.6,121.0 390.7,118.0 386.2,107.0 385.6,101.0 387.0,92.3 389.9,86.0 398.0,80.1 404.0,78.7 409.0,79.9 413.0,82.0 416.0,84.6 417.6,88.0 418.4,94.0 417.7,98.0 414.6,105.0 408.5,113.0 406.6,117.0 406.6,121.0 410.0,129.0 410.4,133.0 407.9,139.0 405.2,142.0 403.0,143.2 M375.0,363.0 363.0,363.6 353.1,361.0 338.0,359.5 328.0,356.6 318.0,351.3 311.0,348.9 308.0,349.3 301.0,351.8 295.0,351.0 290.8,349.0 276.5,327.0 262.2,313.0 259.6,307.0 261.5,302.0 267.0,296.5 269.0,295.6 277.7,294.0 281.0,291.0 281.4,287.0 277.0,280.0 276.0,275.0 283.0,274.7 286.0,273.7 296.0,266.9 307.0,262.1 312.2,259.0 321.0,255.7 330.4,250.0 339.4,243.0 341.0,241.0 342.0,236.9 347.0,234.9 349.6,230.0 350.9,220.0 350.2,205.0 361.0,196.7 377.0,190.0 381.0,189.0 384.0,189.1 401.0,192.7 406.8,195.0 410.6,199.0 411.8,202.0 412.2,210.0 415.5,215.0 418.8,217.0 423.0,218.4 440.0,220.4 444.0,222.0 452.2,228.0 449.0,230.8 448.3,233.0 449.3,237.0 452.0,241.1 462.0,249.0 466.0,251.2 471.0,252.5 476.0,251.2 479.8,247.0 483.4,239.0 485.1,231.0 485.0,227.0 482.9,222.0 475.6,213.0 471.1,202.0 470.7,196.0 472.2,189.0 471.8,182.0 473.0,177.0 473.0,173.5 468.4,161.0 460.0,150.5 456.4,142.0 451.9,127.0 450.7,109.0 452.0,106.8 457.0,103.8 464.0,102.2 470.0,102.1 479.0,105.6 485.0,109.0 496.0,120.7 499.0,122.7 503.0,122.6 509.0,120.0 515.5,122.0 523.0,128.0 529.8,143.0 538.4,153.0 542.0,156.2 550.3,161.0 559.8,169.0 561.0,172.0 560.5,178.0 560.9,182.0 562.1,185.0 564.4,188.0 567.0,190.0 569.0,190.6 575.0,188.8 580.0,189.8 585.0,192.4 597.0,201.9 602.0,205.0 602.9,210.0 602.0,218.0 594.2,226.0 591.8,231.0 592.3,236.0 594.0,241.0 596.1,252.0 595.7,266.0 593.3,272.0 589.0,275.3 582.0,277.1 572.0,277.1 556.0,273.5 552.0,271.2 550.0,269.0 546.4,263.0 544.0,252.6 538.0,245.6 535.0,244.0 527.0,241.9 521.0,237.6 517.0,235.7 513.0,235.0 508.7,236.0 501.5,240.0 495.5,249.0 494.2,253.0 493.0,269.3 491.1,273.0 487.0,275.8 483.0,276.8 480.1,276.0 476.0,273.5 474.0,273.3 471.0,276.6 466.0,285.1 459.0,292.6 455.0,303.0 454.0,313.0 451.2,319.0 448.5,322.0 443.4,326.0 439.0,328.2 430.0,331.0 426.0,330.8 422.9,329.0 419.4,325.0 418.0,322.0 416.7,316.0 414.7,313.0 412.2,311.0 410.0,310.3 406.0,311.4 397.0,316.7 394.0,319.9 391.7,330.0 389.3,337.0 388.9,347.0 387.4,351.0 383.9,356.0 378.0,361.6 375.0,363.0 M244.3,193.0 241.9,187.0 243.1,170.0 244.0,166.4 246.9,161.0 249.0,155.3 252.0,152.0 252.1,147.0 253.0,144.2 256.0,141.9 262.0,142.8 264.0,142.5 265.8,140.0 265.0,136.9 259.6,133.0 258.2,122.0 264.0,114.0 274.0,108.6 282.0,106.0 291.0,104.5 299.0,105.0 301.7,106.0 315.0,117.0 320.1,120.0 327.4,127.0 331.3,129.0 350.5,149.0 350.3,152.0 345.2,159.0 340.9,163.0 322.0,177.6 318.7,181.0 315.0,186.6 311.0,196.9 310.0,197.9 298.0,199.5 291.0,198.7 283.0,196.4 279.0,196.2 274.0,197.3 269.5,201.0 266.0,201.6 258.0,200.6 253.0,200.9 249.0,198.9 M338.0,233.8 335.0,233.2 333.0,231.8 332.8,230.0 334.0,228.1 336.3,229.0 338.1,231.0 338.8,233.0 338.0,233.8 M552.0,373.0 547.0,371.8 543.8,368.0 542.9,363.0 544.3,353.0 543.5,350.0 542.0,348.0 532.2,343.0 511.2,335.0 508.0,332.5 505.2,322.0 505.5,315.0 509.5,302.0 511.0,299.8 513.5,298.0 520.0,295.9 529.0,295.9 542.0,300.3 546.1,303.0 546.9,309.0 545.0,328.0 545.2,332.0 552.0,342.5 554.7,351.0 560.0,357.1 561.8,362.0 561.5,366.0 559.1,370.0 556.0,372.1 552.0,373.0 M626.9,331.0 630.8,340.0 631.6,344.0 631.0,350.3 629.3,356.0 627.0,358.3 622.0,359.9 618.0,359.9 613.5,359.0 611.0,356.8 607.5,352.0 606.7,350.0 606.8,347.0 608.5,343.0 616.7,334.0 621.0,326.7 M343.0,508.1 340.0,507.8 336.0,505.8 325.0,497.0 317.0,493.6 311.0,488.4 304.5,478.0 300.2,463.0 298.0,459.9 294.6,457.0 289.0,454.8 272.0,450.7 258.0,450.5 244.0,448.9 232.0,449.5 225.0,448.7 219.5,446.0 207.9,433.0 194.0,422.8 191.0,417.0 188.0,402.2 187.6,380.0 186.9,374.0 187.5,366.0 189.1,360.0 192.0,355.5 196.0,352.1 201.0,353.5 203.0,352.0 204.5,348.0 204.9,341.0 207.5,335.0 212.0,333.1 216.0,332.6 237.0,335.5 243.0,338.4 248.4,343.0 249.7,345.0 254.2,362.0 253.0,364.6 249.0,369.0 247.8,372.0 247.8,375.0 251.0,387.2 253.0,389.8 255.0,389.8 265.7,384.0 269.0,383.4 279.0,387.8 278.8,390.0 271.8,398.0 270.5,402.0 271.0,404.2 272.9,407.0 278.0,410.3 283.0,410.8 286.1,409.0 287.4,406.0 287.8,399.0 290.6,392.0 290.6,390.0 289.0,387.6 283.1,386.0 282.3,385.0 281.7,382.0 283.0,381.5 295.6,386.0 297.5,391.0 300.2,393.0 305.0,394.5 319.0,396.4 331.0,401.4 349.0,399.7 355.0,396.4 363.0,394.6 367.0,394.8 373.0,396.6 386.0,393.5 390.0,393.6 392.0,394.4 392.6,407.0 392.2,438.0 391.4,447.0 385.6,474.0 383.0,478.5 380.0,481.1 374.0,482.6 371.0,482.0 369.3,483.0 367.8,486.0 367.1,491.0 365.1,496.0 359.0,503.2 354.0,505.7 343.0,508.1 M408.0,390.2 401.0,389.5 400.0,388.0 401.1,386.0 410.7,377.0 413.0,373.6 422.0,372.5 422.2,374.0 414.5,385.0 410.0,389.3 408.0,390.2 M373.4,416.0 375.1,413.0 374.4,408.0 374.8,403.0 374.0,400.2 372.0,399.0 367.1,403.0 366.4,406.0 367.3,410.0 368.9,413.0 371.0,415.6 373.4,416.0 M455.0,519.1 452.0,519.5 447.0,518.9 434.6,514.0 428.5,509.0 422.8,500.0 419.9,491.0 415.8,464.0 415.4,452.0 418.0,437.8 422.0,429.8 434.0,414.2 437.0,411.5 440.0,410.1 457.0,405.2 475.0,404.8 484.0,403.0 492.0,402.5 504.8,405.0 509.2,408.0 510.1,410.0 509.7,412.0 504.0,420.9 502.0,428.1 490.0,438.7 487.4,444.0 487.2,448.0 488.7,456.0 485.1,476.0 484.5,495.0 483.2,501.0 479.0,504.7 470.0,507.8 459.7,517.0 455.0,519.1 M526.0,502.1 518.0,502.5 504.0,500.3 500.2,498.0 499.2,493.0 498.2,476.0 499.9,460.0 502.2,455.0 512.0,441.6 517.0,436.0 520.0,430.5 521.8,424.0 520.0,415.5 524.0,417.2 526.0,419.1 532.0,429.2 535.9,440.0 545.3,459.0 547.5,469.0 547.1,477.0 545.7,484.0 542.3,492.0 539.0,496.0 535.2,499.0 530.0,501.3 526.0,502.1 M260.0,440.0 264.0,438.7 267.0,436.6 268.4,434.0 268.6,430.0 267.8,426.0 266.0,423.2 262.0,420.8 258.0,420.0 255.0,420.9 252.9,423.0 249.0,431.0 248.2,437.0 249.0,439.3 251.0,440.5 255.0,440.8 260.0,440.0 M403.0,141.4 400.0,142.0 396.0,140.9 392.3,138.0 389.8,134.0 389.6,129.0 393.0,121.0 393.5,118.0 388.4,107.0 387.5,100.0 390.5,90.0 394.6,84.0 400.0,81.0 405.0,80.2 408.2,81.0 413.3,84.0 415.5,88.0 416.2,93.0 415.5,97.0 412.5,104.0 406.0,112.0 404.0,116.0 404.1,121.0 408.4,129.0 409.0,133.0 407.0,137.9 403.0,141.4 M577.0,276.0 572.0,276.0 563.0,274.2 558.0,272.7 554.0,270.7 552.0,268.8 548.9,264.0 546.0,251.0 539.0,243.0 537.0,242.1 530.4,241.0 521.0,235.2 514.0,233.0 510.0,233.1 503.0,234.7 500.4,236.0 498.4,238.0 490.3,253.0 489.4,256.0 489.4,264.0 488.0,267.2 486.0,268.6 484.0,268.5 479.8,265.0 476.8,260.0 476.7,258.0 481.8,252.0 485.0,244.0 489.2,237.0 489.5,235.0 487.8,231.0 487.2,226.0 486.1,223.0 483.9,220.0 477.0,213.3 473.1,204.0 472.5,198.0 474.1,185.0 476.5,177.0 476.3,174.0 473.4,166.0 471.0,154.7 469.6,153.0 465.0,150.5 462.0,147.8 457.4,140.0 454.4,132.0 452.9,126.0 451.8,111.0 452.1,109.0 454.0,106.8 457.3,105.0 462.0,103.6 470.0,103.2 482.8,109.0 488.5,115.0 495.0,123.4 498.0,126.1 503.0,126.5 513.0,123.8 516.3,125.0 520.0,128.8 527.7,144.0 534.7,153.0 539.2,157.0 547.6,162.0 555.0,169.0 556.6,172.0 559.0,185.0 560.4,188.0 563.0,191.0 565.7,193.0 568.0,193.7 571.0,193.3 575.2,191.0 580.0,191.5 588.0,195.4 601.0,205.5 601.9,210.0 600.6,218.0 591.1,227.0 589.3,230.0 590.2,236.0 594.0,244.2 595.4,250.0 595.4,259.0 594.4,266.0 592.4,271.0 590.0,273.5 584.0,275.8 577.0,276.0 M245.7,194.0 243.2,188.0 245.0,172.9 248.0,169.3 250.0,168.5 253.0,168.9 253.9,168.0 254.7,163.0 259.0,158.3 262.7,151.0 269.0,146.1 274.0,139.0 273.6,137.0 271.7,135.0 262.0,130.4 259.9,121.0 264.9,114.0 273.0,109.5 282.0,106.5 292.0,105.1 298.0,106.2 302.6,108.0 311.5,115.0 317.0,121.9 325.1,129.0 327.0,132.8 335.0,137.9 343.2,145.0 346.2,149.0 346.9,153.0 343.9,158.0 340.0,162.1 328.0,171.6 318.0,178.2 314.4,183.0 309.0,192.9 306.6,195.0 300.0,197.1 294.0,197.2 283.0,194.0 270.0,192.1 267.9,193.0 265.0,199.1 251.0,199.1 249.0,198.0 M374.0,361.2 371.0,361.3 358.0,359.0 338.0,356.8 330.0,354.0 325.7,351.0 323.6,347.0 325.2,343.0 326.9,341.0 337.9,333.0 340.0,330.0 339.9,328.0 338.8,326.0 335.0,323.7 321.0,325.1 312.0,329.5 306.0,330.6 303.2,333.0 302.3,335.0 304.6,342.0 304.0,345.1 301.0,347.2 293.0,347.2 291.0,345.2 291.0,344.3 293.9,340.0 294.5,337.0 292.0,332.0 288.0,329.1 278.0,324.9 270.0,319.0 264.2,313.0 262.3,309.0 264.1,304.0 268.0,300.4 271.0,299.6 280.0,299.2 284.0,297.6 285.1,295.0 284.7,280.0 286.0,278.0 294.2,271.0 299.0,268.3 309.0,265.0 314.0,261.7 321.7,259.0 337.0,248.9 346.0,245.8 349.0,243.8 352.6,238.0 353.8,226.0 356.0,219.4 356.8,212.0 354.6,204.0 358.3,200.0 362.0,197.5 378.0,191.5 382.0,190.8 391.0,193.4 400.0,194.0 405.0,195.7 407.0,197.3 408.6,200.0 408.7,209.0 410.7,214.0 413.0,216.6 419.0,219.9 436.6,224.0 440.8,226.0 441.2,228.0 440.7,232.0 442.0,235.0 450.0,243.9 458.0,249.9 465.7,258.0 466.6,261.0 467.1,273.0 463.4,282.0 455.1,294.0 451.9,310.0 450.2,314.0 448.0,316.9 438.0,325.9 432.0,327.4 429.0,327.1 426.5,326.0 424.2,322.0 423.2,314.0 412.0,306.5 410.0,306.3 407.0,307.4 393.9,316.0 391.6,319.0 390.5,322.0 386.9,337.0 385.2,351.0 381.6,356.0 377.0,359.9 374.0,361.2 M393.5,204.0 393.4,202.0 392.0,200.8 391.2,203.0 392.0,204.3 393.5,204.0 M555.0,371.3 552.0,371.9 549.0,371.5 546.4,370.0 544.8,368.0 543.9,363.0 545.8,352.0 544.6,348.0 543.0,346.0 535.0,342.3 524.0,339.1 514.2,335.0 510.5,333.0 509.0,331.4 506.7,322.0 506.9,315.0 510.9,302.0 514.0,299.1 520.0,297.1 528.0,297.1 542.0,302.0 544.1,304.0 545.0,306.2 545.4,310.0 542.8,330.0 543.1,334.0 545.0,337.5 549.3,342.0 552.5,350.0 559.3,358.0 560.7,362.0 560.6,365.0 559.3,368.0 555.0,371.3 M345.0,506.2 341.0,506.3 338.0,505.2 332.5,501.0 325.0,493.3 315.0,490.3 312.0,488.2 310.0,486.0 305.6,477.0 301.2,462.0 298.0,457.4 295.0,455.3 272.0,449.6 256.0,448.6 250.8,447.0 248.0,445.2 234.0,448.0 228.0,448.0 225.0,447.3 219.5,444.0 209.0,431.4 198.6,424.0 195.5,421.0 193.1,416.0 189.0,398.0 188.1,374.0 188.7,367.0 191.0,360.5 195.0,356.4 197.0,356.7 199.0,358.3 202.7,364.0 204.0,373.0 203.9,381.0 200.8,401.0 204.0,410.9 206.0,412.4 212.0,407.0 215.4,402.0 215.7,400.0 210.5,397.0 209.6,395.0 210.0,394.0 214.6,391.0 217.2,383.0 216.4,379.0 211.3,372.0 207.1,356.0 207.1,352.0 209.3,340.0 210.0,337.0 211.0,336.2 215.0,334.6 220.0,334.1 237.0,336.1 242.9,339.0 247.2,343.0 248.9,347.0 252.0,359.0 251.0,362.0 245.5,369.0 243.8,374.0 243.9,377.0 245.3,382.0 246.0,392.0 247.3,394.0 250.0,396.0 256.0,399.1 262.0,400.8 271.6,412.0 271.7,414.0 271.0,414.7 264.0,415.1 256.0,416.6 252.5,418.0 250.3,420.0 244.8,437.0 244.9,441.0 247.0,443.3 252.0,443.4 261.0,441.8 266.0,440.0 268.9,438.0 271.1,434.0 271.8,424.0 273.5,419.0 275.0,417.7 283.0,415.2 287.9,412.0 289.9,409.0 293.0,399.8 296.0,397.1 311.0,397.3 316.0,398.1 321.2,400.0 328.0,405.3 331.0,406.2 341.0,403.2 356.0,402.8 359.4,405.0 369.0,418.1 372.0,420.0 375.0,419.0 377.6,415.0 378.2,405.0 380.5,397.0 387.0,395.3 390.0,396.3 391.3,406.0 391.3,438.0 390.3,447.0 383.3,472.0 381.0,474.6 377.0,476.4 375.0,474.9 372.0,475.4 366.0,480.2 363.5,484.0 362.6,487.0 363.1,495.0 358.1,502.0 354.0,504.3 345.0,506.2 M625.0,357.1 620.0,357.8 618.0,357.1 614.0,354.4 611.2,351.0 610.2,349.0 610.2,347.0 611.6,344.0 614.0,341.5 616.0,340.5 622.0,339.9 626.0,338.5 627.0,338.3 628.0,339.3 629.5,345.0 629.1,351.0 627.7,355.0 625.0,357.1 M320.0,344.3 317.9,344.0 316.9,343.0 316.4,341.0 319.0,341.0 320.4,342.0 320.7,343.0 320.0,344.3 M408.0,388.4 405.0,388.4 403.3,387.0 405.6,384.0 411.0,380.3 412.3,382.0 411.9,384.0 410.1,387.0 408.0,388.4 M220.0,393.5 218.6,394.0 217.4,396.0 217.1,398.0 217.8,399.0 219.0,399.2 M456.0,517.1 453.0,517.7 449.0,517.3 434.0,511.9 429.0,508.1 424.5,501.0 421.2,492.0 416.8,465.0 416.2,452.0 418.3,440.0 421.6,433.0 425.5,427.0 435.0,416.1 439.0,413.3 448.0,411.1 457.0,407.7 479.0,406.6 492.0,404.3 496.7,405.0 500.3,407.0 501.9,409.0 502.4,415.0 501.1,419.0 494.7,431.0 488.0,437.3 485.6,442.0 485.3,447.0 486.8,456.0 482.9,478.0 482.5,493.0 481.5,498.0 480.0,500.5 478.0,502.1 469.0,505.0 456.0,517.1 M525.0,501.1 515.0,501.1 506.0,499.5 503.1,498.0 501.4,492.0 499.8,476.0 501.6,462.0 503.6,457.0 514.0,444.4 523.2,436.0 527.0,428.2 528.0,427.7 530.5,431.0 533.7,440.0 540.0,450.1 544.3,459.0 545.6,463.0 546.5,472.0 544.3,485.0 540.8,492.0 534.0,498.2 529.0,500.3 525.0,501.1 M399.0,115.4 396.0,114.5 391.6,109.0 389.8,104.0 389.8,98.0 393.0,90.0 397.0,84.8 401.0,82.4 406.0,81.9 410.5,84.0 412.0,86.0 413.8,90.0 413.7,95.0 409.6,105.0 402.0,113.4 399.0,115.4 M576.0,275.0 572.0,274.9 559.0,271.5 555.0,269.3 552.1,266.0 550.7,259.0 552.1,245.0 548.9,237.0 546.9,228.0 547.0,226.0 548.0,225.2 556.0,225.3 558.0,225.9 563.9,231.0 567.0,232.3 577.0,232.6 579.9,232.0 581.0,231.0 580.7,230.0 576.0,227.4 570.0,222.8 564.0,220.0 561.0,220.3 557.0,222.3 552.0,221.3 547.0,222.3 543.0,220.6 541.0,220.5 540.0,221.0 539.0,222.9 538.4,230.0 534.0,234.2 531.0,235.8 513.0,231.0 503.0,231.5 495.0,233.8 490.0,228.0 488.0,222.3 486.0,219.1 478.2,212.0 475.0,205.0 474.2,201.0 475.2,191.0 479.7,176.0 476.5,165.0 475.1,151.0 474.0,148.6 472.0,146.6 465.0,144.0 462.0,141.8 459.0,137.7 456.0,131.8 453.8,125.0 453.0,112.0 453.2,110.0 455.0,107.7 460.0,105.2 466.0,104.0 470.0,104.3 476.0,106.7 480.2,109.0 483.5,112.0 494.0,126.3 497.0,129.2 500.0,130.2 514.0,132.1 517.0,133.6 521.0,137.7 526.0,146.4 533.3,155.0 537.0,158.2 545.5,163.0 551.3,169.0 553.8,174.0 558.0,189.0 560.0,192.2 563.0,195.2 565.0,196.5 568.0,196.8 576.0,192.8 580.0,193.1 589.0,197.0 600.0,206.0 600.9,210.0 599.8,217.0 594.0,222.6 587.0,227.5 585.6,230.0 586.1,233.0 592.0,243.6 594.9,251.0 594.8,258.0 592.6,267.0 590.9,271.0 588.0,273.3 584.0,274.7 576.0,275.0 M297.0,195.1 290.0,194.4 277.0,189.6 264.8,182.0 262.7,179.0 260.2,167.0 260.8,164.0 265.0,155.2 273.3,149.0 278.0,142.9 279.2,139.0 278.2,135.0 275.0,131.4 272.1,130.0 263.7,128.0 262.5,124.0 261.9,119.0 265.0,114.6 272.0,110.5 280.0,107.5 288.0,106.0 293.0,106.4 298.6,108.0 307.1,114.0 309.8,117.0 312.5,122.0 319.3,128.0 317.4,134.0 317.7,135.0 334.0,142.0 340.0,148.0 342.6,155.0 340.8,159.0 338.1,162.0 326.0,170.8 321.0,172.2 318.0,174.2 314.2,179.0 309.0,188.4 306.0,192.2 302.0,194.1 297.0,195.1 M402.0,140.1 399.0,140.3 395.5,139.0 392.5,136.0 391.1,133.0 391.1,130.0 392.7,126.0 395.0,123.0 398.0,120.8 400.0,121.1 402.0,122.7 406.0,127.7 407.5,131.0 407.4,134.0 406.6,136.0 405.0,138.1 402.0,140.1 M310.2,147.0 312.1,145.0 315.7,135.0 311.5,132.0 307.0,129.9 304.0,129.2 301.0,129.9 299.1,132.0 298.4,134.0 297.7,139.0 298.1,141.0 306.3,147.0 308.0,147.5 310.2,147.0 M246.8,194.0 246.0,192.7 244.7,186.0 245.3,181.0 247.0,177.9 250.0,177.7 253.0,178.5 260.3,184.0 261.6,187.0 261.8,190.0 260.0,196.5 252.0,197.1 248.0,195.6 M376.0,356.1 350.0,356.2 338.0,354.2 331.5,351.0 329.9,348.0 331.1,344.0 337.0,337.7 343.3,333.0 344.6,331.0 344.5,328.0 343.1,325.0 339.0,321.7 333.0,320.4 321.0,321.5 313.0,324.3 306.0,325.4 300.0,328.3 297.0,328.9 294.0,327.9 283.0,321.3 272.0,317.9 267.6,314.0 266.1,310.0 267.0,306.8 270.0,304.2 284.0,302.2 287.7,300.0 288.9,297.0 288.0,290.0 290.0,283.6 292.9,278.0 298.0,272.3 302.0,270.3 311.0,268.0 317.0,264.3 326.7,260.0 338.0,251.4 348.0,248.7 353.2,245.0 355.7,242.0 357.1,239.0 357.1,228.0 359.4,222.0 360.9,213.0 360.6,209.0 358.8,204.0 359.0,202.0 361.0,200.0 365.0,198.0 379.0,195.0 382.0,195.8 383.4,197.0 384.6,199.0 386.8,207.0 389.9,210.0 396.0,212.3 403.0,213.4 408.1,218.0 417.0,222.0 429.5,226.0 432.9,228.0 435.2,234.0 437.2,237.0 444.0,241.7 455.0,251.0 460.6,257.0 462.2,261.0 462.9,272.0 460.8,279.0 452.8,293.0 450.0,305.9 448.4,310.0 446.0,312.7 439.7,315.0 436.3,321.0 435.0,322.0 432.0,321.8 430.6,320.0 430.5,316.0 432.3,311.0 432.3,308.0 430.3,305.0 427.0,303.6 420.0,303.7 414.0,301.6 411.0,301.9 391.6,315.0 389.3,318.0 387.4,323.0 382.7,345.0 381.9,352.0 380.0,354.3 376.0,356.1 M534.0,339.2 528.0,338.8 520.0,336.3 512.2,332.0 509.8,329.0 508.0,322.0 508.4,314.0 511.9,303.0 515.0,299.9 521.0,298.2 528.0,298.5 539.0,303.1 542.4,306.0 543.3,310.0 543.0,318.0 539.7,335.0 538.0,337.6 534.0,339.2 M224.8,387.0 219.6,377.0 214.0,370.1 210.1,354.0 213.0,338.3 217.0,336.2 223.0,335.1 230.0,335.4 238.0,336.8 243.2,340.0 246.7,345.0 249.8,355.0 250.2,358.0 248.7,361.0 243.5,368.0 240.6,374.0 240.7,383.0 239.8,391.0 241.5,394.0 244.0,396.6 258.0,405.3 261.3,409.0 261.3,410.0 259.4,412.0 250.0,416.0 246.9,419.0 241.7,437.0 240.3,444.0 232.0,446.6 227.0,446.4 223.0,444.9 220.0,442.3 217.5,439.0 215.9,436.0 215.5,431.0 214.3,429.0 210.0,426.1 204.0,425.0 199.9,422.0 196.7,417.0 196.7,413.0 198.0,411.4 203.0,419.5 205.0,420.5 207.0,420.3 210.0,417.9 215.0,411.6 222.0,409.0 M621.0,352.1 618.0,351.5 615.8,350.0 614.6,348.0 615.0,345.6 618.0,345.0 622.0,347.0 623.5,350.0 623.0,351.3 621.0,352.1 M555.0,370.0 552.0,370.7 549.0,370.3 547.0,369.0 545.2,366.0 545.3,361.0 547.7,351.0 549.0,349.5 557.0,357.0 559.4,361.0 559.7,364.0 559.0,366.3 557.0,368.9 555.0,370.0 M196.0,404.6 193.0,402.4 190.7,397.0 190.1,392.0 190.3,380.0 189.6,374.0 191.0,365.0 195.0,359.6 197.2,361.0 199.1,364.0 200.7,373.0 199.5,389.0 196.0,404.6 M346.0,504.2 341.0,504.5 336.4,502.0 330.1,495.0 328.0,490.1 327.0,489.2 324.0,489.2 316.0,487.5 312.0,485.3 306.6,475.0 302.2,460.0 299.0,454.8 297.0,452.9 295.0,452.1 288.0,452.1 267.0,447.7 262.1,446.0 261.5,445.0 271.9,438.0 273.7,435.0 275.0,427.0 276.2,424.0 279.0,421.4 285.5,418.0 289.0,414.7 291.8,411.0 295.0,404.0 298.0,401.4 308.0,399.7 313.2,400.0 318.5,402.0 326.0,408.0 330.0,409.6 334.0,409.0 343.0,405.8 348.0,405.5 353.0,406.3 358.0,408.8 369.0,421.9 372.0,423.0 376.0,421.2 379.0,417.3 380.1,414.0 381.0,405.7 383.0,401.2 386.0,398.7 388.1,399.0 390.0,407.0 390.4,437.0 389.4,446.0 386.0,456.6 380.0,466.2 378.0,466.9 370.0,472.7 361.1,482.0 359.0,488.0 359.5,497.0 357.0,500.9 353.0,503.1 346.0,504.2 M455.0,515.3 453.0,516.0 450.0,515.6 444.0,512.9 434.0,509.8 429.0,505.8 424.3,498.0 422.4,493.0 420.1,482.0 417.5,464.0 417.1,452.0 419.4,440.0 426.7,427.0 434.0,419.0 439.0,415.5 464.0,410.0 471.0,411.8 485.0,412.8 488.0,411.8 491.0,408.9 494.0,408.7 495.8,410.0 496.9,412.0 497.2,417.0 493.0,423.0 491.2,430.0 485.4,436.0 483.1,441.0 483.2,446.0 485.2,456.0 483.1,469.0 479.9,482.0 480.3,491.0 479.8,495.0 477.0,498.8 469.0,500.9 467.0,502.1 455.0,515.3 M524.0,500.1 514.0,499.8 508.0,498.4 505.5,497.0 503.1,490.0 501.3,476.0 503.6,462.0 506.1,457.0 515.0,448.5 524.0,442.6 527.0,441.9 535.0,446.1 539.0,450.9 544.3,462.0 545.5,472.0 543.4,484.0 540.0,491.1 537.0,494.3 533.0,497.3 529.0,499.1 524.0,500.1 M399.0,111.1 396.0,110.4 393.0,107.0 391.5,102.0 391.7,98.0 394.2,92.0 398.0,87.2 402.0,84.8 406.0,84.4 409.0,86.6 411.0,89.7 411.7,92.0 411.5,95.0 408.0,104.0 402.0,109.9 399.0,111.1 M529.0,231.1 525.0,231.3 514.0,229.1 497.0,228.6 491.0,224.0 487.0,217.3 479.0,209.7 476.4,204.0 475.9,200.0 478.0,188.0 482.6,177.0 482.6,164.0 479.5,158.0 478.2,149.0 476.8,146.0 472.6,142.0 465.0,138.5 462.0,136.4 456.0,127.4 455.1,124.0 454.4,112.0 455.0,109.9 458.0,107.4 462.0,105.7 467.0,105.1 471.0,106.0 476.0,108.3 482.1,113.0 489.4,125.0 495.0,131.2 498.0,133.0 508.0,136.9 515.0,137.9 518.0,139.5 524.9,150.0 535.0,159.4 544.0,164.5 548.3,169.0 553.2,179.0 555.4,188.0 558.0,195.1 561.9,203.0 563.0,204.0 565.0,203.5 571.3,198.0 576.0,194.9 579.0,194.4 585.0,196.1 589.0,198.1 598.4,206.0 599.7,208.0 599.6,213.0 598.4,217.0 592.0,222.4 585.0,226.0 577.0,223.5 567.9,218.0 562.0,213.5 560.0,213.8 556.2,216.0 554.0,216.2 546.0,215.7 537.0,212.4 535.0,212.4 534.2,214.0 532.2,228.0 530.9,230.0 529.0,231.1 M300.0,192.2 294.0,192.9 290.0,192.3 277.6,186.0 268.7,178.0 264.7,169.0 264.6,166.0 267.3,158.0 279.4,147.0 284.3,139.0 285.4,135.0 283.9,133.0 275.5,128.0 266.0,126.0 264.4,122.0 264.2,117.0 265.5,115.0 269.0,112.6 274.3,110.0 281.0,107.7 287.0,107.1 294.0,108.2 298.6,110.0 302.7,114.0 307.6,122.0 307.0,122.9 301.0,124.7 296.0,129.0 291.1,138.0 290.9,141.0 291.9,143.0 294.2,145.0 300.0,147.2 308.0,151.7 315.0,153.7 317.7,157.0 316.5,169.0 315.0,173.0 306.6,188.0 304.0,190.6 300.0,192.2 M402.0,138.4 400.0,138.8 397.0,138.2 395.0,136.8 393.0,134.0 392.6,132.0 393.1,129.0 395.0,126.2 397.0,124.9 401.0,125.0 404.0,127.6 405.6,130.0 406.2,133.0 405.6,135.0 402.0,138.4 M335.0,160.4 332.2,160.0 331.0,155.0 328.0,151.8 324.2,150.0 319.0,149.3 318.9,148.0 321.0,145.3 323.0,144.1 325.0,144.0 328.0,144.4 330.0,145.5 336.0,157.2 336.3,159.0 335.0,160.4 M255.0,195.1 251.0,194.0 248.2,191.0 246.5,185.0 246.8,183.0 248.0,181.4 253.0,183.4 257.5,188.0 258.1,191.0 257.5,194.0 255.0,195.1 M356.0,353.1 350.0,353.7 340.0,352.1 336.0,350.2 334.3,348.0 334.7,345.0 337.5,341.0 340.7,338.0 346.0,334.8 348.3,332.0 348.7,330.0 348.1,327.0 346.0,323.0 344.0,321.0 335.0,318.4 322.0,318.9 309.0,320.9 299.0,323.9 296.0,323.8 291.0,321.9 284.0,317.6 277.0,315.2 274.6,313.0 273.7,310.0 275.0,308.0 276.8,307.0 286.0,305.5 290.0,302.3 292.0,298.0 291.3,290.0 298.0,278.7 301.0,275.3 321.0,266.4 331.0,263.3 333.0,261.6 335.7,257.0 338.0,254.6 341.0,253.1 351.0,250.4 357.6,245.0 360.3,240.0 361.2,229.0 365.0,214.0 364.5,203.0 366.4,201.0 368.8,200.0 376.0,199.4 379.0,200.3 380.7,202.0 383.7,210.0 386.3,213.0 392.0,215.0 399.0,219.1 422.0,226.6 426.1,229.0 436.0,240.4 444.0,244.9 456.1,256.0 458.8,261.0 459.7,272.0 458.2,277.0 450.3,293.0 448.0,303.0 445.0,306.7 442.0,307.4 439.0,306.6 430.0,300.6 421.0,299.1 414.0,297.0 411.0,297.7 400.0,306.8 392.0,311.8 386.9,317.0 384.1,323.0 380.9,340.0 378.6,347.0 377.0,349.7 374.0,350.6 365.0,350.4 356.0,353.1 M586.0,273.0 582.0,273.8 572.0,273.7 561.7,271.0 558.0,269.3 555.2,267.0 553.6,261.0 553.5,255.0 556.5,244.0 556.7,237.0 558.0,234.6 561.0,234.1 576.0,236.1 584.0,235.7 585.0,235.9 586.0,237.2 592.9,249.0 593.8,255.0 593.1,260.0 590.6,269.0 589.0,271.3 586.0,273.0 M529.0,337.1 523.0,336.0 515.3,332.0 512.0,329.1 509.8,325.0 509.4,316.0 510.9,309.0 514.0,302.3 518.3,300.0 522.0,299.4 528.1,300.0 539.0,305.8 541.0,308.8 541.2,320.0 538.6,330.0 537.0,332.8 534.6,335.0 532.0,336.5 529.0,337.1 M229.0,385.2 221.8,375.0 216.5,369.0 213.0,353.0 215.0,339.8 219.9,337.0 229.0,335.8 236.8,337.0 241.6,340.0 245.9,346.0 248.5,355.0 246.9,360.0 236.5,374.0 235.4,381.0 233.4,386.0 M554.0,369.2 551.0,369.5 549.0,369.0 547.0,367.2 546.2,365.0 546.3,362.0 548.0,355.9 549.0,353.6 550.0,353.1 556.0,357.6 558.3,361.0 558.5,364.0 557.9,366.0 556.3,368.0 554.0,369.2 M195.0,394.5 193.7,394.0 192.8,392.0 192.7,380.0 191.6,373.0 192.5,367.0 195.0,363.5 197.3,367.0 198.0,372.0 197.0,389.0 196.0,394.0 195.0,394.5 M240.0,397.4 254.3,407.0 255.6,409.0 254.0,410.8 246.0,414.7 241.8,419.0 240.3,423.0 239.4,432.0 236.4,443.0 233.0,444.6 229.0,445.0 226.0,444.5 220.7,441.0 219.6,438.0 221.2,434.0 221.3,431.0 219.9,428.0 215.0,422.0 215.1,419.0 217.0,416.0 219.0,414.7 225.1,413.0 M352.0,501.1 343.0,500.8 341.2,500.0 338.4,490.0 330.0,483.8 326.0,483.2 320.0,485.4 315.0,483.9 312.0,481.3 306.9,471.0 303.7,459.0 300.0,452.0 295.6,446.0 297.8,441.0 298.1,438.0 297.0,434.2 295.0,430.8 293.0,430.1 290.2,431.0 287.9,433.0 287.2,435.0 288.0,440.0 294.4,446.0 290.4,450.0 285.0,450.3 270.0,446.5 267.3,445.0 268.3,443.0 273.3,440.0 276.6,437.0 278.5,434.0 279.9,427.0 281.0,425.0 289.7,420.0 296.5,408.0 299.0,405.5 308.0,402.5 312.0,402.6 316.0,404.4 325.0,411.0 330.0,412.6 336.0,411.6 345.0,408.2 351.0,408.6 357.8,412.0 364.0,418.7 368.0,424.5 372.0,426.0 376.0,424.1 379.8,420.0 381.5,417.0 383.4,409.0 385.0,406.3 387.0,405.6 388.0,407.0 389.6,427.0 389.5,437.0 388.2,446.0 386.0,452.0 382.5,458.0 377.0,459.9 372.6,467.0 357.5,482.0 355.8,486.0 355.1,499.0 354.6,500.0 352.0,501.1 M453.0,512.4 450.0,512.7 436.0,508.9 432.0,506.8 428.0,502.5 424.9,497.0 423.2,492.0 418.4,465.0 418.0,451.0 419.8,442.0 421.4,438.0 426.0,429.8 433.5,421.0 438.0,417.6 444.0,415.9 458.0,419.4 466.0,418.3 472.0,419.0 474.0,420.0 473.4,426.0 473.9,428.0 476.0,430.1 480.0,431.5 481.0,433.0 479.5,441.0 483.6,455.0 481.4,469.0 476.5,483.0 476.8,493.0 475.0,495.1 468.0,496.2 466.0,497.3 455.0,510.9 453.0,512.4 M523.0,499.1 515.9,499.0 509.1,497.0 508.0,495.9 506.0,492.5 504.2,487.0 503.0,480.0 502.9,475.0 505.2,463.0 508.0,457.9 516.0,451.7 524.0,447.9 528.0,447.3 532.0,448.4 537.0,451.3 540.0,455.1 543.5,463.0 544.4,474.0 542.0,485.0 538.6,491.0 532.0,496.4 523.0,499.1 M399.0,108.0 396.0,106.8 394.2,104.0 393.5,100.0 394.0,97.0 396.0,93.0 399.0,89.9 402.0,88.4 405.0,88.4 407.3,90.0 409.0,92.9 408.2,99.0 407.0,102.1 404.7,105.0 402.0,107.2 399.0,108.0 M526.0,227.5 523.0,228.0 505.0,227.1 498.0,225.2 492.0,221.4 487.0,215.2 481.4,210.0 479.5,207.0 477.8,203.0 477.3,199.0 480.0,187.8 487.0,175.0 489.0,173.2 493.0,171.8 494.3,170.0 493.9,169.0 490.0,167.4 488.1,165.0 486.1,160.0 482.9,155.0 481.1,146.0 478.0,138.8 476.0,137.5 464.0,133.7 461.0,131.2 457.8,127.0 456.6,123.0 456.5,113.0 457.6,110.0 460.2,108.0 464.0,106.6 468.0,106.6 478.0,111.6 482.4,117.0 485.0,126.2 487.0,130.3 492.0,132.9 497.0,137.9 504.0,142.1 507.0,142.8 513.0,142.3 516.0,143.5 522.3,152.0 535.0,162.1 543.6,167.0 549.2,175.0 551.9,181.0 554.7,193.0 555.8,201.0 555.0,205.7 550.8,211.0 548.0,212.3 544.0,211.5 534.0,205.9 531.0,205.9 529.7,209.0 529.6,217.0 528.5,224.0 527.7,226.0 526.0,227.5 M291.0,128.3 282.0,127.7 274.1,125.0 268.0,123.8 266.3,120.0 266.7,116.0 268.2,114.0 273.3,111.0 281.0,108.6 290.0,108.9 297.0,111.3 299.8,114.0 302.0,118.0 300.9,120.0 296.0,125.0 291.0,128.3 M396.0,135.5 394.3,132.0 394.7,130.0 396.2,128.0 400.0,127.0 402.0,127.9 403.9,130.0 M299.0,190.0 295.0,190.8 291.0,190.6 280.4,185.0 273.3,179.0 268.5,171.0 268.2,166.0 271.0,158.0 286.0,144.4 289.0,144.6 303.4,152.0 309.7,158.0 312.7,164.0 312.7,171.0 307.9,182.0 303.4,188.0 299.0,190.0 M254.0,191.0 252.0,190.6 251.0,189.6 250.4,188.0 251.0,186.6 253.7,189.0 254.0,191.0 M587.0,223.4 583.0,223.1 577.0,220.7 570.0,216.4 567.6,213.0 567.4,209.0 569.9,203.0 573.1,199.0 578.0,195.9 583.0,196.6 588.0,198.6 594.0,203.3 598.5,208.0 598.9,211.0 597.5,216.0 593.0,220.1 587.0,223.4 M373.0,342.0 370.0,341.2 365.0,334.8 357.0,331.5 352.0,325.9 348.1,320.0 346.0,318.6 333.0,316.4 309.0,317.4 301.0,319.5 296.0,319.6 292.0,318.6 289.4,317.0 286.5,314.0 286.0,312.0 293.4,302.0 294.8,298.0 295.1,291.0 300.0,282.7 303.0,279.3 316.0,272.0 332.7,267.0 336.0,264.0 340.1,257.0 352.0,252.7 360.7,246.0 362.4,243.0 364.1,233.0 370.6,214.0 371.0,211.0 370.2,206.0 371.0,204.6 373.0,203.7 375.0,204.0 376.2,205.0 378.1,211.0 382.6,216.0 391.0,218.6 397.0,222.3 406.0,225.1 412.0,226.2 416.4,228.0 429.0,236.7 434.9,243.0 444.0,247.9 453.9,258.0 455.6,262.0 457.1,270.0 456.0,274.4 445.3,299.0 444.0,300.8 441.0,301.3 434.0,298.2 423.0,296.7 415.0,294.0 413.0,293.9 410.1,295.0 400.0,303.9 387.2,313.0 383.3,317.0 380.0,323.0 376.5,339.0 375.0,341.2 373.0,342.0 M585.0,272.1 582.0,272.7 572.0,272.5 563.1,270.0 558.3,267.0 556.1,260.0 556.0,254.0 558.4,247.0 563.1,239.0 568.0,238.0 583.0,238.5 585.0,239.0 587.0,241.4 591.7,250.0 592.5,256.0 589.2,269.0 587.4,271.0 585.0,272.1 M531.0,334.1 526.0,334.9 520.0,333.0 514.2,329.0 511.1,324.0 510.5,320.0 511.4,311.0 514.8,304.0 517.6,302.0 523.0,300.9 527.0,301.9 536.7,307.0 539.0,309.8 539.8,318.0 538.2,326.0 536.0,330.3 531.0,334.1 M353.0,350.1 349.0,350.5 342.0,349.4 339.6,348.0 339.0,346.0 340.1,343.0 342.9,340.0 352.0,335.4 355.0,334.8 356.0,335.3 356.8,337.0 357.8,345.0 356.6,348.0 353.0,350.1 M229.0,374.4 226.0,374.7 219.0,368.0 215.5,354.0 215.2,350.0 217.0,340.7 221.5,338.0 229.0,336.6 236.0,337.7 240.9,341.0 245.0,347.0 246.9,354.0 245.7,358.0 242.0,363.2 229.0,374.4 M553.0,368.2 550.0,368.0 548.5,367.0 547.5,365.0 547.5,362.0 548.6,358.0 550.0,355.8 551.0,355.6 555.0,358.3 557.3,362.0 556.5,366.0 553.0,368.2 M240.0,401.2 244.1,405.0 244.9,407.0 243.8,409.0 241.0,411.5 236.0,412.9 M347.0,481.0 345.0,481.9 327.0,478.0 323.0,478.5 317.0,481.3 316.0,481.2 313.0,478.3 310.0,473.8 308.2,470.0 306.4,461.0 300.8,448.0 301.7,435.0 299.3,425.0 296.1,419.0 296.5,417.0 299.3,412.0 302.0,409.4 308.0,406.7 311.0,406.4 315.0,408.0 325.0,414.2 329.0,415.4 336.0,414.4 346.0,410.6 351.0,411.0 357.0,414.2 362.4,420.0 367.0,426.8 372.0,429.3 374.0,429.2 376.0,427.8 386.0,416.9 388.4,426.0 388.4,437.0 386.8,446.0 384.0,452.3 382.0,454.7 378.0,454.6 376.0,455.9 370.2,466.0 360.0,475.6 355.0,478.5 349.5,479.0 347.0,481.0 M231.0,442.2 227.0,442.8 225.0,441.9 223.5,440.0 226.0,436.0 226.5,432.0 222.6,423.0 223.0,421.0 224.0,419.9 230.0,417.9 232.0,418.1 233.0,419.0 233.5,421.0 233.2,432.0 231.0,442.2 M450.0,508.1 442.0,508.6 438.0,508.0 432.0,504.9 428.0,500.6 425.5,496.0 423.8,491.0 421.6,481.0 419.1,464.0 418.9,451.0 422.0,439.0 425.0,433.4 433.0,423.5 437.0,420.1 442.0,418.4 448.0,419.9 458.4,427.0 469.0,431.8 472.4,436.0 481.8,455.0 480.0,468.0 475.0,478.8 472.0,482.9 466.0,488.1 454.8,505.0 452.0,507.5 450.0,508.1 M286.0,448.4 282.0,448.3 276.0,446.8 272.2,445.0 272.3,444.0 272.9,443.0 278.0,440.6 282.0,440.5 284.9,443.0 287.0,446.0 286.8,448.0 286.0,448.4 M526.0,497.2 521.0,497.8 516.0,497.3 514.0,496.7 510.0,493.8 506.0,487.2 504.2,477.0 506.8,464.0 509.9,459.0 517.0,454.2 524.0,451.3 528.0,450.7 531.0,451.4 537.0,454.6 540.0,457.7 542.5,463.0 543.6,472.0 541.5,483.0 539.0,488.6 537.0,491.0 533.0,494.0 526.0,497.2 M402.0,104.4 400.0,104.9 397.6,104.0 396.2,102.0 395.9,99.0 398.0,94.4 400.0,92.9 403.0,92.4 405.7,94.0 406.4,97.0 405.0,101.4 402.0,104.4 M472.0,131.1 468.0,131.6 465.0,130.8 461.2,128.0 459.0,124.8 458.3,121.0 458.6,114.0 460.0,111.4 463.0,109.0 467.0,108.5 471.1,110.0 476.4,113.0 479.5,117.0 480.1,122.0 478.3,127.0 476.0,129.7 472.0,131.1 M291.0,125.1 283.0,124.8 270.5,122.0 269.1,120.0 269.0,117.0 270.2,115.0 273.0,112.6 280.0,110.1 286.7,110.0 294.4,112.0 297.4,114.0 297.9,118.0 295.0,122.7 291.0,125.1 M514.0,225.1 504.0,225.0 496.0,221.6 489.0,214.5 483.0,209.8 479.0,202.2 478.8,199.0 481.5,189.0 487.0,180.3 490.0,177.6 499.0,175.3 501.9,173.0 501.0,168.0 499.0,164.4 496.0,161.8 491.0,159.0 487.4,154.0 484.6,142.0 485.0,139.7 487.0,137.9 490.0,138.2 492.9,142.0 496.0,144.0 504.0,147.0 510.0,147.5 513.0,148.5 519.0,154.0 527.0,158.3 535.0,164.9 542.0,168.8 548.0,176.9 550.3,182.0 552.6,192.0 552.5,199.0 551.0,203.6 547.0,208.0 544.0,208.0 538.0,204.9 531.5,200.0 528.0,194.7 526.0,193.1 522.0,192.2 519.7,193.0 519.0,194.0 519.1,196.0 524.5,201.0 526.0,203.9 526.9,216.0 525.0,221.5 523.0,223.9 514.0,225.1 M298.0,188.2 291.0,188.6 281.0,183.2 274.4,177.0 270.8,170.0 271.1,165.0 273.9,158.0 287.0,147.5 290.0,147.7 298.0,150.8 301.6,153.0 307.2,159.0 310.3,165.0 310.2,171.0 306.7,180.0 302.3,186.0 298.0,188.2 M588.0,221.4 584.0,221.3 579.0,219.6 573.0,216.0 570.5,213.0 570.2,209.0 571.8,204.0 574.7,200.0 578.0,197.7 582.0,197.5 587.0,199.2 593.3,204.0 597.5,209.0 597.4,213.0 596.0,215.9 592.0,219.3 588.0,221.4 M360.0,323.1 356.0,322.7 350.0,317.5 346.5,316.0 334.0,314.7 319.0,315.1 307.0,314.1 297.0,315.2 293.7,314.0 292.9,311.0 297.4,300.0 298.8,293.0 307.0,282.0 316.0,275.6 334.0,270.3 337.6,267.0 342.8,259.0 354.0,254.3 363.0,248.1 365.1,244.0 367.0,234.1 375.0,220.8 378.0,219.9 388.0,221.7 404.0,228.2 413.8,230.0 420.0,236.0 426.5,239.0 433.0,245.0 442.3,250.0 449.7,258.0 452.0,263.0 453.6,271.0 447.7,283.0 446.0,289.1 443.0,292.7 440.0,293.5 427.0,294.5 422.0,293.5 415.0,290.7 412.0,291.0 408.0,293.7 399.0,302.1 383.4,313.0 376.0,320.3 373.0,321.5 360.0,323.1 M584.0,271.1 577.0,271.6 572.0,271.1 564.5,269.0 560.8,266.0 558.3,258.0 558.3,253.0 560.7,247.0 565.0,241.5 570.0,240.4 581.0,240.7 584.0,241.3 586.0,242.6 590.6,251.0 591.2,256.0 588.2,268.0 586.4,270.0 584.0,271.1 M527.0,333.0 522.0,332.3 517.0,329.4 514.1,326.0 512.4,322.0 511.9,315.0 513.1,310.0 516.0,306.2 521.0,303.9 526.0,304.0 531.0,305.9 536.0,309.2 537.8,313.0 537.9,320.0 535.9,327.0 532.0,330.9 527.0,333.0 M229.0,369.3 227.0,369.7 225.0,369.0 221.9,366.0 217.7,355.0 216.9,349.0 217.7,344.0 219.0,341.3 223.0,338.9 230.0,337.6 236.0,339.0 240.3,342.0 244.3,348.0 245.3,353.0 244.0,357.0 240.3,362.0 229.0,369.3 M350.0,345.3 348.0,345.6 346.8,345.0 346.6,344.0 348.0,342.6 350.0,342.8 350.6,344.0 350.0,345.3 M552.0,367.0 549.6,366.0 548.7,364.0 549.0,361.0 551.0,358.0 554.0,359.2 556.1,363.0 555.0,365.8 552.0,367.0 M357.0,474.0 354.0,474.3 343.0,472.7 337.0,473.3 333.0,472.8 329.0,471.1 325.0,467.0 323.0,466.2 320.0,466.7 315.0,469.8 313.0,469.8 312.0,469.0 304.5,453.0 303.1,448.0 304.0,436.0 302.2,420.0 304.0,416.1 306.0,413.8 310.0,411.5 314.0,411.3 318.0,412.8 325.0,417.1 329.0,417.8 337.0,416.4 346.0,412.9 351.0,413.2 355.0,415.1 358.0,417.8 366.0,428.7 374.0,433.7 377.0,432.8 383.0,424.6 386.0,423.8 387.0,427.2 387.2,436.0 385.7,444.0 384.0,448.2 383.0,449.8 378.0,450.0 376.0,451.1 367.9,465.0 361.0,471.6 357.0,474.0 M444.0,506.1 439.0,506.5 434.0,504.6 430.0,501.4 427.0,497.0 425.0,492.0 422.3,481.0 419.7,460.0 419.6,452.0 421.0,445.0 422.2,441.0 425.0,435.5 434.0,424.4 437.0,422.2 441.0,421.0 447.0,422.4 455.0,428.8 467.6,436.0 479.0,453.1 480.1,457.0 478.1,468.0 473.2,477.0 465.0,484.7 457.6,494.0 452.0,503.6 449.0,505.3 444.0,506.1 M526.0,495.2 522.0,495.8 518.0,495.2 510.0,490.1 506.9,485.0 505.7,477.0 508.0,466.0 511.0,461.2 517.0,457.2 525.0,454.0 528.0,453.6 533.0,455.2 539.0,458.8 541.6,464.0 542.6,472.0 540.5,483.0 538.7,487.0 533.0,492.2 526.0,495.2 M401.0,100.0 400.3,99.0 400.5,98.0 402.0,97.6 402.3,99.0 401.0,100.0 M290.0,122.2 286.0,122.3 274.0,120.4 272.8,120.0 272.3,117.0 275.0,113.6 280.0,111.8 284.0,111.5 291.4,113.0 294.0,115.0 294.5,118.0 293.0,120.7 290.0,122.2 M470.0,127.3 467.0,127.7 465.0,127.2 462.0,125.0 460.9,123.0 460.5,119.0 461.0,115.2 462.7,113.0 465.0,111.8 468.0,111.8 471.1,113.0 474.1,115.0 476.1,118.0 475.9,121.0 474.4,124.0 472.6,126.0 470.0,127.3 M498.0,154.8 495.0,154.2 493.3,153.0 492.0,150.6 492.0,148.6 494.0,148.8 497.2,151.0 498.6,153.0 498.7,154.0 498.0,154.8 M294.0,187.1 289.0,186.0 280.0,180.3 275.0,174.6 272.7,169.0 273.5,164.0 275.7,159.0 285.0,151.2 288.0,149.8 295.0,151.4 300.1,154.0 305.5,160.0 308.2,166.0 307.4,173.0 303.8,181.0 300.0,185.2 294.0,187.1 M545.0,203.4 542.0,203.5 538.0,201.0 535.6,198.0 533.2,193.0 530.0,190.0 527.0,189.0 520.0,188.3 517.0,187.0 512.7,180.0 509.5,173.0 505.0,167.0 502.3,161.0 502.2,158.0 506.0,157.6 512.0,159.6 518.0,158.9 525.0,160.3 528.0,161.8 534.0,167.2 542.0,172.6 548.0,180.9 550.5,191.0 550.4,195.0 549.1,199.0 547.0,202.0 545.0,203.4 M512.0,223.1 505.0,223.2 498.0,220.3 490.1,213.0 484.4,209.0 482.0,205.9 480.5,201.0 483.0,190.0 487.0,183.8 491.0,180.2 494.0,179.4 498.0,179.3 501.5,180.0 504.0,181.4 514.0,189.8 516.0,197.0 522.8,204.0 524.6,212.0 523.6,217.0 520.0,220.7 512.0,223.1 M590.0,219.0 586.0,219.7 581.0,218.6 576.2,216.0 573.3,213.0 572.6,210.0 573.6,205.0 575.3,202.0 578.0,199.6 581.0,198.7 586.2,200.0 592.0,204.2 596.0,208.8 596.5,211.0 595.6,214.0 594.0,216.1 590.0,219.0 M374.0,317.1 369.0,317.8 356.0,317.2 349.0,314.1 346.0,313.6 317.0,313.1 301.8,310.0 300.0,308.6 299.5,306.0 302.9,294.0 314.0,281.5 317.3,279.0 321.6,277.0 335.6,273.0 339.0,269.9 345.1,261.0 363.7,252.0 366.8,248.0 368.9,238.0 371.0,234.3 380.0,226.1 383.0,225.4 387.0,225.5 392.0,227.0 403.0,232.3 412.0,233.1 414.0,234.6 418.0,240.0 426.0,243.5 435.7,252.0 437.0,259.2 441.8,266.0 446.0,267.6 447.0,268.6 448.0,272.0 442.0,280.0 439.8,286.0 438.1,288.0 429.0,290.7 426.0,290.3 417.0,286.9 412.0,287.7 398.0,300.5 374.0,317.1 M581.0,270.0 575.0,270.1 570.0,268.8 565.0,266.6 562.6,264.0 560.5,257.0 560.4,253.0 562.3,248.0 566.0,243.8 572.0,242.5 582.0,243.1 586.0,245.6 588.0,249.0 589.9,255.0 587.7,265.0 585.0,268.6 581.0,270.0 M433.7,265.0 433.2,263.0 432.0,262.0 430.0,261.5 428.0,262.2 428.3,264.0 430.0,265.3 432.0,265.9 433.7,265.0 M527.0,331.1 523.0,331.0 518.0,328.2 515.4,325.0 514.0,321.0 513.5,314.0 514.5,311.0 518.0,308.2 523.0,306.5 527.0,306.6 531.0,308.1 534.9,311.0 536.1,314.0 536.1,320.0 534.3,326.0 531.0,329.2 527.0,331.1 M231.0,365.1 227.0,365.4 224.0,363.0 220.0,356.0 218.8,351.0 219.0,346.0 220.7,342.0 224.0,340.0 229.0,338.8 235.0,339.8 238.7,342.0 242.1,346.0 243.9,351.0 243.0,355.0 240.0,359.5 237.0,362.0 231.0,365.1 M553.0,365.0 551.7,365.0 550.8,364.0 550.8,362.0 552.0,360.7 553.0,361.0 554.2,363.0 553.0,365.0 M358.0,470.3 355.0,470.8 349.0,469.2 335.0,467.6 329.0,463.3 326.0,462.1 322.0,462.0 315.0,463.8 312.0,462.2 306.7,454.0 304.9,448.0 305.7,437.0 304.9,422.0 306.0,419.3 308.0,416.9 312.0,414.5 315.0,414.4 324.0,419.4 328.0,419.9 335.0,418.8 345.0,415.2 348.0,414.8 353.0,416.1 357.7,420.0 363.9,429.0 373.4,439.0 375.3,444.0 368.8,460.0 363.8,466.0 358.0,470.3 M442.0,504.1 437.0,504.2 434.0,503.1 430.0,499.7 427.0,495.0 423.1,481.0 420.5,459.0 420.7,451.0 424.0,439.6 429.0,432.1 434.0,426.4 437.0,424.3 440.0,423.5 444.0,424.0 447.0,425.3 453.0,430.5 466.0,439.8 477.0,454.3 478.2,458.0 476.8,466.0 471.0,475.7 456.0,490.9 450.0,501.3 447.0,503.2 442.0,504.1 M384.0,438.8 383.0,438.3 382.0,436.0 382.7,433.0 384.0,431.6 385.0,431.8 385.3,435.0 384.0,438.8 M527.0,493.1 520.0,493.1 512.0,488.8 508.8,485.0 507.2,478.0 509.3,468.0 512.0,463.6 517.0,460.2 524.0,457.1 528.0,456.3 534.0,458.1 539.0,461.8 540.4,465.0 541.6,472.0 540.0,480.5 537.6,486.0 533.0,490.4 527.0,493.1 M285.0,118.1 278.0,118.5 276.6,118.0 276.5,117.0 278.0,115.2 281.0,114.1 285.0,114.1 287.8,115.0 287.6,117.0 285.0,118.1 M469.0,122.3 467.0,122.5 465.0,121.0 464.8,119.0 465.5,118.0 468.0,117.8 469.5,119.0 470.0,121.0 469.0,122.3 M295.0,185.1 290.0,184.6 283.0,180.6 277.4,175.0 274.8,170.0 274.8,166.0 277.5,160.0 284.0,154.2 288.0,151.9 293.0,152.4 299.0,155.3 303.5,160.0 306.1,166.0 305.7,172.0 303.4,178.0 299.7,183.0 295.0,185.1 M544.0,197.2 541.0,196.5 531.0,187.1 526.0,184.1 520.0,181.8 518.0,180.0 516.1,177.0 514.9,173.0 515.2,170.0 516.8,168.0 522.0,164.4 526.0,164.2 529.0,166.0 534.0,170.9 540.0,174.5 543.0,177.1 546.7,183.0 548.2,190.0 547.0,194.8 544.0,197.2 M510.0,221.2 505.0,220.9 499.0,218.4 492.0,212.3 486.0,208.1 483.7,205.0 482.5,200.0 484.6,191.0 487.8,186.0 492.0,182.7 497.0,182.3 503.0,185.4 510.6,192.0 514.5,199.0 520.8,206.0 521.7,212.0 520.3,216.0 516.0,219.1 510.0,221.2 M589.0,217.4 586.0,217.9 582.0,217.2 578.0,215.2 575.9,213.0 574.9,210.0 575.4,206.0 576.9,203.0 579.1,201.0 582.0,200.0 586.0,201.1 590.1,204.0 593.9,208.0 594.9,211.0 594.3,213.0 592.0,215.6 589.0,217.4 M372.0,314.0 368.0,314.4 360.0,313.3 355.0,313.4 346.0,311.2 323.0,311.8 316.8,311.0 308.3,308.0 305.8,306.0 305.8,296.0 308.4,292.0 319.0,281.8 326.0,278.2 337.0,275.4 340.7,272.0 345.3,265.0 348.0,262.3 366.2,254.0 369.6,249.0 372.0,238.9 379.0,232.2 384.0,229.6 390.0,229.5 405.0,238.3 411.0,240.0 416.0,245.2 423.7,249.0 424.4,251.0 423.3,252.0 418.0,252.3 415.7,254.0 415.0,257.0 416.0,260.3 419.2,264.0 427.0,269.5 437.6,274.0 438.4,275.0 438.5,277.0 436.0,282.8 432.0,285.3 429.0,285.3 424.0,282.9 421.0,282.2 417.0,282.6 412.0,284.6 408.0,287.8 397.0,299.0 392.0,301.8 386.0,306.6 372.0,314.0 M580.0,268.0 576.0,267.9 571.0,266.5 567.0,264.8 565.0,262.9 563.4,259.0 562.6,253.0 563.9,249.0 566.8,246.0 572.0,244.5 580.0,245.0 583.0,246.1 587.0,249.9 588.5,255.0 587.0,262.2 584.0,266.7 580.0,268.0 M527.0,329.1 524.0,329.4 520.0,327.9 517.3,325.0 515.9,321.0 515.5,316.0 516.2,313.0 518.2,311.0 523.0,309.1 527.0,309.0 530.0,309.8 533.0,312.0 534.3,315.0 534.2,320.0 533.0,324.4 530.7,327.0 527.0,329.1 M232.0,362.0 229.0,362.3 226.0,360.8 222.8,357.0 220.8,352.0 220.7,347.0 222.0,343.0 228.0,340.1 232.0,340.2 237.0,342.0 240.2,345.0 242.3,349.0 242.0,353.0 240.0,356.6 237.0,359.6 232.0,362.0 M357.0,467.1 340.0,464.4 337.0,463.1 333.0,460.1 330.0,459.1 323.0,458.1 315.0,459.7 311.0,457.1 308.0,452.7 306.6,447.0 307.1,424.0 309.0,420.0 312.0,417.9 315.0,417.4 323.0,421.4 328.0,422.0 348.0,416.7 352.0,417.6 356.0,420.5 369.1,438.0 371.1,442.0 371.6,445.0 369.5,454.0 367.2,459.0 362.0,464.5 357.0,467.1 M441.0,502.0 436.0,501.9 433.0,500.8 430.0,498.1 428.0,494.9 423.9,481.0 421.3,459.0 421.6,451.0 424.8,441.0 432.0,430.6 436.0,427.0 439.0,426.0 442.0,426.3 446.0,427.9 459.3,438.0 464.4,443.0 474.3,455.0 475.9,459.0 474.9,465.0 469.0,474.2 455.0,488.3 448.0,499.1 445.4,501.0 441.0,502.0 M528.0,491.2 524.0,491.7 521.0,491.3 514.0,487.7 510.3,484.0 508.8,478.0 510.5,470.0 513.0,465.8 523.0,460.1 528.0,458.7 533.0,459.8 537.0,462.7 539.4,467.0 540.3,472.0 539.0,479.1 536.5,485.0 532.5,489.0 528.0,491.2 M295.0,183.2 290.0,182.8 284.0,179.4 278.9,174.0 276.5,169.0 277.0,165.0 279.9,160.0 285.0,155.5 289.0,153.5 294.0,154.4 298.5,157.0 302.2,161.0 304.2,166.0 304.1,171.0 302.0,176.9 299.0,181.1 295.0,183.2 M544.0,190.5 541.0,190.5 537.0,188.3 533.0,185.0 529.0,180.2 524.0,176.9 521.8,174.0 522.7,171.0 525.0,169.7 527.0,169.9 533.0,175.4 539.0,177.3 541.5,179.0 543.8,182.0 544.9,185.0 545.2,188.0 544.0,190.5 M512.0,218.0 507.0,218.6 501.0,216.7 488.7,208.0 486.0,205.2 484.6,201.0 485.1,196.0 487.0,190.7 491.0,186.3 493.0,185.2 496.0,185.0 502.0,187.9 509.0,194.7 517.2,206.0 518.4,209.0 517.9,213.0 515.4,216.0 512.0,218.0 M587.0,216.1 584.0,216.0 580.9,215.0 578.4,213.0 577.4,211.0 577.2,208.0 578.1,205.0 579.7,203.0 582.0,201.7 585.0,202.0 588.0,203.7 591.4,207.0 593.0,210.0 590.9,214.0 587.0,216.1 M373.0,310.1 368.0,310.9 360.0,309.8 354.0,310.4 344.0,308.9 324.0,310.2 320.0,309.8 315.1,308.0 310.9,305.0 309.4,302.0 308.8,297.0 310.0,294.4 314.0,290.1 323.0,282.5 328.0,280.0 338.0,277.9 341.5,275.0 348.0,266.5 350.7,264.0 369.0,256.0 371.7,252.0 374.0,242.3 375.4,240.0 384.0,233.9 387.0,232.8 389.8,233.0 399.2,239.0 404.0,245.2 408.4,249.0 412.0,261.0 416.0,267.4 427.0,274.2 431.5,276.0 432.6,277.0 432.6,278.0 430.0,279.3 420.0,277.6 416.0,278.6 407.0,285.6 396.5,297.0 390.8,300.0 385.0,304.6 373.0,310.1 M582.0,265.0 579.0,265.9 576.0,265.6 571.0,264.0 567.9,262.0 566.0,259.0 565.2,255.0 565.5,251.0 567.0,248.6 572.0,246.6 577.0,246.6 581.5,248.0 585.0,250.9 586.8,254.0 586.8,257.0 584.0,262.7 582.0,265.0 M526.0,327.3 523.0,327.3 520.4,326.0 518.8,324.0 517.8,320.0 518.0,316.1 519.0,314.1 522.0,312.3 525.0,311.6 528.0,311.8 530.4,313.0 531.9,315.0 532.3,317.0 532.0,321.0 531.0,323.7 529.0,325.7 526.0,327.3 M235.0,342.2 238.0,344.1 240.3,347.0 240.9,349.0 240.6,352.0 239.0,355.1 236.0,357.8 233.0,359.2 230.0,359.4 227.0,358.1 224.2,355.0 223.1,352.0 222.8,348.0 223.7,344.0 224.6,343.0 228.0,341.4 231.0,341.3 M359.0,463.4 356.0,463.8 344.0,462.5 340.2,461.0 335.0,457.4 324.0,454.2 321.0,454.3 316.0,455.7 312.0,454.4 309.5,451.0 308.4,446.0 308.7,429.0 310.2,423.0 312.0,421.5 315.0,420.8 323.0,423.6 329.0,423.9 347.0,418.6 351.0,419.1 354.0,420.8 357.1,424.0 365.2,436.0 368.8,444.0 368.5,449.0 366.0,457.0 363.0,460.8 359.0,463.4 M440.0,500.0 436.0,499.8 433.0,498.6 430.3,496.0 428.6,493.0 424.7,480.0 422.2,459.0 423.0,450.1 427.2,440.0 433.0,431.7 436.0,429.4 439.0,428.6 446.0,431.1 457.0,439.1 472.3,457.0 473.3,460.0 472.0,464.8 464.6,476.0 461.0,480.1 454.1,486.0 446.0,497.4 443.8,499.0 440.0,500.0 M525.0,490.0 520.0,488.9 513.0,484.3 510.8,480.0 510.7,475.0 512.3,470.0 515.0,467.0 524.0,461.8 527.0,460.9 530.0,461.0 534.0,462.7 536.9,466.0 538.7,471.0 538.6,475.0 536.5,482.0 534.0,485.7 530.0,488.7 525.0,490.0 M297.4,180.0 295.0,181.2 291.0,181.3 287.0,179.6 283.7,177.0 280.3,173.0 278.5,169.0 278.7,166.0 280.0,163.0 283.2,159.0 287.0,156.1 290.0,155.2 293.4,156.0 298.2,159.0 301.4,163.0 302.5,167.0 302.0,172.2 M539.0,184.3 537.2,183.0 537.5,182.0 538.7,182.0 539.6,183.0 539.0,184.3 M486.8,201.0 487.4,196.0 490.0,190.9 494.0,188.2 498.0,188.6 501.5,191.0 509.0,199.0 512.5,205.0 513.5,210.0 513.0,212.0 511.5,214.0 509.0,215.1 506.0,215.2 501.0,213.7 492.1,208.0 M581.0,212.6 579.6,210.0 579.9,207.0 581.1,205.0 584.0,203.7 587.0,204.8 590.1,208.0 590.4,210.0 589.0,212.7 M330.0,308.0 320.5,308.0 317.0,306.5 314.2,304.0 312.3,301.0 311.6,298.0 312.2,296.0 315.4,292.0 327.2,283.0 337.0,281.0 341.0,279.2 352.0,267.5 359.6,263.0 364.0,261.4 370.0,261.2 372.0,260.0 375.5,253.0 377.0,245.0 379.0,242.8 388.0,239.5 393.0,240.9 396.0,242.8 400.3,249.0 406.0,255.0 414.6,273.0 412.6,277.0 404.0,285.0 396.6,294.0 394.0,295.8 388.4,298.0 382.5,303.0 374.0,306.5 368.0,306.9 360.0,305.8 353.0,307.5 344.0,306.8 330.0,308.0 M579.0,263.3 576.0,263.3 573.0,262.4 569.0,259.1 567.7,254.0 568.0,252.0 569.5,250.0 573.0,248.6 577.0,248.9 580.0,250.2 582.8,253.0 583.6,255.0 583.2,258.0 581.1,262.0 579.0,263.3 M525.0,325.0 523.0,324.9 521.6,324.0 520.6,322.0 520.6,319.0 521.6,317.0 522.9,316.0 527.0,315.5 529.2,317.0 529.5,321.0 528.0,323.4 525.0,325.0 M236.0,344.0 238.9,347.0 239.3,350.0 238.8,352.0 236.0,355.3 233.0,356.6 231.0,356.6 227.0,354.3 225.3,350.0 225.3,347.0 226.1,344.0 229.0,342.6 M356.0,461.0 344.0,459.9 337.0,455.5 329.0,453.0 324.0,450.1 322.0,449.9 316.0,451.6 313.0,450.8 311.0,447.9 310.2,443.0 310.7,430.0 312.5,425.0 316.0,423.8 324.0,426.1 329.0,426.2 347.0,420.4 351.0,420.9 354.0,422.8 356.7,426.0 363.6,437.0 365.9,442.0 366.4,445.0 365.1,453.0 363.4,457.0 360.0,460.1 356.0,461.0 M442.0,497.2 439.0,497.9 435.0,497.3 432.0,495.3 430.0,492.4 425.8,480.0 423.4,461.0 424.0,451.7 428.0,442.5 433.0,434.3 435.0,432.4 438.0,431.3 441.0,431.8 446.0,434.0 455.6,441.0 459.0,445.0 463.0,452.0 468.7,459.0 469.4,461.0 466.3,469.0 462.1,476.0 459.4,479.0 453.0,484.0 445.9,494.0 442.0,497.2 M527.0,488.1 522.0,487.8 516.0,484.4 513.3,481.0 512.4,476.0 513.4,472.0 515.8,469.0 523.0,464.3 528.0,463.0 532.0,464.0 534.5,466.0 536.4,469.0 537.2,473.0 536.4,478.0 534.1,483.0 531.0,486.2 527.0,488.1 M289.0,178.7 284.0,174.8 280.6,169.0 281.0,165.0 284.5,160.0 289.0,157.2 293.0,157.9 298.6,162.0 300.6,167.0 M490.1,197.0 491.8,194.0 494.0,192.2 496.0,191.7 498.0,192.2 507.4,201.0 509.5,206.0 508.0,209.9 505.0,211.2 501.0,210.3 494.7,207.0 M333.0,306.1 324.0,306.5 319.0,305.1 316.6,303.0 314.7,300.0 314.4,298.0 315.1,296.0 318.0,292.7 329.0,285.3 339.0,283.2 344.6,281.0 350.0,276.7 355.0,271.4 363.0,266.6 365.0,266.2 370.0,267.2 373.0,266.4 376.0,263.4 385.0,251.3 393.0,251.3 399.0,254.1 402.9,258.0 410.2,270.0 411.0,273.0 410.2,275.0 402.0,283.0 395.0,291.5 393.0,292.8 386.0,294.9 381.1,300.0 377.0,302.6 373.0,303.4 361.0,301.4 352.0,304.7 343.0,304.9 333.0,306.1 M579.2,257.0 578.6,259.0 577.0,260.3 574.0,259.9 571.7,258.0 M236.0,345.8 237.2,348.0 237.0,351.0 235.2,353.0 233.0,353.8 231.0,353.4 229.0,351.6 228.1,349.0 228.4,346.0 M358.0,458.0 354.0,458.4 345.0,457.6 337.0,452.9 331.8,451.0 328.4,448.0 326.2,442.0 325.0,440.9 319.0,446.0 317.0,446.7 315.0,446.4 313.0,444.0 312.5,441.0 313.1,432.0 314.5,428.0 317.0,426.9 323.0,428.7 328.0,428.9 332.0,427.9 339.0,424.3 344.0,422.7 348.0,422.1 352.0,423.3 355.0,426.0 359.3,433.0 363.7,443.0 363.8,448.0 362.3,454.0 361.0,456.1 358.0,458.0 M440.0,495.2 437.0,495.3 434.0,494.1 432.0,492.0 430.0,488.4 426.9,479.0 424.7,460.0 425.4,453.0 428.0,446.7 433.4,437.0 436.0,434.6 438.0,434.0 442.0,434.9 447.0,437.4 454.9,444.0 456.7,447.0 458.3,454.0 462.0,459.5 462.8,463.0 461.7,470.0 459.1,476.0 451.5,482.0 444.0,492.4 440.0,495.2 M532.0,483.0 529.0,485.5 526.0,486.5 523.0,486.2 519.0,484.3 516.0,481.3 514.6,478.0 514.5,475.0 515.8,472.0 522.0,467.1 525.0,465.6 529.0,465.4 532.0,466.7 534.7,470.0 535.4,474.0 534.3,479.0 532.0,483.0 M287.0,175.2 284.0,171.9 282.6,168.0 283.1,165.0 285.0,162.0 287.6,160.0 290.0,159.5 294.1,161.0 297.4,164.0 M496.0,197.0 498.0,197.6 503.5,202.0 505.2,205.0 504.7,206.0 503.0,206.5 497.0,204.6 M335.0,304.1 328.0,304.7 322.0,303.8 318.1,301.0 317.3,299.0 317.7,297.0 319.5,295.0 325.0,292.3 329.0,288.8 332.0,287.3 360.0,282.3 365.0,277.1 373.0,271.9 380.0,265.0 388.0,259.2 393.0,258.4 396.0,259.0 406.7,270.0 407.3,272.0 406.7,274.0 399.2,281.0 394.0,287.1 392.0,288.6 384.0,291.5 376.0,299.0 373.0,299.4 367.0,297.9 361.0,297.6 351.0,302.0 335.0,304.1 M358.0,433.9 360.9,441.0 361.6,446.0 360.5,452.0 358.0,454.9 354.0,455.7 345.0,455.2 334.9,449.0 332.8,447.0 329.0,434.0 330.0,432.0 339.6,426.0 346.0,424.1 351.0,424.7 354.6,428.0 M446.9,483.0 442.9,489.0 440.0,491.7 436.0,491.8 433.0,489.5 430.0,484.1 428.0,478.0 426.2,459.0 426.6,455.0 428.0,451.0 435.0,438.9 437.0,437.5 439.0,437.3 442.0,438.2 446.7,441.0 M450.0,444.3 451.4,447.0 453.5,456.0 456.7,463.0 456.9,465.0 455.4,474.0 450.0,478.8 M526.0,484.4 522.0,483.6 518.0,480.1 516.8,476.0 518.0,473.2 524.0,468.6 528.0,467.9 531.0,469.1 532.7,471.0 533.3,476.0 M286.0,171.0 285.0,167.0 286.4,164.0 289.0,162.6 293.0,163.8 M334.0,302.0 327.6,302.0 324.5,301.0 323.1,300.0 322.9,299.0 331.0,291.4 334.0,290.0 348.0,289.3 356.0,291.5 359.0,291.2 382.0,269.7 390.0,264.7 393.0,264.0 396.0,264.7 402.2,271.0 402.3,273.0 401.0,275.0 392.0,283.0 383.0,287.1 377.0,291.3 359.0,293.2 350.0,298.8 334.0,302.0 M358.7,441.0 359.2,446.0 358.3,450.0 356.6,452.0 353.3,453.0 348.0,453.4 344.0,452.6 338.9,449.0 335.7,445.0 332.9,436.0 333.6,433.0 338.0,429.2 342.0,427.0 347.0,426.0 351.1,427.0 M444.0,481.7 442.0,485.2 439.0,487.9 436.0,488.0 433.0,485.4 430.7,481.0 429.2,476.0 427.8,460.0 429.2,453.0 436.0,442.4 439.0,441.3 443.0,444.0 M386.0,281.2 381.0,281.9 379.1,281.0 379.7,279.0 381.9,276.0 388.0,270.4 392.0,269.0 396.0,270.2 397.2,272.0 396.4,274.0 390.0,279.6 386.0,281.2 M349.0,451.1 344.0,450.4 340.8,448.0 338.2,444.0 335.9,436.0 337.2,433.0 341.0,429.8 345.0,428.5 349.0,428.5 M442.0,478.5 439.6,483.0 438.0,484.0 436.0,483.8 434.0,482.2 432.1,479.0 430.4,472.0 429.9,459.0 432.0,453.1 435.0,449.7 437.0,449.1 438.0,450.3 440.0,456.6 M347.0,448.6 344.0,447.7 342.0,445.9 340.0,441.6 339.3,437.0 340.0,434.8 342.0,432.5 345.0,431.1 348.0,430.9 M440.0,473.6 438.0,478.4 437.0,478.9 435.0,477.8 433.6,475.0 432.9,471.0 432.9,462.0 434.0,459.1 435.0,458.8 437.0,460.4 440.0,466.2 M346.0,444.8 344.4,443.0 343.8,440.0 344.3,437.0 346.0,435.2" fill="none" stroke="#2db3b3" stroke-width="1.35" stroke-opacity="0.85"/>
</g>
<path d="M231.0,318.0 C229.0,314.3 232.8,305.8 234.0,300.0 C235.2,294.2 236.5,288.7 238.0,283.0 C239.5,277.3 241.0,271.2 243.0,266.0 C245.0,260.8 247.5,255.3 250.0,252.0 C252.5,248.7 253.7,248.5 258.0,246.0 C262.3,243.5 269.3,240.3 276.0,237.0 C282.7,233.7 290.7,229.0 298.0,226.0 C305.3,223.0 314.3,220.8 320.0,219.0 C325.7,217.2 328.8,218.7 332.0,215.0 C335.2,211.3 336.3,201.8 339.0,197.0 C341.7,192.2 343.7,189.3 348.0,186.0 C352.3,182.7 359.2,179.2 365.0,177.0 C370.8,174.8 375.5,172.2 383.0,172.5 C390.5,172.8 400.5,175.1 410.0,179.0 C419.5,182.9 431.3,190.7 440.0,196.0 C448.7,201.3 453.7,205.7 462.0,211.0 C470.3,216.3 482.3,223.2 490.0,228.0 C497.7,232.8 504.0,235.0 508.0,240.0 C512.0,245.0 513.3,252.2 514.0,258.0 C514.7,263.8 513.5,269.3 512.0,275.0 C510.5,280.7 508.3,285.3 505.0,292.0 C501.7,298.7 496.2,308.3 492.0,315.0 C487.8,321.7 483.0,327.8 480.0,332.0 C477.0,336.2 480.2,337.5 474.0,340.0 C467.8,342.5 450.7,345.2 443.0,347.0 C435.3,348.8 433.0,349.5 428.0,351.0 C423.0,352.5 417.8,353.8 413.0,356.0 C408.2,358.2 403.3,360.7 399.0,364.0 C394.7,367.3 391.0,373.2 387.0,376.0 C383.0,378.8 380.0,380.0 375.0,381.0 C370.0,382.0 366.2,382.5 357.0,382.0 C347.8,381.5 331.7,380.5 320.0,378.0 C308.3,375.5 295.3,371.7 287.0,367.0 C278.7,362.3 274.2,355.0 270.0,350.0 C265.8,345.0 264.7,340.7 262.0,337.0 C259.3,333.3 256.7,330.5 254.0,328.0 C251.3,325.5 249.8,323.7 246.0,322.0 C242.2,320.3 233.0,321.7 231.0,318.0 Z" fill="none" stroke="#f53a9a" stroke-width="4.2" stroke-dasharray="10.5 6"/>
<path d="M166.8,324.6 C169.4,320.5 176.2,314.0 182.5,311.2 C188.8,308.4 198.9,306.8 204.8,307.9 C210.7,309.0 214.4,315.3 218.1,317.9 C221.8,320.5 222.6,322.8 227.1,323.5 C231.6,324.2 239.7,320.7 244.9,322.4 C250.1,324.1 254.6,329.0 258.3,333.5 C262.0,338.0 263.5,344.0 267.2,349.2 C270.9,354.4 274.7,360.4 280.6,364.8 C286.6,369.2 294.3,372.9 302.9,375.9 C311.4,378.9 323.3,380.7 331.9,382.6 C340.4,384.5 345.9,385.9 354.2,387.1 C362.5,388.3 374.5,390.1 381.5,389.7 C388.5,389.3 392.6,387.1 396.3,384.8 C400.0,382.6 402.1,379.7 403.7,376.2 C405.3,372.7 405.0,367.3 406.2,363.8 C407.4,360.3 409.1,357.4 411.1,355.2 C413.2,353.0 415.6,351.7 418.5,350.9 C421.4,350.1 425.0,350.0 428.3,350.3 C431.6,350.6 435.9,351.0 438.2,352.8 C440.4,354.6 441.4,357.5 441.8,361.4 C442.2,365.3 442.0,371.7 440.6,376.2 C439.2,380.7 436.1,384.8 433.2,388.5 C430.3,392.2 427.1,395.4 423.4,398.3 C419.7,401.2 414.4,403.4 411.1,405.7 C407.8,407.9 405.4,409.6 403.7,411.8 C402.0,414.1 401.4,415.9 401.2,419.2 C401.0,422.5 402.1,426.8 402.5,431.5 C402.9,436.2 404.1,440.9 403.8,447.7 C403.5,454.5 403.6,464.1 400.8,472.3 C398.0,480.5 392.8,490.0 386.9,497.0 C381.0,504.0 372.7,509.9 365.4,514.2 C358.1,518.6 349.8,522.7 343.1,523.1 C336.4,523.5 331.9,521.0 325.2,516.5 C318.5,512.0 309.6,503.1 302.9,496.4 C296.2,489.7 290.3,481.9 285.1,476.3 C279.9,470.7 277.6,464.8 271.7,462.9 C265.8,461.0 257.2,465.5 249.4,465.1 C241.6,464.7 232.2,462.6 224.8,460.7 C217.4,458.8 211.1,457.4 204.8,454.0 C198.5,450.6 191.7,445.8 186.9,440.6 C182.1,435.4 178.4,429.1 175.8,422.8 C173.2,416.5 172.6,409.8 171.3,402.7 C170.0,395.6 168.9,388.6 168.0,380.4 C167.1,372.2 165.9,361.0 165.7,353.6 C165.5,346.2 166.6,340.6 166.8,335.8 C167.0,331.0 164.2,328.7 166.8,324.6 Z" fill="none" stroke="#12ae4e" stroke-width="4.2" stroke-dasharray="10.5 6"/>
<path d="M460.0,389.0 C465.2,387.1 470.7,384.4 476.0,383.5 C481.3,382.6 486.0,383.2 492.0,383.5 C498.0,383.8 506.7,383.2 512.0,385.0 C517.3,386.8 521.0,391.0 524.0,394.0 C527.0,397.0 527.8,402.5 530.0,403.0 C532.2,403.5 534.3,398.8 537.0,397.0 C539.7,395.2 542.8,393.2 546.0,392.0 C549.2,390.8 552.7,390.2 556.0,390.0 C559.3,389.8 562.5,390.2 566.0,391.0 C569.5,391.8 574.0,392.7 577.0,395.0 C580.0,397.3 582.8,401.7 584.0,405.0 C585.2,408.3 585.0,411.5 584.0,415.0 C583.0,418.5 580.7,423.0 578.0,426.0 C575.3,429.0 570.7,430.3 568.0,433.0 C565.3,435.7 563.2,437.8 562.0,442.0 C560.8,446.2 560.8,452.0 561.0,458.0 C561.2,464.0 562.8,471.5 563.0,478.0 C563.2,484.5 563.2,491.7 562.0,497.0 C560.8,502.3 559.7,507.3 556.0,510.0 C552.3,512.7 546.0,512.5 540.0,513.0 C534.0,513.5 525.8,513.0 520.0,513.0 C514.2,513.0 509.0,511.5 505.0,513.0 C501.0,514.5 498.7,518.3 496.0,522.0 C493.3,525.7 492.0,530.7 489.0,535.0 C486.0,539.3 482.3,545.2 478.0,548.0 C473.7,550.8 468.2,551.8 463.0,552.0 C457.8,552.2 452.0,550.7 447.0,549.0 C442.0,547.3 437.5,544.7 433.0,542.0 C428.5,539.3 423.7,537.0 420.0,533.0 C416.3,529.0 413.3,523.8 411.0,518.0 C408.7,512.2 407.0,506.0 406.0,498.0 C405.0,490.0 405.2,478.8 405.0,470.0 C404.8,461.2 404.2,451.7 405.0,445.0 C405.8,438.3 407.5,434.5 410.0,430.0 C412.5,425.5 416.3,422.2 420.0,418.0 C423.7,413.8 427.8,408.8 432.0,405.0 C436.2,401.2 440.3,397.7 445.0,395.0 C449.7,392.3 454.8,390.9 460.0,389.0 Z" fill="none" stroke="#7f7f7f" stroke-width="4.2" stroke-dasharray="10.5 6"/>
<path d="M507.1,288.9 C511.2,285.0 519.0,284.0 524.9,283.3 C530.8,282.6 536.8,283.2 542.8,284.5 C548.8,285.8 555.8,288.8 560.6,291.2 C565.4,293.6 567.0,297.9 571.8,299.0 C576.6,300.1 582.9,298.9 589.6,297.8 C596.3,296.7 604.1,294.2 611.9,292.3 C619.7,290.4 630.1,287.4 636.4,286.7 C642.7,285.9 646.8,285.9 649.8,287.8 C652.8,289.7 653.9,291.7 654.3,297.8 C654.7,303.9 652.3,315.3 652.1,324.6 C651.9,333.9 653.6,346.2 653.2,353.6 C652.8,361.0 652.6,365.5 649.8,369.2 C647.0,372.9 642.3,374.0 636.4,375.9 C630.5,377.8 620.8,378.2 614.1,380.4 C607.4,382.6 600.8,388.2 596.3,389.3 C591.8,390.4 591.1,388.2 587.4,387.1 C583.7,386.0 579.2,382.6 574.0,382.6 C568.8,382.6 561.3,385.8 556.1,387.1 C550.9,388.4 547.6,390.2 542.8,390.4 C538.0,390.6 532.3,389.9 527.1,388.2 C521.9,386.5 517.1,382.4 511.5,380.4 C505.9,378.3 501.1,376.3 493.7,375.9 C486.3,375.5 474.0,377.0 466.9,378.1 C459.8,379.2 455.0,383.3 451.3,382.6 C447.6,381.9 445.9,377.8 444.6,373.7 C443.3,369.6 442.4,361.8 443.5,358.1 C444.6,354.4 447.0,353.3 451.3,351.4 C455.6,349.5 463.5,348.8 469.1,346.9 C474.7,345.0 480.7,343.2 484.8,340.2 C488.9,337.2 491.1,334.7 493.7,329.1 C496.3,323.5 498.2,313.5 500.4,306.8 C502.6,300.1 503.0,292.8 507.1,288.9 Z" fill="none" stroke="#000000" stroke-width="4.2" stroke-dasharray="10.5 6"/>
<path d="M209.0,185.0 C209.8,178.8 211.8,172.5 214.0,168.0 C216.2,163.5 219.3,161.7 222.0,158.0 C224.7,154.3 227.3,150.7 230.0,146.0 C232.7,141.3 235.2,134.7 238.0,130.0 C240.8,125.3 243.3,122.2 247.0,118.0 C250.7,113.8 255.3,108.3 260.0,105.0 C264.7,101.7 269.7,99.9 275.0,98.0 C280.3,96.1 286.8,94.0 292.0,93.5 C297.2,93.0 302.0,93.2 306.0,95.0 C310.0,96.8 313.0,101.7 316.0,104.0 C319.0,106.3 320.7,108.2 324.0,109.0 C327.3,109.8 332.2,108.8 336.0,109.0 C339.8,109.2 343.7,108.5 347.0,110.0 C350.3,111.5 353.2,115.0 356.0,118.0 C358.8,121.0 361.8,124.3 364.0,128.0 C366.2,131.7 367.5,135.7 369.0,140.0 C370.5,144.3 373.5,150.0 373.0,154.0 C372.5,158.0 368.8,161.3 366.0,164.0 C363.2,166.7 359.2,167.8 356.0,170.0 C352.8,172.2 349.8,174.5 347.0,177.0 C344.2,179.5 341.3,181.8 339.0,185.0 C336.7,188.2 334.8,192.3 333.0,196.0 C331.2,199.7 329.8,203.5 328.0,207.0 C326.2,210.5 325.0,214.7 322.0,217.0 C319.0,219.3 314.3,219.8 310.0,221.0 C305.7,222.2 300.5,223.0 296.0,224.0 C291.5,225.0 287.7,225.7 283.0,227.0 C278.3,228.3 272.5,230.0 268.0,232.0 C263.5,234.0 260.0,237.2 256.0,239.0 C252.0,240.8 248.0,242.7 244.0,243.0 C240.0,243.3 235.7,242.5 232.0,241.0 C228.3,239.5 225.2,237.2 222.0,234.0 C218.8,230.8 215.2,226.8 213.0,222.0 C210.8,217.2 209.7,211.2 209.0,205.0 C208.3,198.8 208.2,191.2 209.0,185.0 Z" fill="none" stroke="#4472c4" stroke-width="4.2" stroke-dasharray="10.5 6"/>
<path d="M367.0,95.0 C367.5,88.2 367.8,83.4 370.0,79.0 C372.2,74.6 375.8,71.0 380.0,68.5 C384.2,66.0 389.8,64.8 395.0,64.0 C400.2,63.2 405.8,63.4 411.0,64.0 C416.2,64.6 421.9,65.5 426.0,67.5 C430.1,69.5 433.3,72.1 435.5,76.0 C437.7,79.9 438.6,85.3 439.0,91.0 C439.4,96.7 438.5,103.8 438.0,110.0 C437.5,116.2 437.3,122.2 436.0,128.0 C434.7,133.8 432.7,140.3 430.0,145.0 C427.3,149.7 424.2,153.0 420.0,156.0 C415.8,159.0 410.0,162.2 405.0,163.0 C400.0,163.8 394.5,162.3 390.0,160.5 C385.5,158.7 381.3,155.4 378.0,152.0 C374.7,148.6 371.8,145.3 370.0,140.0 C368.2,134.7 367.5,127.5 367.0,120.0 C366.5,112.5 366.5,101.8 367.0,95.0 Z" fill="none" stroke="#7030a0" stroke-width="4.2" stroke-dasharray="10.5 6"/>
<path d="M437.9,96.6 C441.2,93.6 449.9,91.4 455.8,89.9 C461.8,88.4 466.2,87.0 473.6,87.7 C481.0,88.5 491.1,90.7 500.4,94.4 C509.7,98.1 520.1,104.8 529.4,110.0 C538.7,115.2 547.9,120.4 556.1,125.6 C564.3,130.8 571.8,136.4 578.5,141.2 C585.2,146.0 592.2,150.1 596.3,154.6 C600.4,159.1 603.0,162.8 603.0,168.0 C603.0,173.2 596.7,181.7 596.3,185.8 C595.9,189.9 598.2,190.6 600.8,192.5 C603.4,194.4 609.7,193.3 611.9,197.0 C614.1,200.7 613.7,208.9 614.1,214.8 C614.5,220.8 613.0,227.5 614.1,232.7 C615.2,237.9 619.7,241.6 620.8,246.0 C621.9,250.4 622.3,254.2 620.8,259.4 C619.3,264.6 616.3,272.5 611.9,277.3 C607.5,282.1 601.2,286.5 594.1,288.4 C587.0,290.2 577.7,289.1 569.5,288.4 C561.3,287.7 551.7,286.6 545.0,284.0 C538.3,281.4 532.2,277.6 529.4,272.8 C526.6,268.0 528.3,260.2 528.3,255.0 C528.3,249.8 530.7,244.9 529.4,241.6 C528.1,238.2 524.2,236.6 520.5,234.9 C516.8,233.2 511.6,232.2 507.1,231.6 C502.6,231.0 498.9,232.5 493.7,231.6 C488.5,230.7 481.0,229.5 475.8,226.0 C470.6,222.5 466.2,216.7 462.5,210.4 C458.8,204.1 456.9,196.3 453.5,188.1 C450.1,179.9 445.4,171.0 442.4,161.3 C439.4,151.6 436.8,139.0 435.7,130.1 C434.6,121.2 435.3,113.4 435.7,107.8 C436.1,102.2 434.5,99.6 437.9,96.6 Z" fill="none" stroke="#0a2af5" stroke-width="4.2" stroke-dasharray="10.5 6"/>
<text x="152.8" y="85" font-size="25.1" fill="#3e62a9">CD19+ B cells</text>
<text x="339.8" y="53.1" font-size="25.1" fill="#7030a0">DNT cells</text>
<text x="488.6" y="82.1" font-size="25.1" fill="#0a2af5">CD8+ T cells</text>
<text x="129.6" y="238.3" font-size="25.1" fill="#f0388f">CD14+</text>
<text x="129.6" y="267.3" font-size="25.1" fill="#f0388f">Mono-</text>
<text x="129.6" y="296" font-size="25.1" fill="#f0388f">cytes</text>
<text x="147.6" y="506.8" font-size="25.1" fill="#12ae4e">CD4+ T cell</text>
<text x="381.8" y="580.6" font-size="25.1" fill="#777777">CD56+ NK</text>
<text x="604.2" y="408.3" font-size="25.1" fill="#000000">Other</text>
<rect x="120.8" y="23.5" width="570.7" height="568.5" fill="none" stroke="#555" stroke-width="2"/>
<line x1="104.5" y1="534.5" x2="120.8" y2="534.5" stroke="#000" stroke-width="4.5"/>
<line x1="113" y1="502.6" x2="120.8" y2="502.6" stroke="#000" stroke-width="2"/>
<line x1="113" y1="470.7" x2="120.8" y2="470.7" stroke="#000" stroke-width="2"/>
<line x1="113" y1="438.8" x2="120.8" y2="438.8" stroke="#000" stroke-width="2"/>
<line x1="113" y1="406.9" x2="120.8" y2="406.9" stroke="#000" stroke-width="2"/>
<line x1="104.5" y1="375.0" x2="120.8" y2="375.0" stroke="#000" stroke-width="4.5"/>
<line x1="113" y1="343.1" x2="120.8" y2="343.1" stroke="#000" stroke-width="2"/>
<line x1="113" y1="311.2" x2="120.8" y2="311.2" stroke="#000" stroke-width="2"/>
<line x1="113" y1="279.3" x2="120.8" y2="279.3" stroke="#000" stroke-width="2"/>
<line x1="113" y1="247.4" x2="120.8" y2="247.4" stroke="#000" stroke-width="2"/>
<line x1="104.5" y1="215.5" x2="120.8" y2="215.5" stroke="#000" stroke-width="4.5"/>
<line x1="113" y1="183.6" x2="120.8" y2="183.6" stroke="#000" stroke-width="2"/>
<line x1="113" y1="151.7" x2="120.8" y2="151.7" stroke="#000" stroke-width="2"/>
<line x1="113" y1="119.8" x2="120.8" y2="119.8" stroke="#000" stroke-width="2"/>
<line x1="113" y1="87.9" x2="120.8" y2="87.9" stroke="#000" stroke-width="2"/>
<line x1="104.5" y1="56.0" x2="120.8" y2="56.0" stroke="#000" stroke-width="4.5"/>
<line x1="113" y1="24.1" x2="120.8" y2="24.1" stroke="#000" stroke-width="2"/>
<line x1="176.0" y1="592" x2="176.0" y2="605" stroke="#000" stroke-width="4.2"/>
<line x1="209.2" y1="592" x2="209.2" y2="599.5" stroke="#000" stroke-width="2"/>
<line x1="242.5" y1="592" x2="242.5" y2="599.5" stroke="#000" stroke-width="2"/>
<line x1="275.8" y1="592" x2="275.8" y2="599.5" stroke="#000" stroke-width="2"/>
<line x1="309.0" y1="592" x2="309.0" y2="599.5" stroke="#000" stroke-width="2"/>
<line x1="342.2" y1="592" x2="342.2" y2="605" stroke="#000" stroke-width="4.2"/>
<line x1="375.5" y1="592" x2="375.5" y2="599.5" stroke="#000" stroke-width="2"/>
<line x1="408.8" y1="592" x2="408.8" y2="599.5" stroke="#000" stroke-width="2"/>
<line x1="442.0" y1="592" x2="442.0" y2="599.5" stroke="#000" stroke-width="2"/>
<line x1="475.2" y1="592" x2="475.2" y2="599.5" stroke="#000" stroke-width="2"/>
<line x1="508.5" y1="592" x2="508.5" y2="605" stroke="#000" stroke-width="4.2"/>
<line x1="541.8" y1="592" x2="541.8" y2="599.5" stroke="#000" stroke-width="2"/>
<line x1="575.0" y1="592" x2="575.0" y2="599.5" stroke="#000" stroke-width="2"/>
<line x1="608.2" y1="592" x2="608.2" y2="599.5" stroke="#000" stroke-width="2"/>
<line x1="641.5" y1="592" x2="641.5" y2="599.5" stroke="#000" stroke-width="2"/>
<line x1="674.8" y1="592" x2="674.8" y2="605" stroke="#000" stroke-width="4.2"/>
<text x="92.5" y="67.3" font-size="29" text-anchor="end" font-weight="normal" font-style="normal" fill="#000" >150</text>
<text x="92.5" y="226.8" font-size="29" text-anchor="end" font-weight="normal" font-style="normal" fill="#000" >100</text>
<text x="92.5" y="386.3" font-size="29" text-anchor="end" font-weight="normal" font-style="normal" fill="#000" >50</text>
<text x="92.5" y="545.9" font-size="29" text-anchor="end" font-weight="normal" font-style="normal" fill="#000" >0</text>
<text x="176.3" y="639.5" font-size="29" text-anchor="middle" font-weight="normal" font-style="normal" fill="#000" >0</text>
<text x="342" y="639.5" font-size="29" text-anchor="middle" font-weight="normal" font-style="normal" fill="#000" >50</text>
<text x="508.5" y="639.5" font-size="29" text-anchor="middle" font-weight="normal" font-style="normal" fill="#000" >100</text>
<text x="674" y="639.5" font-size="29" text-anchor="middle" font-weight="normal" font-style="normal" fill="#000" >150</text>
<text x="403.7" y="679.8" font-size="28.3" text-anchor="middle" font-weight="normal" font-style="normal" fill="#000" transform="translate(0,679.8) scale(1,1.06) translate(0,-679.8)">tSNE1</text>
<text transform="translate(25.5,294.6) rotate(-90) scale(1,1.06)" font-size="28.3" text-anchor="middle">tSNE2</text>
<text x="-0.5" y="36" font-size="40.5" text-anchor="start" font-weight="bold" font-style="normal" fill="#000" >a</text>
<text x="743.8" y="36.5" font-size="42" text-anchor="start" font-weight="bold" font-style="normal" fill="#000" transform="translate(743.8,0) scale(1.12,1) translate(-743.8,0)">b</text>
<line x1="1087.5" y1="104" x2="1087.5" y2="532" stroke="#000" stroke-width="2.6" stroke-dasharray="2.6 3.65"/>
<line x1="846" y1="103" x2="846" y2="536.5" stroke="#000" stroke-width="4.6"/>
<line x1="830" y1="534.4" x2="1330" y2="534.4" stroke="#000" stroke-width="4.6"/>
<line x1="830" y1="534.7" x2="846" y2="534.7" stroke="#000" stroke-width="4.3"/>
<text x="818" y="545.1" font-size="29.8" text-anchor="end" font-weight="normal" font-style="normal" fill="#000" >0</text>
<line x1="830" y1="448.8" x2="846" y2="448.8" stroke="#000" stroke-width="4.3"/>
<text x="818" y="459.175" font-size="29.8" text-anchor="end" font-weight="normal" font-style="normal" fill="#000" >5</text>
<line x1="830" y1="362.9" x2="846" y2="362.9" stroke="#000" stroke-width="4.3"/>
<text x="818" y="373.25" font-size="29.8" text-anchor="end" font-weight="normal" font-style="normal" fill="#000" >10</text>
<line x1="830" y1="276.9" x2="846" y2="276.9" stroke="#000" stroke-width="4.3"/>
<text x="818" y="287.32500000000005" font-size="29.8" text-anchor="end" font-weight="normal" font-style="normal" fill="#000" >15</text>
<line x1="830" y1="191.0" x2="846" y2="191.0" stroke="#000" stroke-width="4.3"/>
<text x="818" y="201.40000000000006" font-size="29.8" text-anchor="end" font-weight="normal" font-style="normal" fill="#000" >20</text>
<line x1="830" y1="105.1" x2="846" y2="105.1" stroke="#000" stroke-width="4.3"/>
<text x="818" y="115.47500000000011" font-size="29.8" text-anchor="end" font-weight="normal" font-style="normal" fill="#000" >25</text>
<text transform="translate(770.5,293.3) rotate(-90)" font-size="29.5" text-anchor="middle">%</text>
<text x="965.1" y="570.5" font-size="29.2" text-anchor="middle" font-weight="normal" font-style="normal" fill="#000" >All B cells</text>
<text x="1207.9" y="570.5" font-size="29.6" text-anchor="middle" font-weight="normal" font-style="normal" fill="#000" >CD38 high B</text>
<text x="1207.9" y="605.2" font-size="29.6" text-anchor="middle" font-weight="normal" font-style="normal" fill="#000" >cells</text>
<path d="M906.3,138 V119 Q906.3,112 913,112 H985 Q991.5,112 991.5,119 V138" fill="none" stroke="#000" stroke-width="3.8"/>
<text x="946" y="97" font-size="25" text-anchor="middle" font-weight="normal" font-style="italic" fill="#000" >NS</text>
<path d="M1178.5,344 V318.5 H1269.4 V344" fill="none" stroke="#333" stroke-width="1.6"/>
<text x="1225.4" y="300.2" font-size="29.8" text-anchor="middle" font-weight="normal" font-style="normal" fill="#000" >0.0007</text>
<rect x="1181.5" y="110.8" width="33.8" height="22.6" fill="#931100" stroke="#333" stroke-width="1.5"/>
<rect x="1181.5" y="159.6" width="33.8" height="22.9" fill="#039393" stroke="#333" stroke-width="1.5"/>
<text x="1227" y="132.3" font-size="29.8" text-anchor="start" font-weight="normal" font-style="normal" fill="#000" >Best</text>
<text x="1227" y="182" font-size="29.8" text-anchor="start" font-weight="normal" font-style="normal" fill="#000" >Poor</text>
<line x1="906" y1="161.5" x2="906" y2="500.3" stroke="#333" stroke-width="1.5"/>
<line x1="890.7" y1="161.5" x2="921.3" y2="161.5" stroke="#333" stroke-width="1.7"/>
<line x1="890.7" y1="500.3" x2="921.3" y2="500.3" stroke="#333" stroke-width="1.7"/>
<rect x="876.2" y="213" width="59.19999999999993" height="270.4" fill="#931100" stroke="#111" stroke-width="1.6"/>
<line x1="876.2" y1="374.3" x2="935.4" y2="374.3" stroke="#111" stroke-width="1.6"/>
<path d="M899.5,354.6 H912.5 M906,348.1 V361.1" stroke="#111" stroke-width="1.6"/>
<circle cx="906" cy="161.5" r="3.6" fill="#fff" stroke="#222" stroke-width="1.4"/>
<circle cx="906" cy="175.7" r="3.6" fill="#fff" stroke="#222" stroke-width="1.4"/>
<circle cx="906" cy="249.5" r="3.6" fill="#fff" stroke="#222" stroke-width="1.4"/>
<circle cx="906" cy="352.6" r="3.6" fill="#fff" stroke="#222" stroke-width="1.4"/>
<circle cx="906" cy="374.6" r="3.6" fill="#fff" stroke="#222" stroke-width="1.4"/>
<circle cx="906" cy="409.7" r="3.6" fill="#fff" stroke="#222" stroke-width="1.4"/>
<circle cx="899.2" cy="485" r="3.6" fill="#fff" stroke="#222" stroke-width="1.4"/>
<circle cx="912.3" cy="485" r="3.6" fill="#fff" stroke="#222" stroke-width="1.4"/>
<circle cx="906" cy="500.3" r="3.6" fill="#fff" stroke="#222" stroke-width="1.4"/>
<line x1="996.6" y1="163.8" x2="996.6" y2="525.4" stroke="#333" stroke-width="1.5"/>
<line x1="981.3000000000001" y1="163.8" x2="1011.9" y2="163.8" stroke="#333" stroke-width="1.7"/>
<line x1="981.3000000000001" y1="525.4" x2="1011.9" y2="525.4" stroke="#333" stroke-width="1.7"/>
<rect x="967.7" y="351.5" width="58.5" height="117.0" fill="#039393" stroke="#111" stroke-width="1.6"/>
<line x1="967.7" y1="413" x2="1026.2" y2="413" stroke="#111" stroke-width="1.6"/>
<path d="M990.1,390.5 H1003.1 M996.6,384.0 V397.0" stroke="#111" stroke-width="1.6"/>
<circle cx="996.6" cy="163.8" r="3.6" fill="#fff" stroke="#222" stroke-width="1.4"/>
<circle cx="996.6" cy="196.6" r="3.6" fill="#fff" stroke="#222" stroke-width="1.4"/>
<circle cx="996.6" cy="213.4" r="3.6" fill="#fff" stroke="#222" stroke-width="1.4"/>
<circle cx="990.5" cy="228.9" r="3.6" fill="#fff" stroke="#222" stroke-width="1.4"/>
<circle cx="1003" cy="227.4" r="3.6" fill="#fff" stroke="#222" stroke-width="1.4"/>
<circle cx="996.6" cy="313" r="3.6" fill="#fff" stroke="#222" stroke-width="1.4"/>
<circle cx="996.6" cy="337.2" r="3.6" fill="#fff" stroke="#222" stroke-width="1.4"/>
<circle cx="996.6" cy="364.3" r="3.6" fill="#fff" stroke="#222" stroke-width="1.4"/>
<circle cx="996.6" cy="371.5" r="3.6" fill="#fff" stroke="#222" stroke-width="1.4"/>
<circle cx="996.6" cy="378.5" r="3.6" fill="#fff" stroke="#222" stroke-width="1.4"/>
<circle cx="990.3" cy="394.6" r="3.6" fill="#fff" stroke="#222" stroke-width="1.4"/>
<circle cx="1003" cy="398.5" r="3.6" fill="#fff" stroke="#222" stroke-width="1.4"/>
<circle cx="996.6" cy="406.6" r="3.6" fill="#fff" stroke="#222" stroke-width="1.4"/>
<circle cx="1009.2" cy="410.5" r="3.6" fill="#fff" stroke="#222" stroke-width="1.4"/>
<circle cx="984" cy="415" r="3.6" fill="#fff" stroke="#222" stroke-width="1.4"/>
<circle cx="996.6" cy="413" r="3.6" fill="#fff" stroke="#222" stroke-width="1.4"/>
<circle cx="1009.2" cy="420" r="3.6" fill="#fff" stroke="#222" stroke-width="1.4"/>
<circle cx="984" cy="424.6" r="3.6" fill="#fff" stroke="#222" stroke-width="1.4"/>
<circle cx="996.6" cy="423.4" r="3.6" fill="#fff" stroke="#222" stroke-width="1.4"/>
<circle cx="996.6" cy="437.4" r="3.6" fill="#fff" stroke="#222" stroke-width="1.4"/>
<circle cx="990.5" cy="460.8" r="3.6" fill="#fff" stroke="#222" stroke-width="1.4"/>
<circle cx="1003" cy="460.8" r="3.6" fill="#fff" stroke="#222" stroke-width="1.4"/>
<circle cx="984" cy="475.7" r="3.6" fill="#fff" stroke="#222" stroke-width="1.4"/>
<circle cx="984" cy="486.5" r="3.6" fill="#fff" stroke="#222" stroke-width="1.4"/>
<circle cx="996.6" cy="480.5" r="3.6" fill="#fff" stroke="#222" stroke-width="1.4"/>
<circle cx="996.6" cy="487.7" r="3.6" fill="#fff" stroke="#222" stroke-width="1.4"/>
<circle cx="996.6" cy="496.2" r="3.6" fill="#fff" stroke="#222" stroke-width="1.4"/>
<circle cx="996.6" cy="504.6" r="3.6" fill="#fff" stroke="#222" stroke-width="1.4"/>
<circle cx="996.6" cy="525.4" r="3.6" fill="#fff" stroke="#222" stroke-width="1.4"/>
<line x1="1178.5" y1="467.3" x2="1178.5" y2="523" stroke="#333" stroke-width="1.5"/>
<line x1="1163.2" y1="467.3" x2="1193.8" y2="467.3" stroke="#333" stroke-width="1.7"/>
<line x1="1163.2" y1="523" x2="1193.8" y2="523" stroke="#333" stroke-width="1.7"/>
<rect x="1148.8" y="475" width="59.700000000000045" height="45.200000000000045" fill="#931100" stroke="#111" stroke-width="1.6"/>
<line x1="1148.8" y1="512.5" x2="1208.5" y2="512.5" stroke="#111" stroke-width="1.6"/>
<path d="M1172.0,502 H1185.0 M1178.5,495.5 V508.5" stroke="#111" stroke-width="1.6"/>
<circle cx="1178.5" cy="467.3" r="3.6" fill="#fff" stroke="#222" stroke-width="1.4"/>
<circle cx="1172.3" cy="474.4" r="3.6" fill="#fff" stroke="#222" stroke-width="1.4"/>
<circle cx="1184.8" cy="474.4" r="3.6" fill="#fff" stroke="#222" stroke-width="1.4"/>
<circle cx="1172.3" cy="506.7" r="3.6" fill="#fff" stroke="#222" stroke-width="1.4"/>
<circle cx="1159.8" cy="512.5" r="3.6" fill="#fff" stroke="#222" stroke-width="1.4"/>
<circle cx="1172.3" cy="518.3" r="3.6" fill="#fff" stroke="#222" stroke-width="1.4"/>
<circle cx="1159.8" cy="523" r="3.6" fill="#fff" stroke="#222" stroke-width="1.4"/>
<circle cx="1184.8" cy="523" r="3.6" fill="#fff" stroke="#222" stroke-width="1.4"/>
<circle cx="1197.3" cy="523" r="3.6" fill="#fff" stroke="#222" stroke-width="1.4"/>
<line x1="1269.4" y1="470.6" x2="1269.4" y2="531" stroke="#333" stroke-width="1.5"/>
<line x1="1254.1000000000001" y1="470.6" x2="1284.7" y2="470.6" stroke="#333" stroke-width="1.7"/>
<line x1="1254.1000000000001" y1="531" x2="1284.7" y2="531" stroke="#333" stroke-width="1.7"/>
<rect x="1241" y="522.5" width="59" height="7.0" fill="#039393" stroke="#111" stroke-width="1.6"/>
<line x1="1241" y1="526.5" x2="1300" y2="526.5" stroke="#111" stroke-width="1.6"/>
<circle cx="1269.4" cy="470.6" r="3.4" fill="#fff" stroke="#222" stroke-width="1.4"/>
<circle cx="1269.4" cy="487" r="3.4" fill="#fff" stroke="#222" stroke-width="1.4"/>
<circle cx="1275.8" cy="507.7" r="3.4" fill="#fff" stroke="#222" stroke-width="1.4"/>
<circle cx="1266.5" cy="509.6" r="3.4" fill="#fff" stroke="#222" stroke-width="1.4"/>
<circle cx="1271.3" cy="514" r="3.4" fill="#fff" stroke="#222" stroke-width="1.4"/>
<circle cx="1266" cy="518" r="3.4" fill="#fff" stroke="#222" stroke-width="1.4"/>
<circle cx="1272" cy="521" r="3.4" fill="#fff" stroke="#222" stroke-width="1.4"/>
<circle cx="1241" cy="524" r="3.4" fill="#fff" stroke="#222" stroke-width="1.4"/>
<circle cx="1247" cy="524" r="3.4" fill="#fff" stroke="#222" stroke-width="1.4"/>
<circle cx="1262" cy="524" r="3.4" fill="#fff" stroke="#222" stroke-width="1.4"/>
<circle cx="1284" cy="523" r="3.4" fill="#fff" stroke="#222" stroke-width="1.4"/>
<circle cx="1296" cy="524" r="3.4" fill="#fff" stroke="#222" stroke-width="1.4"/>
<circle cx="1300" cy="524" r="3.4" fill="#fff" stroke="#222" stroke-width="1.4"/>
<circle cx="1254" cy="524" r="3.4" fill="#fff" stroke="#222" stroke-width="1.4"/>
<circle cx="1278" cy="525" r="3.4" fill="#fff" stroke="#222" stroke-width="1.4"/>
<circle cx="1241" cy="530" r="3.4" fill="#fff" stroke="#222" stroke-width="1.4"/>
<circle cx="1250" cy="530" r="3.4" fill="#fff" stroke="#222" stroke-width="1.4"/>
<circle cx="1258" cy="531" r="3.4" fill="#fff" stroke="#222" stroke-width="1.4"/>
<circle cx="1264" cy="529" r="3.4" fill="#fff" stroke="#222" stroke-width="1.4"/>
<circle cx="1270" cy="531" r="3.4" fill="#fff" stroke="#222" stroke-width="1.4"/>
<circle cx="1276" cy="530" r="3.4" fill="#fff" stroke="#222" stroke-width="1.4"/>
<circle cx="1283" cy="531" r="3.4" fill="#fff" stroke="#222" stroke-width="1.4"/>
<circle cx="1290" cy="529" r="3.4" fill="#fff" stroke="#222" stroke-width="1.4"/>
<circle cx="1297" cy="530" r="3.4" fill="#fff" stroke="#222" stroke-width="1.4"/>
<circle cx="1300" cy="530" r="3.4" fill="#fff" stroke="#222" stroke-width="1.4"/>
<circle cx="1246" cy="527" r="3.4" fill="#fff" stroke="#222" stroke-width="1.4"/>
<circle cx="1287" cy="527" r="3.4" fill="#fff" stroke="#222" stroke-width="1.4"/>
<circle cx="1260" cy="527" r="3.4" fill="#fff" stroke="#222" stroke-width="1.4"/>
<circle cx="1253" cy="529" r="3.4" fill="#fff" stroke="#222" stroke-width="1.4"/>
<defs><linearGradient id="hg" x1="0" y1="0" x2="0" y2="1"><stop offset="0" stop-color="#dedede"/><stop offset="1" stop-color="#f1f1f1"/></linearGradient></defs>
<rect x="126.4" y="705.5" width="558.7" height="33.4" fill="url(#hg)"/>
<rect x="97.3" y="743.9" width="22" height="21.8" fill="#00aaaa"/>
<rect x="97.3" y="777" width="22" height="21.8" fill="#dd0000"/>
<rect x="92.8" y="705.5" width="592.3" height="100.8" fill="none" stroke="#333" stroke-width="2"/>
<line x1="126.4" y1="705.5" x2="126.4" y2="806.3" stroke="#555" stroke-width="1.6"/>
<line x1="430.5" y1="705.5" x2="430.5" y2="806.3" stroke="#555" stroke-width="1.6"/>
<line x1="584.5" y1="705.5" x2="584.5" y2="806.3" stroke="#555" stroke-width="1.6"/>
<line x1="92.8" y1="738.9" x2="685.1" y2="738.9" stroke="#555" stroke-width="1.6"/>
<line x1="92.8" y1="772.4" x2="685.1" y2="772.4" stroke="#555" stroke-width="1.6"/>
<text x="273.4" y="728.8" font-size="21.1" text-anchor="middle" font-weight="normal" font-style="normal" fill="#000" >Sample name</text>
<text x="506.7" y="728.8" font-size="21.1" text-anchor="middle" font-weight="normal" font-style="normal" fill="#000" >Subset name</text>
<text x="636.9" y="728.8" font-size="21.1" text-anchor="middle" font-weight="normal" font-style="normal" fill="#000" >Count</text>
<text x="139.3" y="761.8" font-size="21.1" text-anchor="start" font-weight="normal" font-style="normal" fill="#000" >Concat all All wk0 cells_1.fcs</text>
<text x="139.3" y="795.2" font-size="21.1" text-anchor="start" font-weight="normal" font-style="normal" fill="#000" >Concat all All wk0 cells_1.fcs</text>
<text x="444.8" y="761.8" font-size="21.1" text-anchor="start" font-weight="normal" font-style="normal" fill="#000" >Poor</text>
<text x="444.8" y="795.2" font-size="21.1" text-anchor="start" font-weight="normal" font-style="normal" fill="#000" >Best</text>
<text x="666.5" y="761.8" font-size="21.1" text-anchor="end" font-weight="normal" font-style="normal" fill="#000" >87000</text>
<text x="666.5" y="795.2" font-size="21.1" text-anchor="end" font-weight="normal" font-style="normal" fill="#000" >27000</text>
<line x1="914.7" y1="725.6" x2="946.9" y2="725.6" stroke="#b3312c" stroke-width="1.7"/>
<rect x="929.3" y="720.3" width="3.2" height="5.5" fill="#8e0e0a"/>
<path d="M915.8,785.7 H923 M930.5,785.7 H941 M947,785.7 H949.3" stroke="#119999" stroke-width="2.8"/>
<rect x="930.5" y="780.5" width="3" height="5" fill="#119999"/>
<text x="959.5" y="731.9" font-size="25.3">&gt; HIGH CD38<tspan font-size="17" dy="-10.5">+high</tspan><tspan dy="10.5"> B cells</tspan></text>
<text x="959.5" y="792.5" font-size="25.3">&lt; LOW CD38<tspan font-size="17" dy="-10.5">+high</tspan><tspan dy="10.5"> B cells</tspan></text>
<line x1="142.3" y1="882.8" x2="142.3" y2="1217.6" stroke="#000" stroke-width="3"/>
<line x1="128.3" y1="1204.6" x2="624.2" y2="1204.6" stroke="#000" stroke-width="3"/>
<line x1="128.3" y1="884.3" x2="142.3" y2="884.3" stroke="#000" stroke-width="3"/>
<text x="116.00000000000001" y="894.8" font-size="29" text-anchor="end" font-weight="normal" font-style="normal" fill="#000" >100</text>
<line x1="128.3" y1="948.4" x2="142.3" y2="948.4" stroke="#000" stroke-width="3"/>
<text x="116.00000000000001" y="958.8599999999999" font-size="29" text-anchor="end" font-weight="normal" font-style="normal" fill="#000" >80</text>
<line x1="128.3" y1="1012.4" x2="142.3" y2="1012.4" stroke="#000" stroke-width="3"/>
<text x="116.00000000000001" y="1022.92" font-size="29" text-anchor="end" font-weight="normal" font-style="normal" fill="#000" >60</text>
<line x1="128.3" y1="1076.5" x2="142.3" y2="1076.5" stroke="#000" stroke-width="3"/>
<text x="116.00000000000001" y="1086.98" font-size="29" text-anchor="end" font-weight="normal" font-style="normal" fill="#000" >40</text>
<line x1="128.3" y1="1140.5" x2="142.3" y2="1140.5" stroke="#000" stroke-width="3"/>
<text x="116.00000000000001" y="1151.04" font-size="29" text-anchor="end" font-weight="normal" font-style="normal" fill="#000" >20</text>
<line x1="128.3" y1="1204.6" x2="142.3" y2="1204.6" stroke="#000" stroke-width="3"/>
<text x="116.00000000000001" y="1215.1" font-size="29" text-anchor="end" font-weight="normal" font-style="normal" fill="#000" >0</text>
<line x1="142.3" y1="1204.6" x2="142.3" y2="1217.6" stroke="#000" stroke-width="3"/>
<text x="142.3" y="1253.6" font-size="29" text-anchor="middle" font-weight="normal" font-style="normal" fill="#000" >0</text>
<line x1="262.4" y1="1204.6" x2="262.4" y2="1217.6" stroke="#000" stroke-width="3"/>
<text x="262.4" y="1253.6" font-size="29" text-anchor="middle" font-weight="normal" font-style="normal" fill="#000" >10</text>
<line x1="382.5" y1="1204.6" x2="382.5" y2="1217.6" stroke="#000" stroke-width="3"/>
<text x="382.5" y="1253.6" font-size="29" text-anchor="middle" font-weight="normal" font-style="normal" fill="#000" >20</text>
<line x1="502.6" y1="1204.6" x2="502.6" y2="1217.6" stroke="#000" stroke-width="3"/>
<text x="502.59999999999997" y="1253.6" font-size="29" text-anchor="middle" font-weight="normal" font-style="normal" fill="#000" >30</text>
<line x1="622.7" y1="1204.6" x2="622.7" y2="1217.6" stroke="#000" stroke-width="3"/>
<text x="622.7" y="1253.6" font-size="29" text-anchor="middle" font-weight="normal" font-style="normal" fill="#000" >40</text>
<text x="380.5" y="1292.1" font-size="29" text-anchor="middle" font-weight="normal" font-style="normal" fill="#000" >Overall survival (months)</text>
<text transform="translate(50.5,1044.4) rotate(-90)" font-size="29" text-anchor="middle">Probability of survival</text>
<text x="0.5" y="883.5" font-size="42" text-anchor="start" font-weight="bold" font-style="normal" fill="#000" >c</text>
<path d="M143,884.4 H148.8 V902.3 H175.2 V921.8 H183 V941.4 H189.9 V959.9 H228 V978.1 H256.3 V998 H279.8 V1015.6 H288.8 V1053.4 H316.2 V1090.2 H336 V1111.3 H405.2 V1129 H454 V1148 H461.6 V1186 H548 V1204.6" fill="none" stroke="#119999" stroke-width="3" stroke-dasharray="10 5.5"/>
<path d="M143,884.4 H169.3 V899.3 H199.2 V915 H212.3 V929.2 H229 V944.9 H265.5 V960.5 H320.8 V976.2 H338.4 V991.2 H341.5 V1006.7 H348.8 V1021.8 H414 V1036.8 H475.6 V1066.4 H506 V1082.4 H509.6 V1098 H515 V1143 H548 V1159 H552 V1189 H573 V1204.6" fill="none" stroke="#b3312c" stroke-width="1.8"/>
<text x="305.3" y="914.7" font-size="29">**<tspan font-style="italic">P</tspan> = 0.0077</text>
<rect x="167.3" y="893" width="4" height="6" fill="#8e0e0a"/>
<rect x="197.2" y="909" width="4" height="6" fill="#8e0e0a"/>
<rect x="210.3" y="923" width="4" height="6" fill="#8e0e0a"/>
<rect x="227" y="939" width="4" height="6" fill="#8e0e0a"/>
<rect x="263.5" y="954" width="4" height="6" fill="#8e0e0a"/>
<rect x="318.8" y="969" width="4" height="6" fill="#8e0e0a"/>
<rect x="336.4" y="984" width="4" height="6" fill="#8e0e0a"/>
<rect x="339.5" y="1000" width="4" height="6" fill="#8e0e0a"/>
<rect x="346.8" y="1015" width="4" height="6" fill="#8e0e0a"/>
<rect x="412" y="1030" width="4" height="6" fill="#8e0e0a"/>
<rect x="473.6" y="1045" width="4" height="6" fill="#8e0e0a"/>
<rect x="473.6" y="1060" width="4" height="6" fill="#8e0e0a"/>
<rect x="504" y="1076" width="4" height="6" fill="#8e0e0a"/>
<rect x="507.6" y="1091" width="4" height="6" fill="#8e0e0a"/>
<rect x="512" y="1108" width="4" height="6" fill="#8e0e0a"/>
<rect x="512" y="1122" width="4" height="6" fill="#8e0e0a"/>
<rect x="513" y="1136" width="4" height="6" fill="#8e0e0a"/>
<rect x="546" y="1152" width="4" height="6" fill="#8e0e0a"/>
<rect x="548" y="1167" width="4" height="6" fill="#8e0e0a"/>
<rect x="550" y="1183" width="4" height="6" fill="#8e0e0a"/>
<rect x="571" y="1198" width="4" height="6" fill="#8e0e0a"/>
<rect x="146.3" y="894.5" width="5" height="7" rx="2" fill="#119999"/>
<rect x="172.7" y="914.5" width="5" height="7" rx="2" fill="#119999"/>
<rect x="180.5" y="933.5" width="5" height="7" rx="2" fill="#119999"/>
<rect x="187.4" y="951.5" width="5" height="7" rx="2" fill="#119999"/>
<rect x="225.5" y="971.5" width="5" height="7" rx="2" fill="#119999"/>
<rect x="253.8" y="991.5" width="5" height="7" rx="2" fill="#119999"/>
<rect x="277.3" y="1008.5" width="5" height="7" rx="2" fill="#119999"/>
<rect x="286.3" y="1031.5" width="5" height="7" rx="2" fill="#119999"/>
<rect x="286.3" y="1046.5" width="5" height="7" rx="2" fill="#119999"/>
<rect x="313.7" y="1066.5" width="5" height="7" rx="2" fill="#119999"/>
<rect x="313.7" y="1083.5" width="5" height="7" rx="2" fill="#119999"/>
<rect x="333.5" y="1104.5" width="5" height="7" rx="2" fill="#119999"/>
<rect x="402.7" y="1122.5" width="5" height="7" rx="2" fill="#119999"/>
<rect x="451.5" y="1140.5" width="5" height="7" rx="2" fill="#119999"/>
<rect x="459.1" y="1159.5" width="5" height="7" rx="2" fill="#119999"/>
<rect x="459.1" y="1179.5" width="5" height="7" rx="2" fill="#119999"/>
<rect x="545.5" y="1197.5" width="5" height="7" rx="2" fill="#119999"/>
<line x1="798.8" y1="886.0" x2="798.8" y2="1218.5" stroke="#000" stroke-width="3"/>
<line x1="784.8" y1="1205.5" x2="1277.6" y2="1205.5" stroke="#000" stroke-width="3"/>
<line x1="784.8" y1="887.5" x2="798.8" y2="887.5" stroke="#000" stroke-width="3"/>
<text x="774.3" y="898.0" font-size="29" text-anchor="end" font-weight="normal" font-style="normal" fill="#000" >100</text>
<line x1="784.8" y1="951.0" x2="798.8" y2="951.0" stroke="#000" stroke-width="3"/>
<text x="774.3" y="961.5" font-size="29" text-anchor="end" font-weight="normal" font-style="normal" fill="#000" >80</text>
<line x1="784.8" y1="1014.5" x2="798.8" y2="1014.5" stroke="#000" stroke-width="3"/>
<text x="774.3" y="1025.0" font-size="29" text-anchor="end" font-weight="normal" font-style="normal" fill="#000" >60</text>
<line x1="784.8" y1="1078.0" x2="798.8" y2="1078.0" stroke="#000" stroke-width="3"/>
<text x="774.3" y="1088.5" font-size="29" text-anchor="end" font-weight="normal" font-style="normal" fill="#000" >40</text>
<line x1="784.8" y1="1141.5" x2="798.8" y2="1141.5" stroke="#000" stroke-width="3"/>
<text x="774.3" y="1152.0" font-size="29" text-anchor="end" font-weight="normal" font-style="normal" fill="#000" >20</text>
<line x1="784.8" y1="1205.0" x2="798.8" y2="1205.0" stroke="#000" stroke-width="3"/>
<text x="774.3" y="1215.5" font-size="29" text-anchor="end" font-weight="normal" font-style="normal" fill="#000" >0</text>
<line x1="798.3" y1="1205.5" x2="798.3" y2="1218.5" stroke="#000" stroke-width="3"/>
<text x="798.3" y="1254.5" font-size="29" text-anchor="middle" font-weight="normal" font-style="normal" fill="#000" >0</text>
<line x1="917.8" y1="1205.5" x2="917.8" y2="1218.5" stroke="#000" stroke-width="3"/>
<text x="917.75" y="1254.5" font-size="29" text-anchor="middle" font-weight="normal" font-style="normal" fill="#000" >10</text>
<line x1="1037.2" y1="1205.5" x2="1037.2" y2="1218.5" stroke="#000" stroke-width="3"/>
<text x="1037.2" y="1254.5" font-size="29" text-anchor="middle" font-weight="normal" font-style="normal" fill="#000" >20</text>
<line x1="1156.7" y1="1205.5" x2="1156.7" y2="1218.5" stroke="#000" stroke-width="3"/>
<text x="1156.65" y="1254.5" font-size="29" text-anchor="middle" font-weight="normal" font-style="normal" fill="#000" >30</text>
<line x1="1276.1" y1="1205.5" x2="1276.1" y2="1218.5" stroke="#000" stroke-width="3"/>
<text x="1276.1" y="1254.5" font-size="29" text-anchor="middle" font-weight="normal" font-style="normal" fill="#000" >40</text>
<text x="1030.5" y="1293.0" font-size="29" text-anchor="middle" font-weight="normal" font-style="normal" fill="#000" >Progression-free survival (months)</text>
<text transform="translate(709.7,1046.2) rotate(-90)" font-size="29" text-anchor="middle">Probability of survival</text>
<text x="683" y="883.5" font-size="42" text-anchor="start" font-weight="bold" font-style="normal" fill="#000" >d</text>
<path d="M799,887.5 H800.5 V904.7 H804.8 V924.4 H818.5 V1034.6 H830.1 V1055.5 H839.7 V1074 H842 V1093 H844 V1111.5 H845.9 V1129.5 H849.7 V1148.7 H864 V1167.2 H884.4 V1186.5 H990.7 V1205" fill="none" stroke="#119999" stroke-width="3" stroke-dasharray="10 5.5"/>
<path d="M799,887.5 H806.8 V902.3 H819.4 V948.1 H841.2 V978 H851.5 V993.5 H878.6 V1008.8 H887.7 V1023.8 H896.7 V1038.7 H918.3 V1053.7 H926.2 V1069 H943 V1084 H952.2 V1099.4 H971.5 V1114.8 H1012.6 V1129.7 H1068 V1145.1 H1160.5 V1159.5 H1163.5 V1175.1 H1202 V1190.5 H1226.7 V1205" fill="none" stroke="#b3312c" stroke-width="1.8"/>
<text x="954.5" y="915.6" font-size="29.2">***<tspan font-style="italic">P</tspan> = 0.0003</text>
<rect x="804.8" y="896" width="4" height="6" fill="#8e0e0a"/>
<rect x="817.4" y="911" width="4" height="6" fill="#8e0e0a"/>
<rect x="817.4" y="926" width="4" height="6" fill="#8e0e0a"/>
<rect x="817.4" y="941" width="4" height="6" fill="#8e0e0a"/>
<rect x="839.2" y="957" width="4" height="6" fill="#8e0e0a"/>
<rect x="839.2" y="972" width="4" height="6" fill="#8e0e0a"/>
<rect x="849.5" y="987" width="4" height="6" fill="#8e0e0a"/>
<rect x="876.6" y="1002" width="4" height="6" fill="#8e0e0a"/>
<rect x="885.7" y="1017" width="4" height="6" fill="#8e0e0a"/>
<rect x="894.7" y="1032" width="4" height="6" fill="#8e0e0a"/>
<rect x="916.3" y="1047" width="4" height="6" fill="#8e0e0a"/>
<rect x="924.2" y="1062" width="4" height="6" fill="#8e0e0a"/>
<rect x="941" y="1078" width="4" height="6" fill="#8e0e0a"/>
<rect x="950.2" y="1093" width="4" height="6" fill="#8e0e0a"/>
<rect x="969.5" y="1108" width="4" height="6" fill="#8e0e0a"/>
<rect x="1010.6" y="1123" width="4" height="6" fill="#8e0e0a"/>
<rect x="1066" y="1138" width="4" height="6" fill="#8e0e0a"/>
<rect x="1158.5" y="1153" width="4" height="6" fill="#8e0e0a"/>
<rect x="1161.5" y="1169" width="4" height="6" fill="#8e0e0a"/>
<rect x="1200" y="1184" width="4" height="6" fill="#8e0e0a"/>
<rect x="1224.7" y="1199" width="4" height="6" fill="#8e0e0a"/>
<rect x="798.0" y="896.5" width="5" height="7" rx="2" fill="#119999"/>
<rect x="802.3" y="916.5" width="5" height="7" rx="2" fill="#119999"/>
<rect x="816.0" y="936.5" width="5" height="7" rx="2" fill="#119999"/>
<rect x="816.0" y="954.5" width="5" height="7" rx="2" fill="#119999"/>
<rect x="816.0" y="973.5" width="5" height="7" rx="2" fill="#119999"/>
<rect x="816.0" y="992.5" width="5" height="7" rx="2" fill="#119999"/>
<rect x="816.0" y="1011.5" width="5" height="7" rx="2" fill="#119999"/>
<rect x="816.0" y="1027.5" width="5" height="7" rx="2" fill="#119999"/>
<rect x="827.6" y="1048.5" width="5" height="7" rx="2" fill="#119999"/>
<rect x="837.2" y="1066.5" width="5" height="7" rx="2" fill="#119999"/>
<rect x="839.5" y="1085.5" width="5" height="7" rx="2" fill="#119999"/>
<rect x="841.5" y="1104.5" width="5" height="7" rx="2" fill="#119999"/>
<rect x="843.4" y="1122.5" width="5" height="7" rx="2" fill="#119999"/>
<rect x="847.2" y="1141.5" width="5" height="7" rx="2" fill="#119999"/>
<rect x="861.5" y="1159.5" width="5" height="7" rx="2" fill="#119999"/>
<rect x="881.9" y="1179.5" width="5" height="7" rx="2" fill="#119999"/>
<rect x="988.2" y="1197.5" width="5" height="7" rx="2" fill="#119999"/>
</svg>
</body></html>
